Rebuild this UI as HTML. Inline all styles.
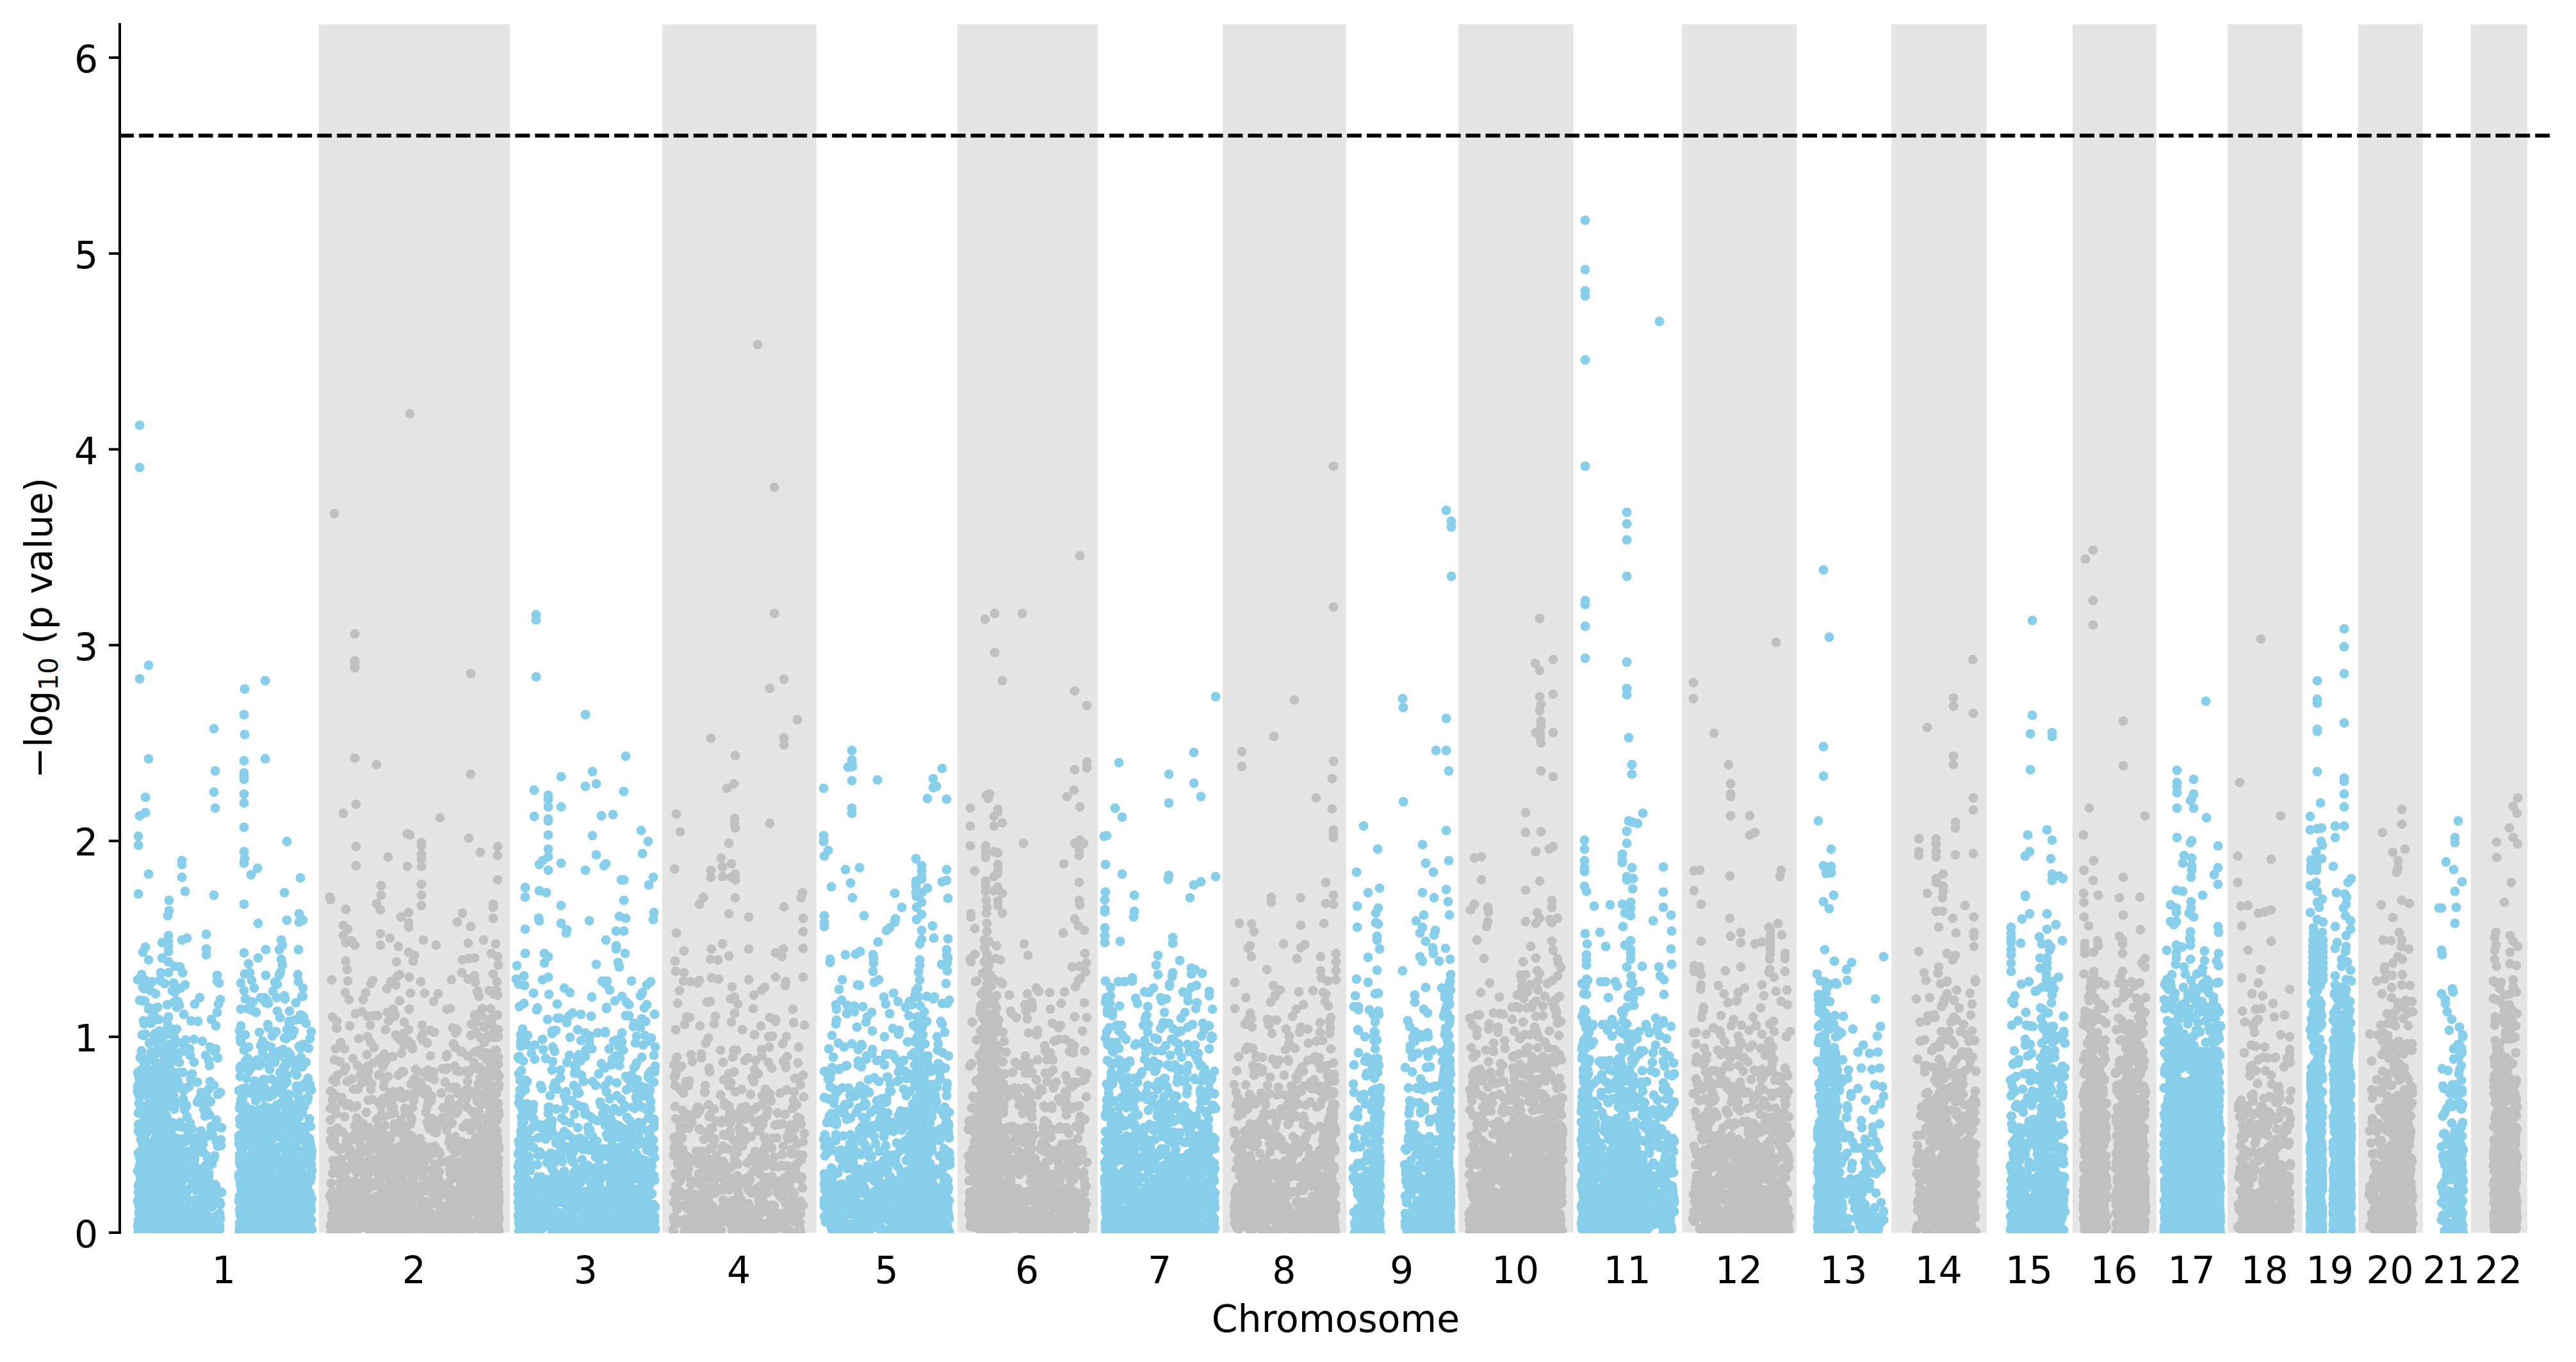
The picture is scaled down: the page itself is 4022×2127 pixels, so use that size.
<!DOCTYPE html><html><head><meta charset="utf-8"><style>html,body{margin:0;padding:0;background:#fff}svg{display:block}</style></head><body><svg width="4022" height="2127" viewBox="0 0 4022 2127"><rect width="4022" height="2127" fill="#fff"/><defs><clipPath id="c"><rect x="187.0" y="38.0" width="3794.0" height="1888.0"/></clipPath></defs><rect x="498" y="38.0" width="298.0" height="1887.0" fill="#e5e5e5"/><rect x="1034" y="38.0" width="240.8" height="1887.0" fill="#e5e5e5"/><rect x="1495" y="38.0" width="218.8" height="1887.0" fill="#e5e5e5"/><rect x="1909" y="38.0" width="192.9" height="1887.0" fill="#e5e5e5"/><rect x="2277" y="38.0" width="179.7" height="1887.0" fill="#e5e5e5"/><rect x="2626.1" y="38.0" width="178.9" height="1887.0" fill="#e5e5e5"/><rect x="2953.1" y="38.0" width="148.8" height="1887.0" fill="#e5e5e5"/><rect x="3236" y="38.0" width="130.9" height="1887.0" fill="#e5e5e5"/><rect x="3478" y="38.0" width="117.0" height="1887.0" fill="#e5e5e5"/><rect x="3682" y="38.0" width="100.9" height="1887.0" fill="#e5e5e5"/><rect x="3858" y="38.0" width="87.9" height="1887.0" fill="#e5e5e5"/><g clip-path="url(#c)"><path d="M215 1530h0m0 145h0m0 21h0m0 6h0m0 4h0m0 123h0m0 46h0m0 39h0m1-608h0m0 14h0m0 76h0m0 342h0m0 18h0m0 10h0m0 35h0m0 26h0m0 2h0m0 23h0m0 10h0m0 15h0m0 29h0m0 6h0m0 2h0m0 9h0m1-241h0m0 19h0m0 22h0m0 126h0m0 24h0m0 10h0m0 10h0m0 2h0m1-1231h0m0 66h0m0 330h0m0 214h0m0 288h0m0 126h0m0 25h0m0 56h0m0 0h0m0 39h0m0 12h0m0 3h0m0 26h0m0 14h0m0 5h0m0 41h0m1-258h0m0 1h0m0 20h0m0 32h0m0 30h0m0 21h0m0 14h0m0 69h0m0 19h0m0 43h0m1-120h0m0 17h0m0 17h0m0 2h0m0 21h0m0 3h0m0 49h0m1-367h0m0 119h0m0 131h0m1-156h0m0 34h0m0 80h0m0 68h0m0 32h0m0 12h0m1-355h0m0 54h0m0 22h0m0 166h0m0 58h0m0 3h0m0 25h0m1-221h0m0 23h0m0 73h0m0 52h0m0 10h0m0 122h0m1-335h0m0 5h0m0 55h0m0 62h0m0 19h0m0 184h0m1-301h0m0 141h0m0 61h0m0 8h0m0 138h0m1-666h0m0 24h0m0 210h0m0 52h0m0 84h0m0 44h0m0 238h0m0 24h0m1-263h0m0 2h0m0 49h0m0 100h0m0 32h0m0 43h0m1-190h0m0 49h0m0 26h0m0 15h0m0 124h0m1-182h0m0 70h0m0 29h0m0 27h0m1-157h0m0 11h0m0 7h0m0 160h0m0 49h0m1-883h0m0 146h0m0 180h0m0 134h0m0 77h0m0 0h0m0 95h0m0 83h0m0 10h0m1-226h0m0 36h0m0 55h0m0 187h0m0 21h0m1-103h0m0 30h0m0 21h0m0 1h0m1-239h0m0 136h0m0 178h0m0 28h0m1-298h0m0 7h0m0 45h0m0 2h0m0 35h0m0 61h0m0 58h0m0 49h0m0 71h0m1-268h0m0 48h0m0 20h0m0 182h0m1-368h0m0 163h0m0 67h0m1-174h0m0 65h0m0 30h0m0 133h0m0 62h0m1-304h0m0 9h0m0 67h0m0 33h0m0 68h0m0 31h0m0 23h0m0 39h0m1-227h0m0 171h0m0 39h0m0 39h0m0 45h0m1-298h0m0 9h0m0 46h0m0 42h0m0 17h0m0 7h0m0 43h0m0 113h0m1-339h0m0 107h0m0 107h0m0 42h0m0 30h0m0 19h0m0 65h0m1-202h0m1-91h0m1-56h0m0 63h0m0 35h0m0 29h0m0 47h0m0 34h0m0 97h0m1-236h0m0 2h0m0 224h0m1-276h0m0 162h0m0 42h0m0 21h0m0 84h0m1-291h0m0 72h0m0 10h0m0 155h0m1-317h0m0 184h0m0 23h0m0 122h0m0 30h0m1-370h0m0 13h0m0 129h0m0 110h0m0 148h0m1-187h0m0 54h0m0 42h0m0 80h0m1-436h0m0 24h0m0 123h0m0 3h0m0 177h0m0 38h0m1-134h0m0 7h0m0 4h0m0 11h0m0 38h0m0 44h0m1-134h0m1-41h0m0 49h0m0 70h0m0 29h0m0 39h0m0 39h0m0 20h0m0 42h0m1-384h0m0 118h0m0 10h0m0 76h0m0 130h0m1-71h0m0 32h0m0 15h0m1-201h0m0 38h0m0 47h0m0 52h0m0 115h0m1-197h0m0 43h0m0 51h0m0 91h0m1-316h0m0 24h0m0 22h0m0 18h0m0 75h0m0 200h0m1-478h0m0 171h0m0 5h0m0 29h0m0 26h0m0 157h0m1-357h0m0 9h0m0 7h0m0 9h0m0 16h0m0 17h0m0 69h0m0 104h0m0 59h0m0 18h0m0 93h0m0 58h0m1-514h0m0 16h0m0 213h0m0 14h0m0 161h0m0 28h0m0 37h0m0 13h0m0 21h0m1-278h0m0 52h0m0 37h0m0 37h0m0 99h0m1-250h0m0 83h0m0 1h0m0 82h0m1-114h0m0 13h0m0 82h0m0 17h0m0 56h0m0 24h0m0 49h0m1-205h0m0 70h0m0 10h0m0 2h0m1-229h0m0 206h0m0 34h0m0 13h0m1-76h0m0 83h0m0 113h0m1-385h0m0 143h0m0 24h0m0 9h0m0 17h0m0 139h0m1-302h0m0 54h0m0 23h0m0 15h0m0 75h0m0 25h0m0 122h0m1-370h0m0 41h0m0 269h0m0 35h0m0 54h0m1-73h0m1 7h0m0 47h0m1-316h0m0 34h0m0 22h0m0 149h0m0 77h0m1-206h0m0 141h0m0 11h0m0 68h0m1-305h0m0 64h0m0 61h0m0 94h0m0 28h0m0 88h0m0 23h0m1-247h0m0 23h0m0 24h0m0 37h0m0 68h0m0 25h0m0 62h0m1-344h0m0 89h0m0 96h0m1-245h0m0 186h0m0 57h0m0 85h0m0 20h0m1-315h0m0 277h0m0 61h0m1-182h0m0 114h0m0 39h0m0 2h0m0 14h0m0 20h0m1-544h0m0 6h0m0 20h0m0 98h0m0 311h0m0 18h0m0 72h0m0 12h0m1-362h0m0 123h0m0 118h0m1-85h0m0 41h0m0 93h0m0 26h0m0 71h0m1-322h0m0 119h0m0 139h0m1-109h0m0 163h0m0 27h0m1-531h0m0 146h0m0 99h0m0 146h0m0 104h0m1-263h0m0 203h0m0 88h0m1-189h0m0 2h0m0 134h0m0 6h0m0 19h0m1-422h0m0 279h0m0 31h0m1-77h0m0 100h0m0 14h0m0 78h0m1-119h0m0 150h0m1-224h0m0 78h0m0 82h0m0 44h0m1-263h0m1 10h0m0 106h0m0 122h0m1-282h0m0 91h0m0 116h0m0 39h0m0 65h0m1-124h0m0 43h0m0 52h0m1-199h0m0 86h0m0 87h0m0 57h0m0 11h0m2-99h0m0 10h0m0 8h0m0 54h0m0 0h0m0 6h0m0 1h0m0 11h0m1-286h0m0 36h0m0 133h0m0 45h0m0 54h0m1-323h0m0 243h0m0 63h0m1-71h0m0 20h0m0 78h0m0 22h0m1-146h0m0 46h0m0 36h0m0 20h0m1-40h0m0 19h0m1-168h0m0 31h0m0 60h0m0 125h0m1-311h0m0 181h0m0 50h0m1-27h0m0 82h0m1-165h0m0 72h0m0 86h0m0 42h0m1-358h0m0 218h0m0 72h0m0 40h0m1-14h0m1-168h0m0 15h0m0 45h0m0 74h0m0 8h0m0 12h0m0 12h0m1-9h0m1-237h0m0 147h0m1 14h0m0 38h0m0 73h0m0 12h0m0 0h0m0 12h0m1-190h0m0 68h0m1 78h0m0 9h0m0 10h0m1-154h0m0 78h0m0 71h0m0 22h0m1-266h0m0 128h0m0 99h0m1-416h0m0 23h0m0 9h0m0 221h0m0 123h0m0 22h0m0 14h0m1-136h0m0 136h0m1-65h0m0 3h0m0 9h0m1 48h0m0 43h0m0 14h0m1-267h0m0 45h0m0 131h0m0 6h0m1-174h0m0 77h0m0 107h0m0 52h0m0 0h0m1-265h0m0 54h0m0 32h0m0 181h0m1-182h0m0 48h0m1-176h0m0 167h0m0 143h0m0 14h0m1-151h0m0 1h0m0 50h0m0 2h0m0 67h0m1-111h0m0 88h0m2-724h0m0 99h0m0 161h0m0 297h0m0 114h0m0 44h0m1-211h0m0 163h0m0 69h0m1-670h0m0 58h0m0 588h0m0 23h0m1-271h0m0 36h0m0 214h0m0 7h0m0 63h0m1-173h0m0 34h0m0 73h0m0 43h0m0 12h0m1-388h0m0 9h0m0 49h0m1 71h0m0 57h0m0 81h0m1-222h0m0 348h0m1-381h0m1 225h0m0 117h0m0 18h0m0 19h0m0 6h0m1-359h0m0 145h0m0 81h0m0 94h0m0 22h0m1-123h0m0 9h0m1-28h0m0 101h0m27-159h0m0 71h0m0 3h0m0 9h0m0 48h0m0 4h0m0 38h0m1-266h0m0 121h0m0 17h0m0 25h0m0 30h0m0 6h0m0 7h0m0 52h0m0 21h0m0 21h0m0 8h0m0 0h0m0 3h0m0 1h0m0 2h0m0 0h0m1-302h0m0 44h0m0 2h0m0 1h0m0 12h0m0 44h0m0 31h0m0 62h0m0 24h0m0 7h0m0 43h0m0 5h0m0 21h0m0 4h0m1-387h0m0 41h0m0 26h0m0 23h0m0 2h0m0 38h0m0 53h0m0 14h0m0 16h0m0 45h0m0 14h0m0 14h0m0 11h0m0 9h0m0 12h0m0 33h0m0 13h0m1-198h0m0 70h0m0 5h0m0 70h0m0 13h0m1-149h0m0 23h0m0 11h0m0 62h0m0 23h0m0 2h0m0 29h0m0 1h0m0 40h0m1-187h0m0 31h0m0 55h0m1-100h0m0 37h0m0 21h0m0 32h0m1-674h0m0 72h0m0 19h0m0 5h0m0 5h0m0 23h0m0 14h0m0 38h0m0 38h0m0 18h0m0 64h0m0 76h0m0 59h0m0 93h0m0 266h0m0 13h0m1-843h0m0 71h0m0 194h0m0 180h0m0 187h0m0 169h0m0 14h0m1-331h0m0 56h0m0 41h0m0 70h0m0 31h0m0 79h0m0 17h0m1-294h0m0 139h0m0 111h0m0 9h0m0 47h0m1-182h0m0 100h0m0 5h0m1-127h0m0 112h0m1-199h0m0 78h0m0 88h0m0 69h0m0 111h0m1-416h0m0 130h0m0 38h0m0 71h0m0 7h0m0 84h0m0 30h0m0 46h0m1-174h0m0 27h0m0 1h0m0 82h0m0 37h0m0 15h0m1-380h0m0 151h0m0 66h0m0 86h0m0 4h0m1-169h0m0 128h0m0 91h0m1-510h0m0 199h0m0 12h0m0 130h0m0 26h0m0 25h0m1-227h0m0 283h0m0 18h0m1-39h0m0 9h0m0 57h0m0 36h0m0 27h0m1-357h0m0 100h0m0 35h0m0 87h0m1 114h0m0 8h0m1-366h0m0 116h0m0 29h0m0 5h0m0 69h0m0 12h0m0 64h0m0 30h0m1-288h0m0 129h0m0 125h0m0 54h0m0 32h0m1-216h0m0 9h0m0 6h0m0 79h0m0 52h0m1-269h0m0 167h0m0 14h0m1-17h0m0 89h0m0 43h0m1-521h0m0 299h0m0 84h0m0 69h0m0 12h0m0 53h0m0 36h0m1-467h0m0 54h0m0 250h0m0 87h0m0 19h0m1-119h0m0 50h0m0 35h0m0 63h0m1-269h0m0 52h0m0 107h0m0 38h0m0 111h0m1-91h0m0 11h0m0 23h0m0 35h0m1-340h0m0 75h0m0 26h0m0 120h0m1-76h0m0 58h0m1-13h0m0 25h0m0 14h0m0 9h0m0 92h0m0 26h0m0 6h0m1-294h0m0 17h0m0 90h0m0 70h0m1-117h0m0 7h0m0 21h0m0 112h0m0 73h0m0 7h0m1-344h0m0 143h0m0 49h0m0 19h0m0 74h0m1-289h0m0 141h0m0 29h0m0 9h0m0 63h0m0 54h0m0 16h0m0 9h0m1-816h0m0 122h0m0 501h0m0 128h0m1-331h0m0 40h0m0 43h0m0 66h0m0 206h0m1-102h0m0 50h0m0 75h0m1-299h0m0 90h0m1-52h0m0 145h0m0 28h0m0 144h0m1-350h0m0 38h0m0 125h0m0 57h0m0 14h0m0 15h0m0 88h0m0 18h0m1-256h0m0 47h0m0 62h0m0 25h0m0 29h0m1-159h0m0 83h0m0 10h0m0 40h0m0 46h0m0 36h0m0 4h0m0 1h0m1-63h0m0 64h0m0 1h0m1-257h0m0 17h0m0 93h0m0 66h0m0 48h0m1-174h0m0 153h0m1-220h0m0 93h0m0 54h0m0 102h0m0 8h0m0 27h0m0 12h0m1-366h0m0 99h0m0 131h0m0 113h0m1-189h0m0 31h0m0 32h0m0 27h0m1-149h0m0 64h0m0 116h0m0 32h0m0 22h0m1-343h0m0 125h0m0 70h0m0 72h0m0 124h0m1-125h0m0 39h0m1-228h0m0 80h0m0 82h0m1-215h0m0 168h0m0 4h0m0 94h0m0 15h0m0 4h0m0 23h0m0 41h0m1-370h0m0 42h0m0 165h0m0 10h0m0 58h0m0 106h0m1-228h0m0 102h0m0 31h0m0 60h0m1-92h0m0 106h0m1-414h0m0 40h0m0 119h0m0 7h0m0 143h0m0 17h0m1-220h0m0 86h0m0 18h0m0 49h0m0 28h0m0 2h0m0 3h0m0 98h0m1-355h0m0 205h0m0 40h0m0 2h0m0 11h0m0 76h0m0 35h0m1-419h0m0 30h0m0 183h0m0 151h0m0 3h0m0 25h0m1-157h0m0 5h0m0 42h0m0 43h0m0 72h0m0 44h0m1-433h0m0 31h0m0 237h0m0 130h0m0 48h0m1-283h0m0 29h0m0 109h0m0 64h0m1-123h0m1-324h0m0 161h0m0 66h0m0 73h0m0 91h0m0 34h0m0 67h0m1-326h0m0 184h0m0 85h0m0 69h0m0 13h0m1-251h0m0 5h0m0 134h0m0 13h0m0 2h0m0 35h0m1-227h0m0 23h0m0 78h0m0 8h0m0 29h0m0 27h0m1-473h0m0 123h0m0 171h0m0 71h0m0 11h0m0 116h0m0 13h0m0 19h0m1 3h0m0 19h0m0 6h0m1-223h0m0 0h0m0 70h0m0 53h0m0 84h0m1-255h0m0 114h0m0 34h0m0 79h0m0 53h0m0 20h0m0 14h0m1-330h0m0 21h0m0 322h0m1-275h0m1 159h0m0 15h0m1-162h0m0 92h0m0 0h0m0 29h0m0 16h0m0 110h0m1-289h0m0 108h0m0 13h0m0 11h0m0 37h0m0 85h0m0 13h0m0 35h0m1-98h0m0 12h0m0 14h0m0 47h0m1-34h0m1-250h0m0 148h0m0 51h0m1-216h0m0 68h0m0 116h0m1-106h0m0 2h0m0 90h0m0 11h0m0 9h0m0 20h0m0 33h0m0 22h0m1-292h0m0 90h0m0 14h0m0 100h0m0 22h0m0 75h0m0 32h0m1-220h0m0 17h0m0 2h0m0 53h0m0 42h0m0 116h0m0 11h0m1-218h0m0 1h0m0 30h0m0 93h0m0 53h0m1-357h0m0 188h0m1-227h0m0 50h0m0 247h0m0 37h0m0 33h0m0 43h0m1-466h0m0 13h0m0 152h0m0 42h0m0 84h0m0 12h0m0 0h0m0 15h0m0 24h0m0 8h0m0 62h0m0 44h0m0 39h0m1-221h0m0 79h0m1-409h0m0 214h0m0 52h0m0 59h0m0 111h0m0 23h0m1-245h0m0 49h0m0 17h0m0 109h0m0 98h0m1-302h0m0 356h0m1-246h0m0 72h0m0 132h0m1-433h0m0 106h0m0 13h0m0 75h0m0 260h0m0 12h0m1-315h0m0 132h0m0 41h0m0 44h0m0 14h0m0 14h0m0 11h0m1-116h0m0 156h0m1-192h0m0 77h0m0 27h0m0 22h0m0 57h0m1-116h0m0 25h0m1-186h0m0 61h0m0 57h0m0 101h0m0 104h0m1-128h0m0 59h0m1-133h0m0 71h0m0 62h0m0 3h0m1-171h0m0 16h0m0 14h0m0 149h0m0 37h0m0 8h0m1-271h0m0 226h0m1-116h0m0 31h0m0 4h0m0 29h0m0 3h0m0 28h0m0 36h0m0 16h0m0 8h0m1-280h0m0 72h0m0 89h0m0 38h0m0 13h0m0 11h0m0 18h0m0 3h0m0 48h0m1-155h0m0 30h0m0 17h0m0 69h0m0 0h0m0 6h0m0 4h0m1-274h0m0 91h0m0 100h0m0 4h0m0 1h0m0 11h0m0 20h0m0 52h0m0 15h0m1-108h0m0 31h0m0 44h0m0 48h0m319-391h0m1-21h0m2 143h0m0 151h0m0 19h0m0 18h0m0 13h0m0 2h0m0 0h0m0 11h0m0 12h0m0 21h0m1-361h0m0 116h0m0 24h0m0 45h0m0 60h0m0 79h0m0 15h0m0 10h0m0 17h0m0 7h0m0 13h0m1-351h0m0 78h0m0 62h0m0 12h0m0 63h0m0 11h0m0 17h0m0 15h0m0 27h0m0 12h0m0 23h0m0 11h0m0 6h0m0 1h0m0 3h0m0 9h0m1-235h0m0 15h0m0 21h0m0 66h0m0 36h0m0 4h0m0 11h0m0 41h0m0 9h0m1-274h0m0 12h0m0 6h0m0 89h0m0 44h0m0 75h0m1-225h0m0 7h0m0 48h0m0 57h0m0 15h0m0 29h0m0 74h0m1-141h0m0 47h0m0 4h0m0 48h0m0 6h0m1-204h0m0 126h0m0 48h0m0 57h0m0 75h0m1-256h0m0 96h0m0 63h0m0 12h0m1-304h0m0 43h0m0 184h0m0 51h0m0 2h0m0 66h0m0 22h0m1-353h0m0 84h0m0 74h0m0 68h0m0 74h0m0 0h0m1-453h0m0 15h0m0 50h0m0 38h0m0 198h0m0 15h0m0 91h0m0 0h0m0 109h0m1-45h0m1-132h0m0 45h0m0 96h0m1-177h0m0 35h0m0 119h0m0 23h0m0 15h0m0 42h0m1-306h0m0 15h0m0 211h0m0 10h0m0 4h0m0 18h0m0 27h0m1-174h0m0 54h0m0 32h0m0 10h0m0 90h0m1-186h0m0 13h0m0 65h0m0 1h0m0 14h0m0 68h0m1-124h0m0 55h0m0 49h0m1-89h0m0 9h0m0 27h0m0 12h0m1-88h0m1-95h0m1 268h0m1-179h0m0 26h0m0 134h0m0 27h0m1-370h0m0 174h0m0 22h0m0 45h0m0 57h0m0 22h0m1-637h0m0 41h0m0 573h0m1-216h0m0 22h0m0 196h0m0 29h0m0 26h0m1-57h0m0 16h0m0 23h0m1-927h0m0 8h0m0 89h0m0 863h0m1-343h0m0 276h0m1-279h0m0 245h0m1-42h0m0 27h0m0 34h0m0 40h0m0 13h0m0 18h0m1-475h0m0 322h0m0 147h0m1-553h0m0 41h0m0 47h0m0 366h0m1-5h0m0 62h0m1-166h0m1 67h0m0 76h0m0 18h0m0 20h0m0 18h0m1-194h0m0 57h0m0 84h0m0 36h0m0 42h0m1-575h0m0 186h0m0 93h0m0 218h0m1-202h0m0 206h0m0 37h0m2-393h0m0 15h0m0 269h0m0 122h0m0 12h0m1-141h0m0 7h0m1-120h0m0 126h0m1-385h0m0 448h0m0 24h0m0 48h0m1-156h0m0 47h0m0 11h0m0 65h0m1-289h0m0 281h0m0 19h0m0 15h0m1-665h0m0 7h0m0 11h0m0 19h0m0 3h0m0 22h0m0 22h0m0 12h0m0 21h0m0 135h0m0 32h0m0 203h0m0 10h0m0 15h0m1-201h0m1 176h0m0 81h0m1-99h0m0 39h0m0 23h0m0 80h0m0 8h0m1-60h0m0 97h0m1-141h0m0 66h0m0 18h0m0 20h0m0 5h0m0 5h0m0 32h0m0 13h0m1-306h0m0 4h0m0 57h0m0 79h0m0 17h0m0 155h0m0 2h0m1-289h0m0 23h0m0 169h0m1-129h0m0 188h0m0 10h0m1-7h0m1-247h0m0 50h0m0 111h0m0 12h0m0 65h0m1-189h0m0 144h0m0 67h0m1-293h0m0 176h0m0 27h0m1-80h0m0 102h0m1-266h0m0 22h0m0 111h0m0 147h0m0 60h0m2-53h0m0 14h0m0 42h0m1-136h0m0 148h0m1-333h0m0 94h0m0 194h0m1-207h0m0 12h0m0 104h0m0 20h0m0 48h0m0 39h0m1-681h0m0 47h0m0 88h0m0 66h0m0 28h0m0 335h0m0 17h0m0 10h0m0 41h0m1-99h0m0 31h0m0 118h0m1-81h0m0 45h0m0 47h0m1-72h0m0 40h0m1-84h0m0 1h0m0 69h0m1-317h0m0 168h0m0 21h0m0 18h0m0 17h0m0 62h0m0 3h0m0 85h0m2-209h0m0 4h0m0 60h0m0 147h0m1-462h0m0 248h0m0 14h0m0 51h0m0 21h0m0 72h0m0 39h0m1-450h0m0 145h0m0 62h0m0 192h0m0 32h0m0 10h0m2-102h0m0 97h0m1-301h0m0 186h0m0 69h0m0 52h0m1-246h0m0 265h0m1-363h0m0 70h0m0 133h0m0 47h0m1 6h0m0 62h0m0 18h0m1-26h0m0 13h0m0 48h0m1-202h0m0 90h0m0 4h0m0 61h0m1-292h0m0 262h0m0 59h0m1-124h0m0 12h0m0 8h0m0 16h0m1-120h0m0 136h0m0 5h0m1-172h0m0 12h0m0 64h0m0 91h0m0 62h0m1 18h0m1-242h0m0 184h0m0 53h0m0 1h0m0 13h0m1-221h0m1 8h0m0 19h0m0 99h0m0 40h0m1-257h0m0 45h0m0 108h0m0 97h0m0 21h0m0 1h0m0 39h0m1-130h0m0 39h0m1-181h0m0 60h0m0 71h0m0 1h0m0 59h0m0 35h0m1 9h0m0 39h0m1-264h0m0 121h0m0 14h0m0 55h0m0 43h0m1-306h0m0 41h0m0 103h0m0 133h0m1-182h0m0 146h0m1-14h0m0 30h0m1-46h0m0 47h0m0 60h0m0 19h0m1-232h0m0 41h0m0 107h0m0 70h0m1-178h0m0 53h0m0 111h0m1-156h0m0 3h0m0 85h0m0 36h0m0 49h0m1-794h0m0 112h0m0 131h0m0 254h0m0 37h0m0 86h0m0 54h0m0 90h0m1-241h0m0 230h0m0 40h0m0 6h0m1-175h0m0 165h0m1-14h0m0 24h0m0 5h0m1-160h0m0 60h0m1-51h0m0 27h0m1-358h0m0 190h0m0 210h0m1-220h0m0 146h0m0 68h0m1-88h0m0 102h0m0 19h0m0 37h0m1-315h0m0 267h0m0 2h0m1-299h0m0 81h0m0 238h0m0 6h0m0 10h0m1-687h0m0 100h0m0 384h0m0 85h0m0 13h0m0 135h0m1-174h0m1 120h0m1-80h0m0 46h0m0 88h0m1-98h0m0 18h0m0 67h0m1-214h0m0 106h0m0 2h0m0 4h0m0 48h0m0 54h0m1-685h0m0 111h0m0 171h0m0 358h0m0 47h0m1-129h0m1-169h0m0 137h0m0 138h0m0 11h0m2-222h0m0 143h0m0 11h0m0 40h0m0 14h0m1-75h0m0 34h0m0 8h0m0 69h0m1-200h0m1 4h0m0 153h0m0 20h0m1-624h0m0 387h0m0 230h0m1-359h0m0 307h0m0 70h0m1-170h0m0 55h0m1 7h0m0 59h0m1-508h0m0 389h0m0 86h0m0 95h0m1-254h0m0 28h0m0 56h0m0 109h0m1-250h0m0 2h0m0 118h0m0 26h0m0 47h0m0 32h0m0 24h0m0 12h0m1-523h0m0 119h0m0 69h0m0 209h0m1-173h0m0 2h0m0 130h0m0 67h0m0 22h0m0 30h0m0 80h0m0 12h0m1-384h0m0 354h0m1-110h0m0 115h0m0 3h0m1-87h0m0 65h0m0 22h0m1-256h0m0 49h0m0 1h0m0 63h0m0 43h0m0 33h0m0 47h0m0 48h0m1-376h0m0 170h0m0 53h0m0 68h0m0 27h0m0 47h0m1-74h0m0 11h0m0 1h0m1-186h0m0 85h0m0 50h0m0 61h0m0 24h0m1-64h0m1-165h0m0 109h0m0 25h0m0 47h0m1-563h0m0 461h0m0 2h0m0 40h0m0 126h0m0 1h0m1-276h0m0 149h0m0 34h0m0 16h0m1-94h0m0 115h0m1-283h0m0 170h0m0 90h0m1-174h0m0 107h0m0 121h0m0 44h0m1-467h0m0 23h0m0 5h0m0 167h0m0 218h0m1-243h0m0 67h0m0 20h0m0 110h0m0 66h0m0 28h0m1-107h0m0 98h0m1-403h0m0 273h0m0 18h0m0 10h0m0 16h0m0 32h0m0 10h0m0 34h0m1-262h0m0 124h0m0 7h0m0 137h0m1-471h0m0 79h0m0 154h0m0 72h0m0 56h0m0 42h0m0 3h0m1-184h0m0 122h0m0 81h0m0 18h0m1 11h0m0 36h0m1-547h0m0 343h0m1-161h0m0 57h0m0 14h0m0 135h0m0 84h0m1-70h0m0 42h0m1-178h0m0 129h0m0 27h0m0 28h0m1-588h0m0 138h0m0 32h0m0 48h0m0 277h0m0 56h0m0 22h0m0 115h0m1-198h0m0 138h0m0 37h0m1-412h0m0 407h0m1-715h0m0 253h0m0 152h0m0 95h0m0 122h0m0 26h0m0 55h0m0 28h0m1-347h0m0 137h0m0 136h0m0 14h0m0 21h0m0 12h0m0 21h0m1-161h0m0 19h0m1-80h0m0 106h0m0 11h0m0 61h0m1-91h0m0 109h0m0 23h0m0 17h0m1-351h0m0 17h0m0 163h0m0 53h0m0 17h0m0 25h0m0 4h0m1-98h0m0 98h0m1-165h0m0 79h0m0 7h0m0 99h0m1-175h0m0 85h0m0 10h0m0 34h0m0 31h0m1-321h0m0 147h0m0 216h0m1-60h0m0 22h0m1-161h0m0 33h0m0 81h0m0 69h0m1-276h0m0 157h0m0 151h0m0 9h0m1-322h0m0 69h0m0 164h0m1-131h0m0 31h0m0 97h0m0 29h0m0 23h0m1-251h0m0 36h0m0 201h0m0 1h0m0 14h0m0 8h0m0 0h0m1-176h0m0 2h0m0 74h0m0 30h0m0 83h0m1-284h0m0 42h0m0 31h0m0 84h0m0 27h0m0 39h0m0 21h0m0 29h0m1-205h0m0 98h0m0 137h0m1-202h0m0 156h0m1-122h0m0 22h0m0 43h0m1-38h0m0 95h0m1-112h0m0 144h0m1-352h0m0 49h0m0 97h0m0 123h0m0 36h0m0 19h0m0 34h0m1-616h0m0 489h0m0 24h0m1-219h0m0 60h0m0 103h0m0 81h0m0 18h0m1-520h0m0 217h0m0 147h0m0 32h0m0 113h0m0 2h0m0 51h0m1-263h0m0 214h0m0 76h0m1-211h0m0 73h0m0 79h0m0 22h0m1-311h0m0 300h0m1-257h0m0 93h0m0 102h0m1-217h0m0 137h0m0 55h0m0 115h0m1-85h0m1-279h0m0 31h0m0 130h0m0 67h0m0 28h0m0 2h0m0 116h0m1-83h0m0 12h0m0 35h0m1-562h0m0 312h0m0 56h0m0 64h0m0 34h0m0 36h0m0 37h0m0 8h0m0 27h0m1-506h0m0 295h0m0 36h0m0 150h0m0 59h0m1-238h0m0 48h0m0 11h0m0 29h0m0 4h0m1-73h0m0 146h0m0 48h0m0 12h0m1-376h0m0 140h0m0 47h0m0 1h0m0 11h0m0 56h0m0 41h0m1-208h0m0 244h0m1-103h0m0 59h0m0 43h0m0 27h0m1-130h0m0 41h0m0 92h0m1-524h0m0 66h0m0 344h0m0 60h0m0 41h0m0 22h0m1-478h0m0 223h0m0 0h0m0 42h0m0 58h0m0 5h0m0 7h0m0 34h0m0 42h0m1-252h0m0 90h0m0 134h0m0 35h0m0 42h0m0 14h0m0 8h0m0 11h0m1-283h0m0 30h0m0 220h0m0 33h0m0 2h0m263-689h0m0 74h0m0 9h0m0 465h0m1-442h0m0 93h0m0 11h0m0 6h0m0 226h0m0 41h0m0 119h0m0 16h0m0 24h0m0 4h0m0 7h0m0 16h0m1-128h0m0 19h0m0 14h0m0 35h0m0 19h0m0 0h0m0 18h0m0 0h0m1-23h0m0 1h0m0 53h0m1-117h0m0 96h0m0 20h0m1-154h0m1 29h0m0 18h0m0 75h0m1-547h0m0 357h0m0 31h0m0 34h0m0 101h0m0 39h0m0 6h0m1-258h0m0 195h0m1-90h0m0 168h0m1-413h0m0 5h0m0 181h0m0 13h0m1 154h0m0 30h0m1-496h0m0 290h0m0 64h0m0 44h0m0 41h0m0 22h0m0 19h0m0 1h0m0 1h0m0 32h0m0 14h0m0 4h0m1-300h0m0 50h0m0 86h0m0 92h0m0 71h0m0 4h0m1-94h0m0 43h0m1-218h0m0 145h0m1-95h0m0 22h0m0 189h0m1-198h0m0 190h0m0 8h0m1-167h0m0 89h0m0 17h0m0 8h0m0 28h0m1-318h0m0 30h0m0 173h0m0 9h0m1-205h0m0 17h0m0 158h0m0 5h0m0 141h0m0 23h0m1-215h0m1 95h0m0 32h0m0 45h0m1-248h0m1-84h0m0 125h0m0 63h0m0 118h0m0 14h0m1-196h0m0 140h0m0 43h0m0 3h0m1 30h0m0 7h0m1-96h0m1-234h0m0 287h0m0 74h0m1-393h0m0 169h0m0 123h0m0 94h0m2-142h0m0 92h0m0 10h0m0 30h0m0 3h0m1-274h0m0 95h0m0 9h0m1-14h0m0 85h0m0 12h0m0 85h0m1-549h0m0 133h0m0 174h0m2-82h0m0 81h0m0 84h0m0 107h0m0 8h0m0 21h0m1-314h0m0 228h0m0 27h0m0 27h0m1-654h0m0 605h0m0 15h0m0 76h0m0 19h0m1-214h0m0 96h0m0 126h0m1-197h0m0 76h0m1-89h0m0 75h0m0 56h0m0 31h0m0 3h0m0 0h0m1-497h0m0 367h0m0 26h0m0 26h0m0 98h0m0 0h0m0 17h0m1-31h0m1-710h0m0 15h0m0 5h0m0 27h0m0 43h0m0 8h0m0 360h0m0 249h0m1-682h0m0 205h0m0 457h0m0 7h0m0 27h0m0 18h0m0 8h0m1-137h0m0 28h0m0 6h0m0 35h0m1-61h0m0 91h0m0 11h0m1-321h0m0 9h0m1 132h0m0 112h0m0 6h0m0 51h0m1-391h0m0 393h0m0 27h0m1-173h0m0 168h0m0 15h0m1-316h0m1-66h0m0 165h0m0 136h0m0 8h0m0 31h0m0 2h0m1-241h0m0 18h0m0 6h0m0 111h0m0 26h0m0 59h0m0 5h0m1-134h0m1-375h0m0 184h0m0 225h0m0 11h0m0 51h0m1-340h0m0 210h0m1 107h0m0 92h0m0 15h0m1-279h0m0 35h0m0 225h0m1-258h0m0 126h0m0 20h0m0 49h0m0 11h0m0 63h0m0 20h0m1-350h0m0 173h0m0 39h0m0 60h0m1-134h0m0 119h0m1-399h0m0 297h0m0 153h0m1-158h0m0 65h0m0 68h0m0 50h0m1-204h0m0 70h0m0 94h0m1-269h0m0 128h0m0 22h0m0 8h0m0 37h0m1-142h0m0 5h0m1-66h0m0 178h0m0 60h0m0 56h0m1-61h0m0 45h0m0 48h0m1-228h0m0 83h0m0 26h0m0 82h0m0 20h0m1-191h0m0 100h0m0 70h0m0 34h0m0 14h0m1-95h0m0 10h0m0 45h0m2-147h0m0 31h0m0 96h0m0 25h0m1-308h0m0 64h0m0 161h0m0 24h0m0 5h0m0 67h0m1-292h0m0 29h0m0 202h0m0 32h0m1-382h0m0 26h0m0 241h0m0 129h0m1-391h0m0 8h0m0 393h0m1-363h0m0 149h0m0 92h0m0 86h0m1-41h0m0 25h0m1-114h0m0 55h0m0 129h0m0 1h0m1-183h0m0 183h0m1-260h0m0 63h0m0 41h0m0 123h0m0 23h0m1-688h0m0 510h0m0 5h0m0 87h0m0 28h0m0 63h0m1-440h0m0 351h0m0 27h0m0 68h0m1-387h0m0 159h0m0 64h0m0 67h0m0 16h0m0 9h0m1-85h0m0 38h0m0 64h0m0 8h0m0 49h0m1-172h0m0 82h0m0 65h0m1-238h0m0 76h0m0 86h0m0 86h0m1-188h0m0 30h0m0 171h0m2-98h0m0 84h0m0 19h0m0 2h0m1-43h0m0 11h0m1-335h0m0 215h0m0 3h0m0 37h0m0 10h0m0 8h0m0 37h0m0 34h0m1-282h0m0 44h0m0 89h0m0 97h0m0 8h0m0 42h0m1-144h0m0 124h0m1-311h0m0 78h0m0 143h0m0 136h0m1-472h0m0 261h0m0 7h0m0 46h0m1-85h0m0 84h0m1-84h0m0 56h0m0 65h0m0 6h0m0 15h0m0 1h0m0 22h0m1 28h0m0 30h0m1-148h0m0 86h0m0 46h0m1-440h0m0 134h0m0 120h0m0 49h0m0 85h0m0 16h0m0 53h0m0 13h0m1-273h0m0 46h0m0 11h0m0 135h0m1-134h0m1 111h0m0 47h0m0 9h0m0 40h0m0 11h0m1-26h0m1-290h0m0 41h0m0 196h0m1-292h0m0 216h0m0 37h0m0 81h0m0 17h0m1-44h0m1-463h0m0 45h0m1-5h0m0 318h0m0 51h0m0 9h0m1-159h0m0 152h0m0 114h0m1-135h0m0 61h0m1-157h0m0 61h0m0 110h0m1-296h0m0 258h0m0 48h0m0 23h0m1-278h0m0 59h0m0 13h0m0 55h0m0 17h0m0 122h0m0 28h0m1-300h0m0 283h0m1-230h0m0 77h0m0 50h0m0 8h0m0 61h0m1-123h0m0 60h0m0 46h0m0 82h0m1-252h0m0 161h0m0 26h0m0 43h0m1-484h0m0 348h0m0 22h0m0 43h0m0 81h0m1-159h0m0 93h0m1 25h0m0 2h0m1-216h0m0 45h0m0 130h0m0 89h0m1-176h0m0 48h0m0 43h0m1-162h0m0 109h0m1-209h0m0 163h0m0 57h0m0 0h0m0 62h0m0 31h0m1-202h0m0 27h0m0 44h0m0 57h0m0 60h0m0 26h0m1-69h0m0 64h0m1-266h0m0 228h0m0 27h0m1-124h0m0 39h0m0 12h0m0 21h0m0 39h0m0 13h0m0 27h0m0 11h0m1-334h0m0 91h0m0 67h0m0 33h0m0 65h0m0 5h0m0 23h0m1-306h0m1 140h0m0 69h0m0 33h0m0 29h0m0 50h0m1-99h0m0 79h0m1-217h0m0 89h0m1-168h0m0 116h0m0 0h0m0 135h0m1-96h0m0 7h0m0 33h0m0 108h0m0 26h0m1-297h0m0 130h0m0 34h0m1-139h0m0 18h0m0 109h0m0 22h0m0 40h0m0 14h0m0 24h0m0 38h0m0 29h0m1-294h0m0 37h0m0 14h0m0 6h0m0 198h0m0 29h0m1-357h0m0 3h0m0 139h0m0 95h0m0 7h0m1-456h0m0 35h0m0 7h0m0 11h0m0 153h0m0 57h0m0 23h0m0 97h0m0 42h0m1-366h0m0 17h0m0 19h0m0 224h0m0 19h0m0 18h0m0 18h0m0 30h0m0 59h0m0 37h0m0 18h0m1-271h0m0 59h0m0 185h0m0 14h0m1-303h0m0 75h0m0 79h0m0 18h0m0 65h0m0 90h0m0 51h0m1-403h0m0 39h0m0 38h0m0 36h0m0 40h0m0 83h0m1-20h0m0 156h0m0 21h0m1-437h0m0 25h0m0 9h0m0 22h0m0 82h0m0 10h0m0 17h0m0 62h0m0 9h0m0 112h0m0 79h0m1-330h0m0 80h0m0 14h0m0 26h0m0 91h0m0 73h0m1-169h0m0 126h0m1-460h0m0 8h0m0 8h0m0 5h0m0 21h0m0 15h0m0 19h0m0 25h0m0 14h0m0 196h0m0 76h0m0 8h0m0 23h0m0 28h0m0 81h0m1-290h0m0 15h0m0 152h0m1-140h0m0 13h0m0 90h0m0 11h0m0 10h0m0 23h0m0 45h0m0 37h0m0 22h0m1-76h0m0 84h0m1-295h0m0 70h0m0 30h0m0 65h0m0 8h0m0 13h0m0 71h0m0 66h0m0 18h0m1-291h0m0 73h0m0 124h0m1-136h0m0 77h0m0 16h0m0 61h0m0 46h0m0 11h0m1-200h0m0 25h0m0 47h0m0 47h0m0 36h0m1-301h0m0 39h0m0 211h0m0 107h0m1-666h0m0 140h0m0 272h0m0 8h0m0 50h0m0 168h0m1-236h0m0 130h0m0 23h0m0 66h0m0 56h0m1-219h0m1 111h0m0 77h0m1-140h0m0 64h0m2-144h0m0 21h0m0 44h0m0 28h0m0 6h0m0 21h0m0 40h0m0 11h0m0 10h0m0 22h0m0 35h0m1-243h0m0 51h0m0 16h0m0 9h0m0 50h0m0 3h0m0 47h0m1-398h0m0 383h0m0 45h0m0 30h0m0 17h0m1-705h0m0 14h0m0 330h0m0 137h0m0 69h0m0 112h0m1-413h0m0 317h0m0 78h0m1-303h0m0 139h0m0 190h0m1-175h0m0 124h0m0 18h0m0 11h0m1 48h0m1-684h0m0 492h0m0 10h0m0 49h0m0 47h0m0 69h0m1-276h0m0 73h0m0 6h0m1-58h0m0 136h0m0 1h0m0 57h0m1-204h0m0 31h0m1 11h0m0 202h0m1-199h0m0 106h0m0 24h0m0 118h0m1-259h0m0 20h0m0 79h0m0 14h0m0 55h0m0 27h0m0 25h0m1-289h0m0 139h0m0 170h0m1-398h0m0 301h0m0 22h0m0 66h0m1-695h0m0 177h0m0 190h0m0 32h0m0 228h0m1-183h0m0 118h0m0 43h0m0 83h0m0 25h0m1-94h0m1-77h0m0 52h0m0 51h0m0 4h0m0 11h0m0 8h0m0 54h0m1-310h0m0 117h0m0 71h0m0 38h0m0 40h0m1-210h0m0 100h0m0 145h0m1-377h0m0 209h0m0 8h0m0 86h0m0 9h0m0 16h0m1-616h0m0 110h0m0 17h0m0 108h0m0 9h0m0 208h0m0 11h0m0 109h0m0 93h0m1-409h0m0 12h0m0 51h0m0 125h0m0 159h0m0 63h0m1-511h0m0 63h0m0 30h0m0 276h0m0 71h0m0 17h0m0 25h0m0 6h0m0 10h0m1-252h0m0 106h0m0 4h0m0 9h0m0 37h0m0 13h0m0 37h0m0 41h0m0 26h0m1-360h0m0 175h0m0 40h0m0 23h0m0 3h0m0 7h0m0 2h0m0 63h0m0 28h0m0 20h0m1-112h0m0 8h0m241-513h0m1 99h0m0 15h0m0 4h0m0 25h0m0 12h0m0 11h0m0 344h0m0 23h0m0 7h0m0 1h0m1-497h0m0 43h0m0 139h0m0 33h0m0 56h0m0 119h0m0 3h0m0 24h0m0 16h0m0 14h0m0 28h0m0 25h0m0 9h0m0 3h0m0 5h0m0 8h0m0 10h0m0 3h0m0 20h0m0 6h0m0 1h0m0 3h0m0 4h0m1-364h0m0 268h0m0 31h0m0 1h0m0 11h0m0 6h0m0 2h0m0 2h0m0 5h0m0 5h0m0 1h0m0 6h0m0 16h0m0 12h0m1-619h0m0 306h0m0 82h0m0 25h0m0 11h0m0 84h0m0 41h0m0 24h0m0 2h0m0 9h0m0 8h0m0 7h0m0 1h0m0 5h0m1-333h0m0 5h0m0 47h0m0 27h0m0 88h0m0 38h0m0 28h0m0 3h0m0 21h0m0 59h0m0 5h0m0 1h0m0 2h0m1-269h0m0 105h0m0 4h0m0 27h0m0 13h0m0 52h0m1-134h0m0 9h0m0 61h0m0 4h0m0 2h0m0 23h0m0 16h0m1-209h0m0 53h0m0 59h0m0 56h0m0 12h0m0 8h0m0 2h0m0 115h0m1-343h0m0 63h0m0 104h0m1-192h0m0 13h0m0 183h0m0 119h0m0 19h0m1-201h0m0 7h0m0 38h0m0 36h0m0 18h0m0 59h0m1-205h0m0 35h0m0 28h0m0 96h0m0 39h0m0 19h0m1-265h0m0 6h0m0 56h0m0 35h0m0 16h0m0 27h0m0 145h0m0 57h0m1-279h0m0 244h0m1-168h0m0 85h0m0 12h0m0 12h0m0 74h0m0 8h0m1-146h0m1-502h0m0 499h0m0 35h0m0 39h0m0 20h0m0 0h0m1-110h0m0 87h0m0 44h0m0 20h0m1-295h0m0 27h0m0 32h0m0 116h0m0 38h0m0 19h0m1-44h0m0 71h0m2-327h0m0 149h0m0 83h0m0 28h0m0 51h0m0 39h0m0 37h0m1-729h0m0 419h0m0 27h0m0 18h0m0 75h0m0 13h0m0 20h0m0 109h0m0 10h0m0 3h0m1-314h0m0 112h0m0 227h0m1-440h0m0 280h0m0 170h0m1-165h0m0 4h0m0 99h0m1-257h0m0 71h0m0 42h0m0 39h0m0 26h0m0 1h0m0 26h0m1-530h0m0 89h0m0 322h0m0 114h0m0 62h0m0 26h0m0 13h0m1-285h0m0 109h0m0 86h0m0 85h0m1-228h0m0 81h0m0 90h0m0 9h0m1-152h0m0 22h0m0 38h0m0 72h0m1-296h0m0 178h0m0 78h0m0 121h0m1-250h0m0 41h0m0 57h0m0 26h0m0 61h0m1-222h0m0 45h0m0 30h0m0 137h0m0 0h0m0 21h0m0 17h0m0 48h0m1-204h0m0 13h0m0 44h0m0 41h0m1-121h0m0 17h0m0 67h0m0 47h0m1-142h0m0 143h0m1-26h0m0 10h0m0 43h0m0 24h0m0 9h0m0 8h0m1-10h0m0 21h0m0 10h0m1-258h0m0 2h0m0 207h0m1 59h0m1-108h0m1-100h0m0 28h0m0 4h0m0 45h0m0 111h0m1-378h0m0 5h0m0 243h0m1-53h0m0 64h0m0 48h0m0 8h0m0 53h0m1-463h0m0 267h0m0 10h0m0 11h0m0 34h0m0 129h0m1-485h0m0 25h0m0 261h0m0 22h0m0 25h0m0 28h0m0 27h0m0 14h0m0 57h0m1-225h0m0 125h0m0 37h0m0 34h0m0 20h0m0 23h0m0 44h0m1-356h0m0 341h0m1-270h0m0 133h0m0 19h0m0 25h0m0 20h0m0 13h0m1-131h0m0 53h0m0 55h0m0 44h0m0 64h0m1-358h0m0 123h0m0 157h0m0 64h0m1-170h0m0 31h0m0 53h0m1 53h0m1-97h0m0 110h0m0 32h0m1-59h0m0 35h0m1-221h0m0 35h0m0 126h0m0 66h0m1-94h0m0 10h0m1-147h0m0 194h0m2-267h0m1 160h0m0 6h0m0 25h0m0 47h0m0 50h0m1-340h0m0 76h0m0 8h0m0 21h0m0 123h0m0 9h0m0 15h0m0 115h0m1-326h0m0 197h0m0 8h0m0 10h0m0 50h0m0 29h0m1-240h0m0 176h0m0 71h0m0 17h0m0 13h0m1-335h0m0 120h0m0 170h0m1-242h0m0 83h0m0 89h0m0 61h0m0 36h0m1-331h0m0 40h0m0 83h0m0 66h0m0 46h0m0 1h0m0 44h0m0 36h0m1-288h0m0 35h0m0 30h0m0 69h0m0 95h0m0 89h0m1-368h0m0 85h0m0 224h0m0 36h0m1-139h0m1 34h0m0 25h0m1-16h0m0 0h0m0 46h0m1-64h0m0 68h0m1-50h0m0 75h0m1-149h0m0 100h0m0 85h0m1-367h0m0 114h0m0 55h0m0 53h0m0 76h0m0 40h0m0 40h0m1-163h0m0 57h0m0 89h0m1-283h0m0 20h0m0 32h0m0 139h0m1-116h0m0 83h0m0 62h0m0 49h0m0 2h0m1-385h0m0 164h0m0 187h0m0 10h0m0 2h0m1-112h0m0 67h0m0 27h0m0 40h0m1-269h0m0 120h0m0 80h0m0 44h0m0 13h0m1-388h0m0 30h0m0 179h0m0 36h0m0 69h0m1-144h0m0 27h0m0 50h0m0 66h0m0 22h0m1 11h0m0 66h0m0 10h0m0 9h0m1-197h0m0 33h0m1-201h0m0 48h0m0 90h0m0 27h0m0 9h0m0 20h0m0 14h0m0 110h0m1-82h0m0 39h0m0 25h0m0 34h0m0 23h0m1-352h0m0 78h0m0 156h0m0 3h0m0 104h0m1-83h0m0 27h0m0 32h0m0 13h0m1-296h0m0 178h0m0 107h0m1-169h0m0 31h0m0 25h0m0 119h0m1-307h0m0 103h0m0 40h0m0 98h0m1-223h0m0 85h0m0 90h0m0 46h0m1-187h0m0 161h0m0 43h0m0 30h0m0 23h0m1-330h0m0 174h0m0 109h0m0 18h0m1-164h0m0 70h0m0 38h0m0 12h0m0 107h0m1-261h0m0 191h0m0 21h0m0 28h0m0 10h0m1-540h0m0 382h0m0 12h0m0 123h0m1-681h0m0 45h0m0 113h0m0 231h0m0 108h0m0 42h0m0 34h0m0 24h0m0 4h0m0 19h0m1-292h0m0 3h0m0 342h0m1-234h0m0 18h0m0 60h0m0 11h0m0 135h0m1-98h0m0 134h0m1-285h0m0 126h0m0 33h0m0 66h0m1-323h0m0 198h0m0 59h0m0 23h0m0 8h0m0 52h0m0 34h0m1-435h0m0 9h0m0 46h0m0 213h0m0 93h0m0 14h0m1-232h0m0 60h0m0 44h0m0 142h0m1-102h0m0 17h0m0 124h0m0 28h0m1-294h0m0 37h0m0 61h0m0 61h0m0 2h0m1-56h0m0 42h0m0 31h0m1-9h0m0 0h0m0 113h0m1-196h0m0 16h0m0 20h0m0 82h0m0 46h0m1-186h0m0 80h0m0 96h0m0 17h0m1-271h0m0 71h0m0 6h0m0 119h0m0 35h0m0 13h0m1-226h0m0 11h0m0 33h0m1 58h0m0 48h0m0 30h0m0 12h0m0 67h0m0 9h0m1-398h0m0 169h0m0 100h0m0 144h0m1-165h0m0 71h0m0 84h0m1-313h0m0 20h0m0 131h0m0 184h0m1-274h0m1 37h0m0 146h0m0 34h0m1-319h0m0 286h0m0 5h0m0 12h0m0 28h0m0 20h0m1-92h0m0 22h0m0 27h0m1-130h0m0 23h0m0 34h0m0 35h0m0 68h0m1-306h0m0 171h0m0 70h0m0 99h0m1-235h0m0 98h0m0 41h0m0 24h0m1-39h0m0 1h0m0 49h0m0 9h0m1-195h0m0 34h0m0 29h0m0 1h0m0 114h0m0 1h0m0 57h0m0 3h0m1-359h0m0 77h0m0 68h0m0 63h0m1-199h0m0 41h0m0 60h0m0 138h0m0 66h0m1-128h0m0 155h0m1-253h0m0 130h0m0 82h0m1-452h0m0 478h0m0 27h0m1-145h0m0 48h0m1-298h0m0 9h0m0 21h0m0 209h0m0 101h0m1-67h0m0 48h0m0 34h0m0 54h0m1-321h0m0 212h0m0 2h0m0 25h0m0 48h0m1-99h0m0 7h0m0 62h0m0 23h0m1-705h0m0 48h0m0 159h0m0 440h0m0 25h0m1-163h0m0 102h0m0 15h0m1-287h0m0 118h0m0 54h0m0 213h0m1-324h0m0 75h0m0 124h0m0 150h0m1-385h0m0 204h0m0 80h0m0 10h0m0 21h0m0 14h0m1-302h0m0 188h0m1-98h0m0 257h0m1-268h0m0 143h0m0 75h0m1-107h0m0 45h0m0 14h0m0 29h0m1-30h0m0 59h0m0 17h0m1-226h0m0 38h0m0 5h0m0 25h0m0 25h0m0 165h0m1-678h0m0 133h0m0 343h0m0 35h0m0 41h0m0 41h0m0 45h0m0 24h0m1-288h0m0 46h0m0 24h0m0 24h0m1-192h0m0 255h0m0 79h0m0 46h0m0 1h0m0 0h0m1-303h0m0 164h0m0 2h0m0 49h0m0 19h0m0 74h0m0 6h0m1-234h0m0 144h0m1-213h0m0 192h0m1-131h0m0 37h0m0 143h0m0 24h0m1-155h0m0 75h0m0 97h0m1-155h0m0 43h0m0 86h0m0 45h0m1-171h0m0 143h0m1-170h0m0 72h0m0 37h0m0 52h0m0 48h0m1-161h0m0 3h0m0 24h0m0 72h0m0 32h0m1-143h0m0 40h0m0 11h0m0 8h0m1-259h0m0 7h0m0 47h0m0 36h0m0 52h0m0 11h0m0 72h0m0 71h0m0 63h0m1-78h0m1-150h0m1-57h0m0 110h0m0 81h0m0 27h0m0 9h0m0 4h0m0 53h0m0 4h0m1-292h0m0 67h0m0 162h0m1-271h0m0 44h0m0 215h0m1-109h0m0 5h0m0 45h0m0 56h0m0 28h0m0 40h0m1-111h0m0 52h0m0 30h0m0 38h0m0 14h0m1-250h0m0 35h0m0 109h0m0 27h0m0 21h0m0 10h0m0 2h0m0 6h0m0 3h0m0 17h0m0 1h0m1-125h0m0 15h0m0 31h0m0 38h0m0 23h0m0 31h0m1-829h0m0 281h0m0 362h0m215-38h0m0 83h0m0 49h0m0 14h0m1-267h0m0 91h0m0 43h0m0 36h0m0 50h0m0 51h0m0 50h0m1-68h0m0 85h0m0 15h0m1-370h0m0 230h0m0 129h0m1-68h0m0 49h0m1-533h0m0 167h0m0 311h0m0 0h0m0 64h0m1-489h0m0 33h0m0 341h0m0 50h0m0 19h0m1-250h0m0 125h0m0 11h0m0 19h0m0 54h0m0 48h0m0 22h0m0 23h0m1-338h0m0 5h0m0 32h0m0 35h0m2 260h0m1-113h0m0 79h0m0 16h0m0 1h0m0 17h0m0 17h0m1-210h0m0 4h0m0 106h0m0 50h0m1-20h0m0 5h0m0 18h0m1-109h0m1 118h0m1-593h0m1 419h0m0 9h0m0 50h0m0 46h0m0 22h0m0 2h0m0 8h0m0 45h0m0 10h0m1-282h0m0 38h0m0 121h0m0 145h0m1-199h0m0 58h0m0 79h0m0 32h0m0 20h0m1-233h0m0 194h0m0 29h0m1-252h0m0 25h0m0 134h0m0 106h0m1-258h0m0 145h0m1-409h0m0 101h0m0 39h0m0 225h0m0 42h0m0 28h0m0 12h0m1-72h0m0 82h0m1-274h0m0 225h0m0 60h0m0 23h0m1-207h0m0 108h0m2-28h0m1-24h0m0 108h0m0 25h0m1-198h0m0 34h0m0 54h0m0 56h0m0 80h0m0 9h0m0 10h0m1-328h0m0 123h0m0 50h0m0 60h0m0 64h0m0 42h0m1-305h0m0 36h0m0 51h0m0 13h0m0 84h0m0 19h0m0 9h0m0 9h0m1-228h0m0 15h0m0 58h0m0 0h0m0 42h0m0 21h0m0 15h0m0 91h0m0 23h0m1-324h0m0 44h0m0 16h0m0 10h0m0 16h0m0 21h0m0 56h0m0 5h0m0 59h0m0 10h0m0 8h0m1-371h0m0 15h0m0 225h0m0 35h0m0 94h0m1-56h0m0 4h0m0 29h0m1-310h0m0 6h0m0 47h0m0 109h0m0 87h0m1-385h0m0 327h0m0 22h0m0 54h0m0 130h0m0 24h0m1-465h0m0 25h0m0 108h0m0 28h0m0 220h0m0 3h0m0 42h0m0 3h0m0 10h0m0 29h0m0 1h0m0 19h0m1-322h0m0 80h0m0 99h0m0 5h0m0 26h0m0 15h0m0 3h0m0 14h0m0 13h0m0 7h0m0 0h0m0 16h0m0 15h0m0 1h0m0 2h0m0 10h0m0 13h0m0 2h0m0 3h0m1-521h0m0 95h0m0 221h0m0 1h0m0 12h0m0 8h0m0 22h0m0 7h0m0 3h0m0 26h0m0 23h0m0 18h0m0 1h0m0 5h0m0 7h0m0 13h0m0 22h0m0 3h0m0 2h0m0 15h0m0 4h0m0 4h0m0 12h0m0 4h0m1-216h0m0 17h0m0 1h0m0 23h0m0 74h0m0 39h0m0 15h0m0 26h0m0 28h0m0 2h0m35-833h0m0 425h0m1-411h0m0 147h0m2 567h0m1-152h0m0 127h0m0 74h0m0 27h0m0 13h0m0 7h0m1-88h0m0 6h0m0 11h0m0 55h0m1-103h0m0 77h0m0 5h0m1-57h0m0 21h0m0 9h0m0 22h0m0 3h0m0 2h0m0 44h0m1-328h0m0 329h0m1-224h0m0 77h0m0 5h0m1-42h0m0 16h0m0 107h0m1-259h0m0 116h0m0 11h0m0 33h0m0 97h0m1-227h0m0 7h0m0 150h0m0 49h0m1-71h0m0 0h0m0 22h0m0 22h0m0 20h0m0 33h0m0 35h0m0 13h0m1-16h0m1-246h0m0 23h0m0 92h0m0 59h0m0 1h0m1-206h0m0 170h0m0 96h0m0 10h0m1-174h0m0 35h0m0 90h0m0 78h0m1-155h0m0 133h0m0 15h0m1-364h0m0 11h0m0 46h0m0 15h0m0 131h0m0 23h0m0 76h0m0 29h0m1-50h0m0 22h0m0 27h0m1-446h0m0 351h0m0 14h0m1-104h0m0 186h0m0 27h0m1-212h0m0 74h0m0 53h0m0 48h0m1-230h0m0 250h0m1-196h0m0 77h0m0 50h0m1-104h0m0 78h0m0 38h0m1-381h0m0 37h0m0 324h0m0 31h0m0 44h0m1-277h0m0 69h0m0 50h0m0 3h0m0 45h0m0 13h0m0 1h0m0 120h0m1-133h0m0 39h0m0 84h0m0 17h0m1-304h0m0 253h0m1-554h0m0 75h0m0 54h0m0 53h0m0 278h0m0 29h0m0 1h0m0 1h0m0 51h0m0 10h0m0 29h0m1-198h0m1-273h0m0 147h0m0 158h0m0 108h0m0 22h0m0 10h0m1-146h0m0 6h0m0 58h0m0 69h0m0 1h0m0 22h0m1-189h0m0 174h0m0 12h0m1-533h0m0 122h0m0 72h0m0 369h0m1-244h0m0 139h0m0 9h0m0 9h0m0 29h0m0 18h0m1-228h0m0 248h0m0 32h0m1-341h0m0 31h0m0 229h0m0 30h0m1-253h0m0 31h0m0 249h0m1-121h0m0 21h0m0 2h0m0 37h0m0 2h0m1-92h0m0 4h0m0 23h0m0 48h0m0 61h0m1-218h0m0 126h0m0 43h0m0 11h0m0 28h0m1-175h0m0 91h0m0 87h0m0 32h0m2-98h0m0 48h0m0 15h0m1-394h0m0 160h0m0 278h0m1-556h0m0 127h0m0 208h0m1-295h0m0 58h0m0 356h0m1-34h0m0 42h0m0 16h0m0 6h0m1-393h0m0 328h0m0 111h0m0 29h0m1-749h0m0 524h0m0 23h0m0 27h0m0 57h0m0 50h0m0 20h0m0 29h0m1-122h0m0 89h0m2-39h0m0 26h0m0 28h0m1-137h0m0 119h0m0 46h0m1-411h0m0 335h0m1-94h0m0 13h0m0 41h0m0 22h0m0 32h0m1-87h0m0 112h0m1-142h0m0 163h0m1-353h0m0 100h0m0 78h0m0 42h0m0 18h0m0 4h0m0 32h0m0 104h0m1-264h0m0 162h0m1-135h0m0 5h0m0 6h0m0 1h0m0 14h0m0 35h0m0 163h0m1-321h0m0 90h0m0 11h0m0 84h0m0 37h0m0 38h0m0 39h0m1-303h0m0 59h0m0 10h0m0 18h0m0 171h0m0 20h0m1-307h0m0 4h0m0 56h0m0 2h0m0 33h0m0 13h0m0 7h0m0 159h0m1-347h0m0 95h0m0 30h0m0 56h0m0 1h0m0 6h0m0 55h0m0 75h0m0 4h0m0 0h0m0 48h0m0 22h0m1-1076h0m0 325h0m0 50h0m0 125h0m0 92h0m0 229h0m0 58h0m0 38h0m0 74h0m0 108h0m1-326h0m0 40h0m0 5h0m0 22h0m0 62h0m0 3h0m0 32h0m0 21h0m0 164h0m1-336h0m0 43h0m1-218h0m0 145h0m0 141h0m0 84h0m0 8h0m0 0h0m0 1h0m0 10h0m0 1h0m0 23h0m0 1h0m0 2h0m0 0h0m1-620h0m0 140h0m0 213h0m0 60h0m0 16h0m0 9h0m0 18h0m0 49h0m0 1h0m0 16h0m0 5h0m0 22h0m0 14h0m0 22h0m0 2h0m0 12h0m0 4h0m0 9h0m0 1h0m0 0h0m0 7h0m0 67h0m1-462h0m0 107h0m0 31h0m0 2h0m0 20h0m0 6h0m0 4h0m0 63h0m0 26h0m0 27h0m0 2h0m0 5h0m0 17h0m0 2h0m0 34h0m0 51h0m0 0h0m0 12h0m0 4h0m0 0h0m0 28h0m0 12h0m0 10h0m0 11h0m0 8h0m0 2h0m0 3h0m1-418h0m0 34h0m0 58h0m0 42h0m0 7h0m0 16h0m0 15h0m0 64h0m0 10h0m0 19h0m0 1h0m0 28h0m0 41h0m0 6h0m0 24h0m0 2h0m0 2h0m0 3h0m0 1h0m0 2h0m0 0h0m0 3h0m0 3h0m0 4h0m0 1h0m0 2h0m0 2h0m0 1h0m0 7h0m0 1h0m0 1h0m0 3h0m0 2h0m0 2h0m0 6h0m0 4h0m0 0h0m0 2h0m1-395h0m0 24h0m0 131h0m0 25h0m0 34h0m0 21h0m0 21h0m0 3h0m0 64h0m0 9h0m0 8h0m0 1h0m0 12h0m0 2h0m0 2h0m0 6h0m0 1h0m0 22h0m0 1h0m0 14h0m0 2h0m1-1111h0m0 9h0m0 77h0m203 836h0m0 16h0m0 27h0m0 1h0m0 71h0m0 34h0m0 25h0m1-374h0m0 51h0m0 51h0m0 15h0m0 60h0m0 11h0m0 6h0m0 5h0m0 19h0m0 30h0m0 4h0m0 15h0m0 17h0m0 6h0m0 0h0m0 32h0m0 22h0m0 8h0m0 14h0m0 13h0m0 4h0m1-287h0m0 16h0m0 56h0m0 62h0m0 8h0m0 18h0m0 52h0m0 0h0m0 17h0m0 21h0m0 0h0m0 18h0m0 4h0m1-234h0m0 12h0m0 40h0m0 4h0m0 43h0m0 33h0m0 21h0m0 37h0m0 0h0m0 5h0m0 4h0m0 25h0m0 27h0m1-369h0m0 25h0m0 7h0m0 12h0m0 28h0m0 47h0m0 6h0m0 13h0m0 49h0m0 70h0m0 3h0m0 54h0m0 7h0m0 0h0m0 5h0m1-566h0m0 14h0m0 18h0m0 11h0m0 6h0m0 23h0m0 209h0m0 216h0m0 21h0m0 3h0m0 1h0m1-1490h0m0 77h0m0 33h0m0 8h0m0 100h0m0 166h0m0 210h0m0 6h0m0 34h0m0 50h0m0 430h0m0 82h0m0 39h0m0 59h0m0 14h0m0 13h0m0 26h0m0 0h0m0 51h0m0 1h0m1-138h0m0 211h0m1-424h0m0 99h0m0 8h0m0 8h0m0 22h0m0 24h0m0 39h0m0 99h0m0 37h0m0 68h0m0 55h0m0 69h0m1-446h0m0 143h0m0 63h0m0 99h0m0 1h0m1-249h0m0 80h0m0 44h0m0 16h0m0 35h0m0 5h0m0 52h0m0 33h0m0 90h0m1-227h0m0 18h0m0 39h0m0 2h0m0 19h0m0 1h0m0 13h0m0 15h0m0 47h0m1-201h0m0 144h0m0 41h0m0 100h0m0 11h0m1-253h0m0 44h0m0 134h0m0 10h0m0 8h0m0 23h0m1-155h0m0 62h0m0 82h0m0 23h0m1-255h0m0 1h0m0 95h0m0 13h0m0 57h0m0 26h0m0 24h0m0 1h0m1-122h0m0 45h0m0 31h0m0 118h0m1-317h0m0 248h0m0 60h0m1-311h0m0 149h0m0 127h0m1-249h0m0 65h0m0 28h0m1-305h0m0 327h0m0 49h0m0 92h0m1-127h0m0 59h0m1-61h0m0 22h0m0 58h0m0 21h0m0 11h0m0 55h0m1-158h0m0 48h0m0 30h0m0 53h0m0 9h0m2-177h0m0 76h0m0 22h0m1-138h0m0 122h0m0 54h0m1-35h0m0 86h0m1-255h0m1-202h0m0 329h0m0 41h0m0 51h0m0 10h0m1-354h0m0 124h0m0 214h0m1-165h0m0 5h0m0 83h0m0 117h0m1-233h0m0 5h0m0 54h0m0 54h0m1-191h0m0 63h0m0 164h0m0 27h0m0 49h0m0 19h0m1-106h0m0 71h0m1-230h0m0 88h0m0 96h0m0 8h0m0 54h0m1-136h0m0 40h0m1-207h0m0 157h0m0 75h0m0 61h0m1-415h0m0 55h0m1 157h0m0 61h0m0 113h0m0 56h0m1-203h0m0 154h0m0 6h0m0 36h0m1-304h0m0 49h0m0 102h0m0 11h0m0 89h0m1-302h0m0 164h0m0 57h0m0 56h0m0 13h0m0 34h0m0 22h0m1-203h0m0 49h0m0 169h0m1-263h0m0 14h0m0 153h0m1-410h0m0 390h0m0 7h0m0 23h0m0 29h0m0 52h0m1-158h0m0 40h0m1 22h0m0 60h0m1-286h0m0 26h0m0 54h0m0 27h0m0 17h0m0 122h0m0 12h0m0 48h0m1-129h0m0 89h0m0 32h0m0 30h0m1-131h0m0 21h0m0 63h0m1-182h0m0 81h0m0 13h0m0 2h0m0 2h0m1-189h0m0 163h0m1-230h0m0 166h0m0 177h0m0 13h0m0 19h0m1-94h0m1-67h0m0 10h0m0 166h0m1-383h0m0 121h0m0 14h0m0 10h0m0 142h0m1-137h0m0 24h0m0 86h0m0 43h0m0 24h0m0 33h0m1-246h0m0 48h0m0 20h0m0 7h0m0 20h0m0 73h0m0 15h0m1-67h0m0 7h0m0 26h0m0 82h0m0 27h0m1-302h0m0 26h0m0 66h0m0 150h0m1-198h0m0 119h0m0 83h0m1-177h0m0 110h0m0 132h0m1-342h0m0 84h0m0 9h0m0 31h0m0 40h0m0 141h0m0 13h0m1-563h0m0 8h0m0 5h0m0 65h0m0 325h0m0 22h0m0 19h0m1-331h0m0 136h0m0 12h0m0 19h0m0 30h0m0 164h0m0 34h0m0 32h0m0 36h0m1-221h0m0 59h0m0 15h0m0 55h0m1-212h0m0 32h0m0 67h0m0 9h0m0 30h0m0 19h0m0 67h0m1-404h0m0 50h0m0 134h0m0 27h0m0 68h0m0 21h0m0 19h0m0 0h0m0 48h0m0 70h0m1-192h0m0 73h0m0 2h0m0 31h0m0 10h0m0 91h0m1-24h0m1-1054h0m0 18h0m0 25h0m0 57h0m0 134h0m0 41h0m0 10h0m0 213h0m0 19h0m0 52h0m0 5h0m0 136h0m0 63h0m0 26h0m0 17h0m0 115h0m0 26h0m0 41h0m0 13h0m0 80h0m0 12h0m0 18h0m1-239h0m0 154h0m1-279h0m0 66h0m0 11h0m0 71h0m0 10h0m0 109h0m0 42h0m1-714h0m0 130h0m0 333h0m0 10h0m0 156h0m1-227h0m0 86h0m0 32h0m0 87h0m1-30h0m0 118h0m0 63h0m1-501h0m0 10h0m0 11h0m0 39h0m0 14h0m0 6h0m0 9h0m0 38h0m0 232h0m0 0h0m0 19h0m0 23h0m0 76h0m1-362h0m0 105h0m0 88h0m0 55h0m0 50h0m1-628h0m0 15h0m0 146h0m0 299h0m0 8h0m0 21h0m0 9h0m0 8h0m0 9h0m0 49h0m0 37h0m0 39h0m1-550h0m0 104h0m0 147h0m0 24h0m0 56h0m0 80h0m0 108h0m0 2h0m0 54h0m0 16h0m0 24h0m1-527h0m0 187h0m0 122h0m0 126h0m1-237h0m0 47h0m0 32h0m0 8h0m0 32h0m0 40h0m0 39h0m0 77h0m0 76h0m1-372h0m0 172h0m0 41h0m0 21h0m0 70h0m1-200h0m0 60h0m0 40h0m0 58h0m0 83h0m1-135h0m0 19h0m0 92h0m1-99h0m0 23h0m0 23h0m0 12h0m0 76h0m1-283h0m0 214h0m1-550h0m0 495h0m0 101h0m0 31h0m1-55h0m1-247h0m0 271h0m1-236h0m0 207h0m1-305h0m0 93h0m0 76h0m0 64h0m1-91h0m0 181h0m0 52h0m1-228h0m0 110h0m0 19h0m0 39h0m0 27h0m1-381h0m0 163h0m0 21h0m0 38h0m0 11h0m0 62h0m0 38h0m0 4h0m0 51h0m1-627h0m0 434h0m0 106h0m0 2h0m0 7h0m0 90h0m0 2h0m1-270h0m0 214h0m1-99h0m0 26h0m0 115h0m1-175h0m0 38h0m0 72h0m1-97h0m0 87h0m0 53h0m1-275h0m0 135h0m1-131h0m0 85h0m0 74h0m0 100h0m0 20h0m0 39h0m1-82h0m1-91h0m0 4h0m0 26h0m0 45h0m0 26h0m1-88h0m0 109h0m0 35h0m1-293h0m0 180h0m0 8h0m0 92h0m0 24h0m1-305h0m0 128h0m0 27h0m0 6h0m0 15h0m0 47h0m1-60h0m0 111h0m1-214h0m0 119h0m0 98h0m1-119h0m0 90h0m1-201h0m0 128h0m0 50h0m1-399h0m0 206h0m0 89h0m0 6h0m0 77h0m0 2h0m0 36h0m1-144h0m0 78h0m0 112h0m1-130h0m0 142h0m1-71h0m1-251h0m0 42h0m0 43h0m0 81h0m0 64h0m0 43h0m1 14h0m0 32h0m1-300h0m0 278h0m1-284h0m0 115h0m0 68h0m0 50h0m2-326h0m0 234h0m0 28h0m0 2h0m0 60h0m0 58h0m0 17h0m1-1407h0m0 1115h0m0 175h0m0 117h0m1-385h0m0 208h0m0 134h0m0 5h0m1-39h0m0 12h0m0 59h0m1-140h0m0 1h0m0 85h0m0 32h0m1-61h0m1-222h0m0 296h0m0 15h0m0 7h0m1-562h0m0 39h0m0 24h0m0 177h0m0 48h0m0 15h0m0 34h0m0 10h0m0 35h0m0 53h0m0 72h0m0 63h0m1-394h0m0 23h0m0 191h0m0 70h0m0 81h0m1-230h0m1 31h0m0 99h0m0 11h0m0 6h0m0 9h0m0 21h0m1-126h0m0 118h0m0 39h0m0 2h0m1-253h0m0 150h0m0 61h0m0 1h0m0 49h0m1-98h0m1-5h0m0 32h0m1-134h0m0 38h0m0 22h0m0 119h0m1-208h0m0 56h0m0 87h0m0 58h0m0 34h0m0 17h0m1 7h0m0 12h0m1-96h0m0 8h0m0 59h0m0 12h0m1-474h0m0 53h0m0 121h0m0 127h0m0 184h0m0 4h0m0 2h0m1-466h0m0 52h0m0 285h0m0 20h0m0 10h0m0 97h0m0 2h0m1-240h0m0 149h0m0 23h0m0 10h0m1-141h0m0 4h0m0 53h0m0 4h0m0 78h0m0 1h0m1-201h0m0 138h0m0 33h0m0 37h0m0 23h0m1-214h0m0 44h0m0 61h0m0 92h0m0 4h0m0 14h0m223-371h0m1 136h0m0 107h0m0 5h0m0 8h0m0 22h0m0 11h0m0 21h0m0 23h0m0 1h0m0 2h0m0 9h0m0 2h0m0 34h0m0 12h0m0 3h0m1-635h0m0 271h0m0 8h0m0 42h0m0 25h0m0 133h0m0 17h0m0 30h0m0 1h0m0 14h0m0 0h0m0 2h0m0 7h0m0 38h0m0 16h0m0 7h0m0 7h0m0 9h0m0 3h0m0 6h0m0 3h0m0 4h0m1-354h0m0 8h0m0 1h0m0 77h0m0 2h0m0 33h0m0 21h0m0 47h0m0 40h0m0 15h0m0 2h0m0 0h0m0 19h0m0 16h0m0 8h0m0 20h0m0 3h0m0 15h0m0 1h0m0 9h0m0 2h0m1-309h0m0 19h0m0 132h0m0 41h0m0 11h0m0 15h0m0 0h0m0 21h0m0 5h0m0 3h0m0 35h0m0 12h0m0 2h0m1-365h0m0 68h0m0 1h0m0 99h0m0 16h0m0 9h0m0 61h0m0 59h0m0 42h0m1-197h0m0 100h0m0 34h0m0 45h0m1-296h0m0 163h0m0 13h0m0 149h0m1-329h0m0 100h0m0 20h0m0 61h0m1-79h0m0 0h0m0 11h0m0 27h0m0 16h0m0 15h0m0 31h0m0 22h0m1-903h0m0 276h0m0 46h0m0 140h0m0 56h0m0 179h0m0 12h0m0 107h0m0 150h0m0 11h0m0 52h0m1-273h0m0 52h0m1-215h0m0 50h0m0 23h0m0 59h0m0 5h0m0 3h0m0 13h0m0 3h0m0 142h0m0 54h0m1-253h0m0 80h0m0 29h0m0 0h0m0 70h0m1-397h0m0 186h0m0 78h0m0 36h0m0 58h0m0 13h0m0 13h0m0 63h0m0 68h0m0 30h0m0 11h0m1-377h0m0 117h0m0 4h0m0 10h0m0 173h0m0 19h0m0 30h0m1-309h0m0 4h0m0 91h0m0 28h0m0 67h0m0 11h0m0 13h0m0 87h0m1-235h0m0 55h0m0 109h0m0 9h0m0 10h0m1-238h0m0 166h0m1-769h0m0 424h0m0 188h0m0 32h0m0 112h0m0 157h0m1-344h0m0 85h0m0 13h0m1-125h0m0 140h0m0 54h0m0 33h0m0 93h0m0 19h0m1-550h0m0 27h0m0 10h0m0 355h0m0 88h0m0 59h0m0 31h0m1-205h0m0 50h0m0 32h0m0 147h0m1-264h0m0 49h0m0 113h0m1-220h0m0 80h0m0 8h0m0 99h0m0 10h0m0 50h0m0 38h0m1-485h0m0 202h0m0 51h0m0 56h0m0 5h0m0 37h0m1-248h0m0 135h0m0 4h0m0 12h0m0 15h0m0 25h0m0 9h0m0 46h0m0 4h0m0 6h0m0 142h0m1-313h0m0 105h0m0 33h0m0 0h0m0 17h0m0 3h0m0 85h0m0 8h0m1-302h0m0 84h0m0 26h0m0 22h0m0 35h0m0 14h0m0 129h0m0 1h0m0 13h0m0 56h0m0 0h0m1-251h0m0 72h0m0 52h0m0 13h0m0 23h0m0 49h0m0 40h0m0 5h0m1-381h0m0 136h0m0 53h0m0 1h0m0 66h0m0 14h0m0 12h0m0 6h0m0 29h0m0 0h0m0 34h0m0 21h0m1-291h0m0 53h0m0 57h0m0 39h0m0 23h0m0 45h0m0 12h0m1-237h0m0 168h0m0 28h0m1-50h0m0 92h0m0 22h0m0 34h0m0 20h0m1-221h0m0 53h0m0 75h0m0 47h0m0 21h0m1-7h0m1-208h0m0 80h0m0 96h0m1-247h0m0 203h0m0 69h0m1-195h0m0 188h0m0 19h0m1-242h0m0 191h0m0 40h0m1-299h0m0 183h0m1 1h0m0 35h0m0 57h0m0 58h0m1-144h0m0 30h0m2 105h0m1-398h0m0 231h0m0 107h0m0 1h0m0 11h0m1-333h0m0 196h0m0 74h0m0 106h0m1-223h0m0 48h0m1-61h0m0 105h0m0 127h0m2-130h0m1 68h0m0 79h0m1-212h0m0 4h0m1-209h0m0 322h0m1-8h0m1-210h0m0 177h0m0 73h0m0 19h0m3-83h0m0 67h0m0 6h0m0 22h0m1-43h0m1 24h0m0 5h0m0 28h0m1-50h0m0 4h0m2-213h0m0 57h0m0 141h0m0 49h0m1-97h0m0 95h0m0 19h0m1-64h0m1 23h0m0 49h0m2-247h0m0 82h0m0 124h0m0 6h0m0 18h0m0 7h0m1-144h0m1 31h0m0 71h0m0 23h0m0 36h0m0 3h0m1-293h0m0 202h0m1 49h0m2-104h0m0 35h0m0 38h0m0 29h0m1-163h0m0 124h0m0 71h0m0 8h0m1-120h0m0 22h0m1 68h0m1-106h0m0 120h0m1-102h0m1 98h0m1-256h0m0 202h0m0 9h0m2-25h0m1-28h0m1-133h0m0 241h0m1-151h0m0 10h0m0 123h0m1-160h0m0 74h0m0 112h0m2-225h0m0 192h0m0 38h0m1-364h0m0 222h0m0 118h0m1-116h0m0 31h0m0 18h0m0 30h0m0 53h0m2-298h0m0 306h0m1-281h0m0 176h0m1-26h0m0 126h0m1-17h0m1-234h0m0 87h0m1-152h0m0 121h0m1 102h0m0 52h0m0 24h0m0 7h0m2-212h0m2-203h0m0 218h0m0 180h0m0 13h0m198-218h0m0 135h0m0 57h0m0 21h0m0 20h0m1-472h0m0 9h0m0 8h0m0 7h0m0 11h0m0 8h0m0 13h0m0 13h0m0 194h0m0 32h0m0 76h0m0 24h0m0 13h0m0 11h0m0 16h0m0 16h0m1-336h0m0 38h0m0 142h0m0 12h0m0 75h0m0 15h0m0 56h0m0 8h0m0 4h0m0 8h0m0 1h0m1-226h0m0 67h0m0 22h0m0 127h0m0 12h0m1-262h0m0 45h0m0 95h0m0 37h0m0 55h0m1-327h0m0 117h0m0 19h0m0 105h0m0 43h0m0 44h0m1-254h0m0 19h0m0 205h0m0 8h0m0 14h0m1-332h0m0 225h0m0 15h0m0 4h0m0 14h0m1-109h0m0 24h0m0 127h0m0 61h0m1-235h0m0 141h0m0 6h0m1-103h0m0 0h0m0 51h0m0 27h0m0 99h0m1-129h0m0 6h0m0 97h0m1-282h0m0 66h0m0 70h0m0 58h0m0 53h0m0 54h0m1-240h0m0 142h0m1-36h0m0 52h0m0 17h0m0 80h0m1-83h0m0 95h0m1-449h0m0 379h0m0 12h0m0 9h0m1-336h0m0 234h0m0 29h0m0 85h0m1-450h0m1 266h0m0 27h0m0 170h0m1-161h0m0 48h0m0 98h0m0 21h0m1-227h0m0 162h0m0 72h0m1-188h0m0 138h0m1-524h0m0 61h0m0 2h0m0 223h0m0 9h0m0 173h0m0 115h0m1-339h0m0 96h0m0 119h0m0 41h0m0 7h0m0 11h0m1-254h0m0 167h0m0 103h0m0 15h0m1-126h0m0 78h0m1-534h0m0 345h0m0 65h0m0 114h0m0 10h0m0 76h0m1-126h0m0 108h0m1-363h0m0 218h0m0 64h0m0 4h0m0 57h0m1-546h0m0 97h0m0 175h0m0 163h0m1-619h0m0 56h0m0 429h0m0 57h0m0 32h0m0 32h0m0 89h0m0 12h0m0 53h0m0 14h0m1-244h0m0 104h0m0 43h0m0 48h0m0 2h0m1-228h0m0 81h0m1-757h0m0 148h0m0 587h0m0 138h0m1-239h0m0 145h0m0 96h0m0 50h0m0 17h0m1-194h0m0 167h0m2-123h0m0 24h0m0 37h0m1-274h0m0 137h0m0 22h0m0 65h0m0 88h0m1-179h0m0 25h0m0 83h0m0 112h0m0 20h0m1-374h0m0 271h0m0 5h0m0 15h0m0 34h0m1-116h0m0 38h0m0 9h0m1-54h0m0 31h0m0 27h0m0 31h0m0 45h0m1-172h0m0 85h0m0 55h0m0 11h0m1-399h0m0 434h0m0 16h0m1-417h0m0 16h0m0 382h0m0 14h0m1-334h0m0 78h0m0 14h0m0 23h0m1-98h0m0 124h0m0 15h0m0 11h0m0 13h0m0 13h0m0 60h0m1-353h0m0 68h0m0 87h0m0 178h0m0 113h0m1-317h0m0 64h0m0 181h0m0 24h0m0 10h0m1-282h0m0 6h0m0 48h0m0 43h0m0 21h0m0 53h0m0 13h0m0 77h0m0 19h0m0 31h0m1-334h0m0 96h0m0 144h0m0 21h0m1-195h0m0 38h0m0 107h0m0 11h0m0 13h0m1-203h0m0 56h0m0 118h0m1-102h0m0 23h0m0 10h0m0 16h0m0 31h0m0 42h0m0 87h0m0 10h0m0 20h0m1-398h0m0 8h0m0 93h0m0 182h0m0 44h0m1-553h0m0 131h0m0 24h0m0 45h0m0 8h0m0 8h0m0 104h0m0 24h0m0 3h0m0 83h0m0 20h0m0 87h0m0 30h0m1-321h0m0 64h0m1-132h0m0 108h0m0 99h0m0 13h0m0 56h0m0 22h0m0 147h0m1-182h0m0 87h0m0 27h0m0 37h0m1-404h0m0 170h0m0 16h0m0 13h0m0 13h0m0 110h0m0 101h0m1-220h0m0 18h0m0 86h0m0 85h0m1-535h0m0 138h0m0 200h0m0 67h0m0 32h0m0 39h0m0 26h0m0 26h0m1-303h0m0 37h0m0 4h0m0 95h0m0 42h0m0 4h0m0 20h0m0 130h0m1-754h0m0 6h0m0 162h0m0 53h0m0 10h0m0 158h0m0 21h0m0 115h0m0 82h0m0 102h0m0 27h0m1-252h0m0 18h0m0 73h0m0 21h0m0 21h0m0 161h0m1-319h0m0 173h0m0 87h0m0 46h0m1-365h0m0 82h0m0 56h0m0 74h0m0 25h0m0 6h0m0 5h0m0 15h0m0 27h0m1-193h0m0 10h0m1 81h0m0 27h0m0 69h0m0 15h0m0 57h0m1-456h0m0 174h0m1 219h0m0 54h0m1-269h0m0 194h0m0 38h0m0 59h0m2-387h0m0 199h0m0 134h0m0 13h0m0 8h0m1-512h0m0 305h0m0 53h0m0 41h0m0 24h0m0 4h0m1-87h0m0 64h0m0 141h0m1-228h0m0 22h0m0 23h0m0 193h0m1-226h0m0 0h0m0 43h0m0 107h0m0 59h0m0 0h0m0 11h0m1-80h0m0 60h0m1-428h0m0 196h0m0 10h0m0 22h0m0 15h0m0 45h0m0 36h0m0 3h0m0 4h0m0 15h0m0 34h0m0 33h0m0 18h0m1-528h0m0 335h0m0 103h0m0 77h0m1-300h0m0 24h0m0 4h0m0 152h0m0 26h0m0 24h0m0 51h0m0 6h0m0 11h0m0 36h0m1-240h0m0 157h0m0 2h0m1-211h0m0 39h0m0 193h0m0 31h0m155-331h0m0 66h0m0 72h0m0 41h0m0 31h0m0 15h0m0 12h0m0 8h0m0 21h0m0 48h0m0 18h0m0 24h0m0 5h0m0 2h0m0 1h0m1-388h0m0 38h0m0 70h0m0 25h0m0 6h0m0 63h0m0 6h0m0 13h0m0 39h0m0 11h0m0 19h0m0 17h0m0 7h0m0 0h0m0 7h0m0 32h0m0 4h0m0 3h0m0 5h0m0 1h0m0 10h0m1-266h0m0 81h0m0 32h0m0 26h0m0 17h0m0 42h0m0 39h0m0 15h0m0 8h0m0 0h0m0 8h0m1-382h0m0 133h0m0 11h0m0 22h0m0 66h0m0 9h0m0 21h0m0 18h0m0 11h0m0 22h0m0 0h0m0 16h0m0 3h0m0 21h0m0 22h0m0 12h0m1-436h0m0 46h0m0 94h0m0 20h0m0 130h0m0 92h0m1-324h0m0 31h0m0 21h0m0 130h0m0 2h0m0 89h0m0 16h0m0 3h0m0 2h0m0 0h0m0 32h0m0 1h0m0 1h0m1-260h0m0 43h0m0 63h0m0 4h0m0 1h0m0 62h0m0 52h0m0 38h0m1-328h0m0 85h0m0 3h0m0 81h0m0 40h0m0 143h0m1-284h0m0 19h0m0 35h0m0 37h0m0 8h0m0 143h0m1-292h0m0 82h0m0 3h0m0 26h0m0 14h0m0 50h0m1-325h0m0 26h0m0 95h0m0 72h0m0 47h0m0 24h0m0 27h0m0 24h0m0 75h0m0 11h0m0 24h0m0 47h0m1-344h0m0 227h0m0 141h0m1-387h0m0 146h0m0 31h0m0 221h0m1-353h0m0 30h0m0 17h0m0 8h0m0 134h0m0 35h0m0 35h0m1-79h0m0 32h0m0 23h0m0 62h0m1-420h0m0 110h0m0 23h0m0 148h0m0 122h0m0 28h0m0 22h0m1-337h0m0 44h0m0 5h0m0 104h0m1-162h0m0 23h0m0 249h0m0 85h0m1-402h0m0 131h0m0 43h0m0 156h0m1-446h0m0 28h0m0 7h0m0 14h0m0 37h0m0 12h0m0 8h0m0 132h0m0 33h0m0 19h0m0 8h0m0 49h0m0 22h0m0 11h0m0 11h0m0 30h0m0 63h0m0 45h0m1-716h0m0 19h0m0 6h0m0 10h0m0 24h0m0 46h0m0 578h0m0 12h0m1-212h0m0 63h0m0 106h0m1-280h0m0 12h0m0 18h0m0 24h0m0 16h0m0 50h0m0 9h0m1-70h0m0 125h0m0 34h0m1-202h0m0 29h0m0 32h0m0 75h0m0 194h0m1-265h0m0 13h0m0 48h0m0 128h0m0 18h0m1-290h0m0 165h0m0 62h0m0 28h0m1 47h0m0 21h0m0 13h0m1-430h0m0 90h0m0 20h0m0 101h0m0 8h0m0 48h0m0 24h0m0 11h0m0 23h0m0 12h0m1-468h0m0 44h0m0 186h0m0 132h0m0 153h0m1-321h0m0 148h0m0 184h0m1-538h0m0 174h0m0 105h0m0 18h0m0 6h0m0 27h0m0 92h0m0 76h0m0 5h0m0 13h0m0 34h0m0 33h0m1-352h0m0 217h0m0 8h0m1-271h0m0 48h0m0 86h0m0 72h0m0 180h0m1-276h0m0 14h0m0 101h0m0 66h0m0 10h0m0 39h0m1-270h0m0 111h0m0 11h0m0 60h0m1-190h0m0 141h0m0 15h0m1-187h0m0 7h0m0 40h0m0 23h0m0 25h0m0 19h0m0 230h0m0 24h0m1-335h0m0 287h0m1-446h0m0 127h0m0 23h0m0 158h0m0 30h0m0 36h0m0 43h0m0 40h0m1-418h0m0 163h0m0 15h0m0 17h0m0 28h0m0 145h0m0 63h0m1-646h0m0 66h0m0 139h0m0 13h0m0 8h0m0 22h0m0 53h0m0 146h0m0 19h0m0 33h0m0 103h0m0 57h0m1-539h0m0 38h0m0 10h0m0 113h0m0 140h0m0 118h0m1-542h0m0 66h0m0 27h0m0 12h0m0 7h0m0 394h0m0 26h0m0 32h0m0 11h0m0 62h0m1-20h0m0 55h0m1-270h0m0 80h0m1-512h0m0 23h0m0 22h0m0 170h0m0 110h0m0 76h0m0 89h0m0 9h0m1-83h0m0 13h0m0 13h0m0 21h0m0 61h0m0 32h0m0 42h0m0 16h0m1-241h0m0 212h0m0 41h0m0 32h0m0 23h0m0 21h0m1-364h0m0 9h0m0 124h0m0 104h0m0 94h0m1-318h0m0 41h0m0 88h0m0 65h0m0 19h0m1-260h0m0 27h0m1 95h0m0 4h0m0 15h0m0 11h0m0 36h0m0 36h0m0 9h0m0 101h0m0 54h0m1-347h0m0 9h0m0 11h0m0 15h0m0 122h0m0 85h0m0 115h0m1-307h0m0 161h0m0 74h0m0 27h0m0 23h0m1-103h0m0 31h0m0 41h0m1-287h0m0 32h0m0 113h0m0 10h0m1-77h0m0 16h0m0 12h0m0 15h0m0 84h0m0 29h0m0 23h0m0 50h0m1-322h0m0 78h0m0 23h0m0 192h0m1-339h0m0 46h0m0 344h0m0 13h0m1-523h0m0 114h0m0 25h0m0 40h0m0 139h0m0 109h0m0 72h0m1-361h0m0 155h0m0 66h0m0 8h0m1-115h0m0 124h0m0 28h0m0 106h0m0 12h0m1-435h0m0 15h0m0 71h0m0 88h0m0 82h0m0 8h0m0 115h0m1-284h0m0 91h0m0 35h0m0 25h0m0 116h0m0 29h0m1-781h0m0 450h0m0 49h0m0 34h0m0 188h0m1-539h0m0 365h0m0 12h0m0 25h0m0 113h0m0 43h0m0 51h0m0 11h0m1-367h0m0 16h0m0 47h0m0 189h0m0 23h0m1-215h0m0 133h0m0 18h0m0 116h0m0 13h0m1-327h0m0 225h0m0 151h0m1-385h0m0 17h0m0 54h0m0 80h0m0 14h0m0 53h0m0 83h0m0 73h0m1-192h0m0 47h0m0 62h0m1-252h0m0 33h0m0 5h0m0 50h0m0 47h0m0 69h0m1-151h0m0 69h0m0 114h0m0 48h0m0 25h0m1-295h0m0 41h0m0 22h0m0 196h0m0 23h0m0 26h0m0 24h0m1-342h0m0 52h0m0 42h0m0 116h0m0 12h0m1-229h0m0 44h0m0 27h0m0 0h0m0 52h0m0 29h0m0 10h0m0 89h0m1-264h0m0 4h0m0 68h0m0 277h0m0 13h0m1-553h0m0 276h0m0 40h0m0 75h0m0 77h0m0 49h0m1-280h0m0 141h0m0 25h0m0 78h0m0 24h0m1-281h0m0 65h0m0 205h0m0 34h0m0 25h0m1-293h0m0 80h0m0 86h0m0 18h0m1-309h0m0 34h0m0 38h0m0 3h0m0 76h0m0 6h0m0 27h0m0 28h0m1-104h0m0 170h0m0 1h0m1-459h0m0 34h0m0 26h0m0 66h0m0 168h0m0 27h0m0 22h0m0 22h0m0 18h0m0 74h0m0 96h0m1-418h0m0 33h0m0 19h0m0 26h0m0 178h0m0 23h0m0 0h0m0 11h0m0 9h0m0 2h0m0 2h0m0 14h0m0 52h0m0 10h0m0 1h0m0 7h0m0 29h0m0 3h0m0 3h0m0 8h0m0 1h0m1-307h0m0 42h0m0 52h0m0 17h0m0 11h0m0 15h0m0 10h0m0 27h0m0 17h0m0 43h0m0 28h0m0 6h0m0 11h0m0 5h0m0 2h0m0 12h0m0 2h0m0 1h0m0 5h0m0 10h0m0 16h0m0 2h0m0 6h0m0 0h0m0 2h0m1-274h0m0 57h0m0 64h0m0 17h0m0 6h0m0 11h0m0 7h0m0 0h0m0 4h0m0 7h0m0 9h0m0 19h0m0 20h0m0 10h0m0 10h0m0 6h0m0 4h0m0 2h0m0 2h0m0 5h0m0 8h0m0 4h0m1-318h0m0 1h0m0 160h0m0 93h0m0 44h0m0 7h0m0 17h0m140-649h0m0 21h0m0 87h0m0 42h0m0 183h0m0 119h0m0 15h0m0 16h0m0 4h0m0 29h0m0 5h0m0 3h0m0 33h0m0 0h0m0 11h0m0 2h0m0 11h0m0 1h0m0 5h0m0 1h0m0 6h0m0 26h0m0 5h0m0 1h0m0 1h0m0 1h0m0 2h0m0 13h0m0 0h0m0 4h0m1-579h0m0 9h0m0 7h0m0 319h0m0 3h0m0 6h0m0 5h0m0 1h0m0 7h0m0 23h0m0 1h0m0 10h0m0 5h0m0 7h0m0 13h0m0 7h0m0 20h0m0 4h0m0 9h0m0 2h0m0 10h0m0 7h0m0 15h0m0 6h0m0 4h0m0 3h0m0 9h0m0 2h0m0 7h0m0 0h0m0 4h0m0 0h0m0 0h0m0 6h0m0 2h0m0 8h0m0 1h0m0 1h0m0 0h0m0 8h0m0 3h0m0 1h0m0 11h0m0 0h0m0 0h0m0 0h0m0 1h0m0 1h0m0 1h0m0 2h0m0 1h0m0 2h0m0 1h0m0 5h0m1-357h0m0 2h0m0 23h0m0 28h0m0 48h0m0 20h0m0 0h0m0 5h0m0 14h0m0 15h0m0 27h0m0 0h0m0 0h0m0 24h0m0 2h0m0 14h0m0 14h0m0 4h0m0 1h0m0 2h0m0 3h0m0 0h0m0 5h0m0 6h0m0 2h0m0 4h0m0 12h0m0 6h0m0 7h0m0 1h0m0 36h0m0 1h0m0 15h0m0 0h0m0 0h0m0 2h0m0 2h0m0 3h0m1-380h0m0 65h0m0 15h0m0 62h0m0 0h0m0 37h0m0 67h0m0 35h0m0 76h0m0 0h0m0 0h0m1-423h0m0 9h0m0 9h0m0 9h0m0 9h0m0 9h0m0 9h0m0 8h0m0 142h0m0 36h0m0 6h0m1-265h0m0 8h0m0 91h0m0 33h0m0 15h0m0 39h0m1-146h0m0 12h0m0 9h0m0 114h0m0 99h0m0 23h0m0 56h0m0 94h0m1-344h0m0 9h0m0 27h0m0 23h0m0 7h0m0 23h0m0 20h0m0 98h0m0 78h0m0 23h0m1-324h0m0 33h0m0 49h0m0 7h0m0 7h0m0 241h0m1-543h0m0 48h0m0 158h0m0 24h0m0 113h0m0 25h0m0 38h0m1-395h0m0 11h0m0 7h0m0 285h0m0 14h0m0 135h0m0 126h0m1-856h0m0 29h0m0 6h0m0 41h0m0 3h0m0 63h0m0 89h0m0 98h0m0 17h0m0 27h0m0 38h0m0 73h0m0 97h0m0 11h0m0 170h0m0 60h0m1-417h0m0 18h0m0 9h0m0 9h0m0 9h0m0 9h0m0 125h0m0 38h0m0 11h0m0 153h0m1-246h0m0 3h0m0 60h0m0 59h0m0 45h0m0 11h0m0 32h0m0 94h0m1-490h0m0 145h0m0 69h0m0 93h0m1-101h0m0 11h0m0 38h0m0 2h0m0 34h0m0 2h0m0 9h0m0 1h0m0 0h0m0 1h0m0 5h0m0 26h0m0 25h0m0 3h0m0 85h0m0 6h0m0 2h0m1-619h0m0 278h0m0 7h0m0 31h0m0 8h0m0 16h0m0 57h0m0 5h0m0 13h0m0 2h0m0 4h0m0 2h0m0 8h0m0 62h0m0 13h0m0 5h0m0 9h0m0 33h0m0 54h0m0 3h0m0 1h0m0 0h0m0 5h0m0 1h0m0 3h0m0 2h0m0 0h0m0 5h0m1-567h0m0 253h0m0 34h0m0 67h0m0 37h0m0 1h0m0 26h0m0 15h0m0 24h0m0 15h0m0 2h0m0 22h0m0 4h0m0 1h0m0 10h0m0 0h0m0 16h0m0 0h0m0 6h0m0 7h0m0 1h0m0 2h0m0 5h0m0 13h0m0 3h0m0 2h0m0 1h0m0 7h0m0 16h0m0 1h0m0 1h0m0 13h0m0 2h0m1-628h0m0 48h0m0 245h0m0 13h0m0 44h0m0 41h0m0 22h0m0 36h0m0 14h0m0 10h0m0 1h0m0 17h0m0 4h0m0 3h0m0 4h0m0 8h0m0 1h0m0 6h0m0 0h0m0 2h0m0 2h0m0 7h0m0 3h0m0 8h0m0 6h0m0 3h0m0 12h0m0 6h0m0 32h0m0 1h0m0 1h0m0 1h0m0 4h0m0 0h0m0 1h0m0 1h0m0 4h0m0 1h0m0 8h0m0 1h0m0 1h0m0 0h0m0 1h0m0 3h0m0 4h0m1-603h0m0 84h0m0 52h0m0 18h0m0 16h0m0 17h0m0 11h0m0 118h0m0 44h0m0 5h0m0 20h0m0 24h0m0 8h0m0 7h0m0 51h0m0 17h0m0 7h0m0 13h0m0 6h0m0 6h0m0 7h0m0 1h0m0 7h0m0 0h0m0 26h0m0 7h0m0 6h0m0 2h0m0 11h0m0 5h0m0 7h0m0 2h0m1-485h0m0 28h0m0 9h0m0 9h0m0 9h0m0 9h0m0 9h0m0 9h0m0 8h0m16-177h0m0 240h0m0 31h0m0 33h0m0 21h0m0 0h0m0 66h0m0 40h0m0 8h0m0 3h0m0 31h0m0 4h0m0 29h0m0 10h0m0 1h0m0 9h0m0 4h0m0 9h0m0 1h0m0 1h0m0 2h0m0 16h0m0 10h0m1-340h0m0 67h0m0 37h0m0 19h0m0 13h0m0 32h0m0 1h0m0 7h0m0 41h0m0 3h0m0 1h0m0 27h0m0 7h0m0 2h0m0 3h0m0 7h0m0 5h0m0 3h0m0 1h0m0 4h0m0 1h0m0 2h0m0 16h0m0 9h0m0 2h0m0 4h0m0 1h0m0 5h0m0 4h0m0 1h0m0 3h0m0 3h0m0 3h0m0 4h0m0 0h0m1-369h0m0 2h0m0 69h0m0 10h0m0 4h0m0 5h0m0 8h0m0 14h0m0 19h0m0 10h0m0 4h0m0 7h0m0 8h0m0 11h0m0 42h0m0 4h0m0 14h0m0 20h0m0 2h0m0 13h0m0 6h0m0 2h0m0 12h0m0 9h0m0 2h0m0 3h0m0 3h0m0 2h0m0 6h0m0 2h0m0 9h0m0 3h0m0 22h0m0 1h0m0 0h0m0 0h0m0 8h0m0 2h0m0 6h0m0 2h0m0 8h0m1-635h0m0 18h0m0 139h0m0 34h0m0 43h0m0 14h0m0 46h0m0 26h0m0 42h0m0 20h0m0 19h0m0 4h0m0 42h0m0 45h0m0 31h0m0 6h0m1-221h0m0 119h0m0 8h0m0 5h0m0 9h0m0 30h0m0 36h0m1-411h0m0 181h0m0 154h0m0 4h0m0 38h0m0 7h0m1-306h0m0 87h0m0 56h0m0 171h0m1-203h0m0 23h0m0 10h0m1-53h0m0 61h0m0 151h0m0 44h0m0 62h0m1-292h0m0 11h0m0 62h0m0 13h0m0 12h0m0 145h0m0 25h0m0 36h0m1-325h0m0 47h0m0 134h0m0 157h0m0 13h0m1-375h0m0 41h0m0 57h0m0 53h0m0 31h0m0 118h0m1-302h0m0 112h0m0 52h0m0 53h0m0 13h0m0 25h0m1-299h0m0 11h0m0 126h0m0 25h0m0 209h0m1-226h0m0 37h0m0 58h0m0 70h0m0 86h0m0 25h0m1-367h0m0 16h0m0 26h0m0 79h0m0 41h0m0 107h0m0 61h0m1-464h0m0 367h0m0 71h0m0 13h0m0 50h0m1-937h0m0 28h0m0 42h0m0 77h0m0 86h0m0 5h0m0 20h0m0 20h0m0 30h0m0 482h0m0 135h0m1-511h0m0 159h0m0 148h0m0 58h0m0 26h0m0 46h0m0 61h0m1-464h0m0 56h0m0 63h0m0 8h0m0 35h0m0 16h0m0 15h0m0 6h0m0 97h0m0 24h0m0 95h0m1-433h0m0 49h0m0 17h0m0 52h0m0 15h0m0 59h0m0 57h0m0 196h0m0 62h0m1-518h0m0 162h0m0 7h0m0 75h0m0 41h0m0 124h0m1-308h0m0 75h0m0 38h0m0 42h0m0 65h0m0 16h0m0 60h0m0 73h0m1-493h0m0 192h0m0 86h0m0 1h0m0 9h0m0 2h0m0 24h0m0 82h0m1-189h0m0 21h0m0 8h0m0 0h0m0 32h0m0 6h0m0 12h0m0 22h0m0 4h0m0 48h0m0 14h0m0 140h0m0 3h0m1-255h0m0 90h0m0 9h0m0 10h0m0 38h0m0 21h0m0 6h0m0 42h0m1-325h0m0 33h0m0 14h0m0 47h0m0 0h0m0 11h0m0 37h0m0 38h0m0 13h0m0 23h0m0 18h0m0 1h0m0 5h0m0 22h0m0 17h0m0 16h0m0 5h0m0 5h0m0 3h0m0 6h0m0 10h0m0 4h0m0 1h0m0 1h0m0 1h0m0 1h0m0 10h0m0 1h0m0 1h0m0 15h0m0 11h0m0 2h0m1-465h0m0 13h0m0 64h0m0 82h0m0 20h0m0 1h0m0 4h0m0 4h0m0 50h0m0 3h0m0 3h0m0 13h0m0 6h0m0 5h0m0 20h0m0 7h0m0 13h0m0 19h0m0 2h0m0 22h0m0 4h0m0 1h0m0 3h0m0 4h0m0 1h0m0 3h0m0 11h0m0 1h0m0 5h0m0 2h0m0 1h0m0 0h0m0 2h0m0 5h0m0 1h0m0 3h0m0 2h0m0 5h0m0 15h0m0 4h0m0 2h0m0 8h0m0 4h0m0 1h0m0 2h0m0 3h0m0 0h0m0 3h0m0 1h0m0 1h0m0 13h0m0 2h0m0 0h0m0 1h0m0 5h0m0 1h0m0 1h0m0 1h0m0 5h0m0 4h0m0 2h0m0 1h0m1-551h0m0 160h0m0 225h0m0 6h0m0 10h0m0 7h0m0 69h0m0 16h0m0 4h0m0 13h0m0 4h0m0 20h0m0 0h0m0 13h0m0 1h0m137-502h0m4 0h0m0 66h0m0 68h0m0 239h0m0 62h0m0 25h0m0 27h0m1-414h0m0 178h0m0 182h0m1-155h0m0 47h0m0 62h0m0 56h0m0 37h0m1-127h0m0 41h0m0 51h0m1-163h0m0 168h0m1-130h0m0 32h0m0 41h0m0 8h0m0 26h0m0 62h0m0 15h0m1-361h0m0 6h0m0 205h0m0 87h0m0 24h0m0 15h0m0 0h0m1-552h0m0 537h0m0 25h0m0 17h0m1-194h0m0 103h0m0 3h0m1-257h0m0 202h0m0 22h0m0 24h0m0 83h0m1-239h0m0 200h0m0 42h0m0 2h0m1-111h0m0 78h0m1-274h0m0 179h0m0 15h0m0 23h0m0 34h0m1-153h0m0 16h0m0 198h0m2-144h0m0 40h0m0 9h0m0 16h0m0 52h0m1-302h0m0 117h0m0 45h0m1-210h0m0 150h0m0 34h0m0 144h0m0 38h0m1-361h0m1-191h0m0 280h0m0 16h0m0 147h0m0 61h0m1-162h0m0 88h0m0 1h0m0 50h0m0 0h0m0 45h0m1-576h0m0 8h0m0 76h0m0 50h0m0 324h0m0 1h0m1-73h0m0 76h0m0 19h0m0 106h0m1-478h0m0 361h0m0 24h0m0 6h0m0 21h0m0 13h0m0 23h0m0 8h0m0 48h0m1-287h0m0 76h0m0 193h0m0 8h0m1-149h0m0 61h0m1-541h0m0 349h0m0 94h0m0 126h0m1-200h0m0 26h0m0 42h0m0 49h0m0 45h0m1-209h0m0 28h0m0 39h0m0 56h0m1 52h0m0 12h0m0 81h0m1-100h0m0 82h0m0 5h0m0 30h0m1-252h0m0 27h0m0 23h0m0 45h0m0 28h0m0 29h0m0 15h0m0 11h0m0 21h0m0 36h0m0 7h0m0 18h0m0 2h0m0 0h0m0 5h0m1-527h0m0 267h0m0 58h0m0 4h0m0 68h0m0 18h0m0 11h0m0 12h0m0 4h0m0 31h0m0 63h0m1-297h0m0 3h0m0 106h0m0 28h0m0 76h0m0 11h0m0 6h0m0 29h0m0 19h0m0 19h0m0 2h0m1-119h0m0 48h0m0 15h0m0 66h0" stroke="#87ceeb" stroke-width="15" stroke-linecap="round" fill="none"/><path d="M515 1401h0m0 467h0m1-463h0m0 299h0m0 27h0m0 18h0m0 31h0m0 134h0m1-148h0m0 82h0m0 63h0m0 2h0m0 11h0m1-394h0m0 254h0m0 88h0m0 25h0m0 3h0m0 15h0m1-327h0m0 130h0m0 114h0m0 29h0m0 15h0m1-190h0m0 21h0m0 83h0m0 22h0m0 58h0m0 15h0m1-106h0m0 105h0m1-1082h0m0 853h0m0 124h0m0 43h0m0 79h0m1-191h0m0 79h0m1-151h0m0 52h0m0 40h0m0 59h0m0 109h0m1-293h0m0 134h0m0 148h0m1-292h0m0 11h0m0 185h0m0 28h0m0 88h0m0 3h0m1-231h0m0 83h0m1 159h0m1-125h0m0 16h0m0 70h0m1-115h0m0 67h0m0 26h0m1-202h0m0 189h0m0 18h0m1-237h0m0 182h0m0 47h0m0 13h0m0 45h0m1-99h0m0 14h0m0 17h0m0 74h0m1-207h0m0 6h0m0 131h0m0 58h0m1-141h0m0 125h0m1-623h0m0 175h0m0 16h0m0 332h0m0 27h0m1-147h0m1-35h0m0 106h0m0 155h0m1-349h0m0 280h0m1-410h0m0 52h0m0 29h0m0 166h0m0 59h0m0 136h0m0 14h0m0 45h0m1-139h0m0 6h0m0 54h0m0 42h0m1-370h0m0 175h0m1-238h0m0 81h0m0 245h0m1 14h0m0 121h0m1-351h0m0 163h0m0 81h0m0 52h0m0 12h0m1-267h0m0 219h0m0 30h0m0 39h0m1-95h0m0 105h0m1-76h0m0 26h0m0 8h0m0 62h0m1-451h0m0 355h0m1-139h0m0 44h0m0 82h0m0 12h0m0 65h0m1-235h0m0 121h0m0 75h0m0 45h0m1-193h0m0 78h0m0 97h0m0 2h0m0 30h0m0 9h0m2-927h0m0 42h0m0 4h0m0 7h0m0 141h0m0 292h0m0 253h0m0 29h0m0 87h0m1-262h0m0 220h0m0 98h0m1-645h0m0 66h0m0 30h0m0 410h0m1-35h0m0 19h0m0 57h0m0 28h0m0 34h0m1-201h0m0 95h0m1-58h0m0 48h0m0 127h0m0 6h0m0 38h0m1-298h0m0 190h0m0 42h0m0 41h0m1-126h0m0 13h0m0 127h0m0 9h0m1-145h0m0 12h0m0 20h0m0 8h0m1-135h0m0 114h0m0 95h0m1-65h0m1-242h0m0 103h0m0 8h0m0 207h0m1-104h0m0 76h0m1-309h0m0 129h0m0 65h0m0 19h0m0 50h0m0 22h0m0 13h0m1-89h0m0 111h0m1-210h0m0 171h0m1-6h0m1-286h0m0 340h0m0 13h0m0 14h0m1-180h0m0 60h0m0 32h0m0 1h0m0 2h0m0 14h0m0 21h0m0 45h0m1-265h0m0 211h0m1-271h0m0 32h0m0 46h0m0 19h0m0 114h0m0 73h0m1-203h0m0 6h0m0 44h0m0 58h0m0 58h0m0 79h0m1-152h0m0 29h0m0 22h0m0 44h0m1-31h0m0 98h0m1-322h0m0 164h0m0 32h0m0 56h0m0 29h0m1-346h0m0 92h0m0 73h0m0 194h0m1-203h0m1 25h0m0 96h0m0 4h0m0 57h0m1-343h0m0 240h0m0 76h0m1-261h0m0 74h0m0 135h0m0 109h0m1-268h0m0 175h0m0 15h0m0 93h0m1-150h0m0 22h0m0 101h0m1-40h0m0 17h0m0 33h0m1-112h0m0 4h0m0 27h0m1-627h0m0 217h0m0 337h0m0 35h0m0 86h0m0 41h0m2-324h0m0 194h0m0 36h0m0 14h0m0 16h0m0 37h0m1-204h0m0 43h0m0 24h0m0 13h0m0 6h0m0 70h0m0 69h0m1-250h0m0 197h0m0 24h0m1-221h0m0 3h0m0 22h0m0 244h0m1-502h0m0 37h0m0 18h0m0 326h0m1-419h0m0 15h0m0 323h0m0 7h0m0 64h0m0 60h0m0 40h0m1-152h0m0 119h0m1-142h0m0 24h0m0 27h0m0 6h0m0 51h0m0 13h0m0 3h0m0 14h0m0 60h0m1-249h0m0 228h0m1-197h0m0 18h0m0 28h0m1-97h0m0 42h0m0 125h0m0 52h0m0 6h0m1-128h0m0 15h0m0 67h0m0 57h0m0 22h0m0 18h0m1-314h0m0 50h0m0 127h0m0 7h0m1-8h0m0 20h0m1-260h0m0 176h0m0 54h0m0 82h0m1-275h0m0 134h0m0 98h0m0 47h0m0 39h0m1-561h0m0 343h0m0 151h0m0 87h0m1-325h0m0 193h0m0 107h0m0 15h0m1-327h0m0 210h0m1-327h0m0 241h0m0 74h0m0 52h0m0 53h0m1-352h0m0 183h0m0 24h0m0 103h0m0 3h0m0 26h0m1-149h0m0 8h0m1 73h0m0 16h0m1-170h0m0 150h0m0 61h0m0 15h0m0 45h0m1-345h0m0 129h0m0 24h0m0 165h0m1-125h0m0 41h0m0 47h0m0 49h0m1-319h0m0 151h0m0 17h0m0 5h0m0 155h0m1-330h0m0 216h0m0 86h0m1-349h0m0 78h0m0 213h0m0 39h0m1-366h0m0 266h0m0 67h0m0 9h0m1-319h0m0 94h0m0 94h0m0 107h0m1 82h0m0 19h0m1-443h0m0 201h0m0 112h0m0 61h0m1-45h0m0 82h0m1-367h0m0 41h0m0 272h0m0 33h0m1-244h0m0 80h0m0 174h0m0 34h0m1-480h0m0 317h0m0 72h0m1-176h0m0 159h0m0 56h0m1-187h0m0 151h0m1-113h0m0 4h0m0 57h0m0 41h0m0 22h0m1-221h0m0 60h0m0 85h0m0 31h0m0 107h0m1-301h0m0 36h0m0 128h0m0 20h0m0 7h0m0 59h0m0 55h0m0 21h0m1-191h0m0 38h0m0 105h0m0 13h0m1-148h0m0 25h0m0 28h0m0 17h0m0 103h0m1-98h0m0 73h0m1-153h0m0 126h0m0 4h0m1-562h0m0 51h0m0 382h0m0 165h0m1-275h0m0 84h0m0 25h0m0 135h0m1-444h0m0 16h0m0 7h0m0 39h0m0 121h0m0 103h0m0 136h0m1-321h0m0 50h0m0 198h0m0 29h0m0 91h0m1-1248h0m0 658h0m0 506h0m0 19h0m0 81h0m0 11h0m1-370h0m0 204h0m0 18h0m0 58h0m0 18h0m0 10h0m0 20h0m1-249h0m0 63h0m0 52h0m0 82h0m0 6h0m1-85h0m0 27h0m0 4h0m0 15h0m0 81h0m1-238h0m0 1h0m0 92h0m0 47h0m0 5h0m0 55h0m0 6h0m1-342h0m0 311h0m0 33h0m1-126h0m0 82h0m0 14h0m0 15h0m0 9h0m0 47h0m0 5h0m1-399h0m0 193h0m0 27h0m0 151h0m1-64h0m0 105h0m0 12h0m1-246h0m0 36h0m0 216h0m1-102h0m0 8h0m0 76h0m1-119h0m0 102h0m0 13h0m1-47h0m0 16h0m1-195h0m1 22h0m0 121h0m1-35h0m0 79h0m1-171h0m0 88h0m1-245h0m0 265h0m0 8h0m0 23h0m1-513h0m0 5h0m0 13h0m0 7h0m0 12h0m0 28h0m0 17h0m0 16h0m0 206h0m0 74h0m0 93h0m0 89h0m0 28h0m0 8h0m1-311h0m0 205h0m0 55h0m1-246h0m0 9h0m0 164h0m0 38h0m0 24h0m0 43h0m1-425h0m0 363h0m0 9h0m0 74h0m1-239h0m0 33h0m0 169h0m0 42h0m0 1h0m1-369h0m0 337h0m1-75h0m0 109h0m0 0h0m1-185h0m0 139h0m0 17h0m0 1h0m0 8h0m1-110h0m0 2h0m1-165h0m0 73h0m0 26h0m0 25h0m0 40h0m1-122h0m0 139h0m1-128h0m0 36h0m0 109h0m1-68h0m0 86h0m0 9h0m0 27h0m0 1h0m1-134h0m0 15h0m0 98h0m1-252h0m0 40h0m0 143h0m0 7h0m0 98h0m0 12h0m0 10h0m1-200h0m1-7h0m0 89h0m0 94h0m1-93h0m0 39h0m0 22h0m1-116h0m0 91h0m0 40h0m1-314h0m0 110h0m0 93h0m1-155h0m0 74h0m0 139h0m0 39h0m0 9h0m0 41h0m1-124h0m0 28h0m0 47h0m0 36h0m1-51h0m0 71h0m1-445h0m0 275h0m0 18h0m0 61h0m0 49h0m1-128h0m0 10h0m0 94h0m0 52h0m1-76h0m1-279h0m0 292h0m0 0h0m0 29h0m1-75h0m0 44h0m1-12h0m1-553h0m0 525h0m0 62h0m0 22h0m0 1h0m0 31h0m1-103h0m0 34h0m0 46h0m1-188h0m0 178h0m0 26h0m2-242h0m0 76h0m1-15h0m0 133h0m0 36h0m0 24h0m1-171h0m1 108h0m0 31h0m0 16h0m1-217h0m0 200h0m1-3h0m0 7h0m1-244h0m0 20h0m0 95h0m0 85h0m0 33h0m1-307h0m0 71h0m0 21h0m0 93h0m0 53h0m1 54h0m0 32h0m0 19h0m1-69h0m1-129h0m0 23h0m0 39h0m0 121h0m1-205h0m0 17h0m0 19h0m0 90h0m0 45h0m0 14h0m1-309h0m0 202h0m0 55h0m1-41h0m0 20h0m0 31h0m0 71h0m1-383h0m0 197h0m0 132h0m0 62h0m1-195h0m0 28h0m0 70h0m0 95h0m1-314h0m0 93h0m0 169h0m1-237h0m0 182h0m1-15h0m0 97h0m0 9h0m1-238h0m0 214h0m0 35h0m1-301h0m0 23h0m0 139h0m0 85h0m1-253h0m0 91h0m0 41h0m0 44h0m0 14h0m0 0h0m0 30h0m1-155h0m0 160h0m0 50h0m1-442h0m0 169h0m0 98h0m0 92h0m0 96h0m0 11h0m1-171h0m0 48h0m1-58h0m0 115h0m0 1h0m0 30h0m1-53h0m0 40h0m0 0h0m0 45h0m1-230h0m0 142h0m0 107h0m1-71h0m1-208h0m0 240h0m1-364h0m0 123h0m0 71h0m0 70h0m1-357h0m0 73h0m0 291h0m0 1h0m0 102h0m0 27h0m1-160h0m0 61h0m0 29h0m0 9h0m0 9h0m0 45h0m1-81h0m1-9h0m0 55h0m1-175h0m0 103h0m1-133h0m0 127h0m0 1h0m0 100h0m1-185h0m0 98h0m0 22h0m1-107h0m0 25h0m0 103h0m1-208h0m0 40h0m0 97h0m0 59h0m0 39h0m1-411h0m0 56h0m0 143h0m1-363h0m0 188h0m0 179h0m0 123h0m0 74h0m1-170h0m0 160h0m0 32h0m0 14h0m0 15h0m1-218h0m0 49h0m0 37h0m0 41h0m0 75h0m0 12h0m0 0h0m1-868h0m0 157h0m0 238h0m0 170h0m0 140h0m0 8h0m0 53h0m1-219h0m0 159h0m0 71h0m0 15h0m1-108h0m0 63h0m0 13h0m0 57h0m0 50h0m1-134h0m0 65h0m0 8h0m1-190h0m0 40h0m0 92h0m1-141h0m0 79h0m0 137h0m0 35h0m1-414h0m0 28h0m0 61h0m0 12h0m0 46h0m0 242h0m0 5h0m1-356h0m0 212h0m0 79h0m0 17h0m0 18h0m1-249h0m0 165h0m0 9h0m0 20h0m0 10h0m1-219h0m0 108h0m0 88h0m1-243h0m0 171h0m0 121h0m0 77h0m1-370h0m0 121h0m0 36h0m0 43h0m1-164h0m0 109h0m0 43h0m0 7h0m0 154h0m0 4h0m1-345h0m0 84h0m0 98h0m0 94h0m0 23h0m0 19h0m0 22h0m1-229h0m0 93h0m0 108h0m0 52h0m0 1h0m1-590h0m0 289h0m0 63h0m0 26h0m0 71h0m0 17h0m0 38h0m0 50h0m0 39h0m1-339h0m0 124h0m0 17h0m0 44h0m0 83h0m0 1h0m0 57h0m1-263h0m0 172h0m0 24h0m1-269h0m0 237h0m0 37h0m2-381h0m0 337h0m0 115h0m1-318h0m0 2h0m0 24h0m0 231h0m0 29h0m0 13h0m1-257h0m0 29h0m0 50h0m0 99h0m0 53h0m1-158h0m0 74h0m1-96h0m0 52h0m0 39h0m0 7h0m0 71h0m0 47h0m1-256h0m0 42h0m0 60h0m0 6h0m0 25h0m0 39h0m0 9h0m0 11h0m0 39h0m1-294h0m0 1h0m1 0h0m0 24h0m0 89h0m0 69h0m0 124h0m1-209h0m0 232h0m1-375h0m0 138h0m0 57h0m0 48h0m0 24h0m1-169h0m0 21h0m0 1h0m0 42h0m0 19h0m0 9h0m0 2h0m0 41h0m0 23h0m1-228h0m0 122h0m0 19h0m0 162h0m1-389h0m0 131h0m0 56h0m0 178h0m0 13h0m0 43h0m0 11h0m1-321h0m0 16h0m0 33h0m0 183h0m1-173h0m0 109h0m0 22h0m0 20h0m0 80h0m1-478h0m0 5h0m0 17h0m0 87h0m0 68h0m0 162h0m0 9h0m0 62h0m0 22h0m0 13h0m0 12h0m1-317h0m0 55h0m0 150h0m0 6h0m0 139h0m1-261h0m0 24h0m2-191h0m0 146h0m0 60h0m0 23h0m0 19h0m0 9h0m0 67h0m0 6h0m1-258h0m0 94h0m0 68h0m1-175h0m0 142h0m0 47h0m0 23h0m0 5h0m0 16h0m0 8h0m0 21h0m0 15h0m0 37h0m0 9h0m0 53h0m0 6h0m1-593h0m0 14h0m0 38h0m0 120h0m0 60h0m0 31h0m0 68h0m0 89h0m0 34h0m0 6h0m0 6h0m0 42h0m0 8h0m0 0h0m0 14h0m0 5h0m0 25h0m0 30h0m0 12h0m1-417h0m0 101h0m0 11h0m0 32h0m0 11h0m0 32h0m0 2h0m0 3h0m0 24h0m0 11h0m0 5h0m0 50h0m0 3h0m0 17h0m0 10h0m0 25h0m0 8h0m0 28h0m0 0h0m0 3h0m0 9h0m0 12h0m0 0h0m0 13h0m0 4h0m1-241h0m0 14h0m0 47h0m0 53h0m0 69h0m0 7h0m0 6h0m0 25h0m0 4h0m0 16h0m0 1h0m272-2h0m1-257h0m0 141h0m0 59h0m0 15h0m0 23h0m0 24h0m1-568h0m0 325h0m0 94h0m0 15h0m0 2h0m0 84h0m0 24h0m0 6h0m1-406h0m0 180h0m0 14h0m0 33h0m0 52h0m0 53h0m0 77h0m1-393h0m0 91h0m0 68h0m0 71h0m0 105h0m1-581h0m0 186h0m0 195h0m0 184h0m1-185h0m0 125h0m0 113h0m1-322h0m0 226h0m0 24h0m0 40h0m2-72h0m0 100h0m1-338h0m0 120h0m0 167h0m0 48h0m0 24h0m1-607h0m0 402h0m0 58h0m0 7h0m0 38h0m0 25h0m0 15h0m0 66h0m1-95h0m0 52h0m1-202h0m0 100h0m0 98h0m0 1h0m1-87h0m1-43h0m0 61h0m0 22h0m1-285h0m0 175h0m0 38h0m1-260h0m0 34h0m0 284h0m1-203h0m0 323h0m1-89h0m0 70h0m1-215h0m0 1h0m0 178h0m0 0h0m0 13h0m0 40h0m1-333h0m0 156h0m0 62h0m1 0h0m0 14h0m0 11h0m0 5h0m0 51h0m0 23h0m0 9h0m1-178h0m0 124h0m0 9h0m1-179h0m0 62h0m0 5h0m0 62h0m1-136h0m0 121h0m0 107h0m1-327h0m0 274h0m1-330h0m0 356h0m0 1h0m0 12h0m1-255h0m0 103h0m0 96h0m0 4h0m1-96h0m0 136h0m0 15h0m1-247h0m0 207h0m0 56h0m1-109h0m0 70h0m1-37h0m0 29h0m1-9h0m1 31h0m2-162h0m0 64h0m0 113h0m0 2h0m1-173h0m0 126h0m1-331h0m0 194h0m0 191h0m1-103h0m0 74h0m0 4h0m1-62h0m0 15h0m0 73h0m1-509h0m0 119h0m0 204h0m0 28h0m0 79h0m0 41h0m0 20h0m0 4h0m1-305h0m0 130h0m0 32h0m0 86h0m1-40h0m1-164h0m0 6h0m0 0h0m0 146h0m2 4h0m0 62h0m0 7h0m0 50h0m1-520h0m0 1h0m0 419h0m1-42h0m0 140h0m1-214h0m1-10h0m0 11h0m0 134h0m0 46h0m1-257h0m0 177h0m0 78h0m0 16h0m1-123h0m0 83h0m1-295h0m0 203h0m0 61h0m0 4h0m0 22h0m2-234h0m0 104h0m0 150h0m1-207h0m0 76h0m0 165h0m0 12h0m1-247h0m0 101h0m0 19h0m0 25h0m0 47h0m1-368h0m0 66h0m0 177h0m0 70h0m0 70h0m1-728h0m0 206h0m0 11h0m0 392h0m0 79h0m0 47h0m1-406h0m0 45h0m0 293h0m0 77h0m1-135h0m0 15h0m0 138h0m1-31h0m0 19h0m1-114h0m1-190h0m0 133h0m0 101h0m0 16h0m0 73h0m1-143h0m0 33h0m1-225h0m0 274h0m0 2h0m0 30h0m1-142h0m0 156h0m1-103h0m0 35h0m2-340h0m0 323h0m0 11h0m0 81h0m1-385h0m1 308h0m0 21h0m0 42h0m1-81h0m1-179h0m0 70h0m1-370h0m0 560h0m0 21h0m1-171h0m0 3h0m0 134h0m1-533h0m0 15h0m0 105h0m0 320h0m0 64h0m1-199h0m0 131h0m0 24h0m0 3h0m0 57h0m1-188h0m0 86h0m1-50h0m0 4h0m0 100h0m0 17h0m0 10h0m0 23h0m0 3h0m0 5h0m0 23h0m1-58h0m0 49h0m1-125h0m1 62h0m0 22h0m1-626h0m0 590h0m0 69h0m0 17h0m1-113h0m0 113h0m2-590h0m0 110h0m0 66h0m0 184h0m0 19h0m0 31h0m0 131h0m0 20h0m1-145h0m0 9h0m0 98h0m0 70h0m1-156h0m0 13h0m0 143h0m1-350h0m0 131h0m0 132h0m0 66h0m1-540h0m0 21h0m0 226h0m1-55h0m0 338h0m0 40h0m1-268h0m0 224h0m0 20h0m0 4h0m0 25h0m1-144h0m0 102h0m1-658h0m0 416h0m0 34h0m0 127h0m0 49h0m1-572h0m0 8h0m0 271h0m0 25h0m0 229h0m0 28h0m1-659h0m0 113h0m0 72h0m0 9h0m0 28h0m0 303h0m0 35h0m1 53h0m1-153h0m1 160h0m0 36h0m0 50h0m0 17h0m0 10h0m1-345h0m0 250h0m0 40h0m0 60h0m1-170h0m0 43h0m0 60h0m0 13h0m0 33h0m1-136h0m1 86h0m1-78h0m0 142h0m1-181h0m0 48h0m0 95h0m0 2h0m1-174h0m0 44h0m0 142h0m1-279h0m0 182h0m1-44h0m0 157h0m1-24h0m0 43h0m1-174h0m0 19h0m0 147h0m1-258h0m0 125h0m0 118h0m0 25h0m1-196h0m1 112h0m0 76h0m1-180h0m0 157h0m1-77h0m0 38h0m0 40h0m1-242h0m1-220h0m0 50h0m0 48h0m0 329h0m0 21h0m0 22h0m1-65h0m1-91h0m0 97h0m0 73h0m0 3h0m1-210h0m0 181h0m1-115h0m0 88h0m1-180h0m0 51h0m0 73h0m1 103h0m1-335h0m0 254h0m0 63h0m1-338h0m0 135h0m0 44h0m0 188h0m1-305h0m0 54h0m0 83h0m0 58h0m0 102h0m1-115h0m0 64h0m1-206h0m0 159h0m0 74h0m0 14h0m1-47h0m0 35h0m1-162h0m0 136h0m1-1327h0m0 1228h0m0 131h0m1-220h0m0 144h0m0 8h0m0 87h0m1-166h0m0 53h0m0 5h0m0 68h0m1-112h0m0 69h0m0 20h0m0 44h0m0 23h0m2-318h0m0 291h0m1-347h0m0 93h0m0 236h0m1-226h0m0 62h0m0 14h0m0 165h0m0 3h0m1-137h0m0 94h0m0 13h0m0 12h0m0 36h0m0 10h0m1-174h0m0 144h0m1-115h0m0 20h0m0 7h0m0 37h0m0 6h0m0 42h0m1-346h0m0 234h0m0 16h0m0 29h0m0 90h0m1-210h0m0 106h0m1-26h0m0 137h0m1-175h0m0 118h0m0 21h0m0 9h0m1-155h0m0 74h0m0 1h0m0 52h0m1-145h0m0 16h0m0 105h0m0 10h0m1-230h0m0 40h0m1-24h0m0 275h0m1-835h0m0 211h0m0 303h0m0 119h0m0 82h0m0 93h0m1 10h0m0 3h0m0 9h0m1-186h0m0 182h0m1-233h0m0 125h0m0 44h0m0 45h0m1-264h0m0 160h0m0 147h0m1-74h0m1-31h0m0 2h0m0 20h0m1-1081h0m0 197h0m0 849h0m0 76h0m0 36h0m1-162h0m1-269h0m0 38h0m0 66h0m0 3h0m0 313h0m2-131h0m0 85h0m0 55h0m1-179h0m0 180h0m1-23h0m1-139h0m0 66h0m0 81h0m0 15h0m1-73h0m0 22h0m1-160h0m0 141h0m2 21h0m0 45h0m1-420h0m0 309h0m0 17h0m1-190h0m0 125h0m0 113h0m0 4h0m0 23h0m1-413h0m0 175h0m0 133h0m1-729h0m0 91h0m0 11h0m0 253h0m0 442h0m1-37h0m0 18h0m0 4h0m0 53h0m0 8h0m0 7h0m1-372h0m0 122h0m0 79h0m1-207h0m0 134h0m0 213h0m1-261h0m0 83h0m0 222h0m1-274h0m0 125h0m1 122h0m0 8h0m0 15h0m1-141h0m0 42h0m0 14h0m0 24h0m1-7h0m0 25h0m0 9h0m0 1h0m1-122h0m0 96h0m1-104h0m0 17h0m0 149h0m2-128h0m0 7h0m0 41h0m0 31h0m0 0h0m0 5h0m0 22h0m1-170h0m0 132h0m1-287h0m0 260h0m0 25h0m0 28h0m1-292h0m0 122h0m0 58h0m0 129h0m1-201h0m0 159h0m0 44h0m1-224h0m0 73h0m0 6h0m0 140h0m1-75h0m0 77h0m1-85h0m0 87h0m1-182h0m0 93h0m0 75h0m1-769h0m0 621h0m0 42h0m0 137h0m0 1h0m1-265h0m0 156h0m0 62h0m1-243h0m0 50h0m0 118h0m0 109h0m1-27h0m1-138h0m0 162h0m0 10h0m1-225h0m0 117h0m0 31h0m0 34h0m0 10h0m0 9h0m0 29h0m1-522h0m0 354h0m0 55h0m1 27h0m1-444h0m0 410h0m0 51h0m1-421h0m0 21h0m0 26h0m0 45h0m0 153h0m0 104h0m0 99h0m1-169h0m1-112h0m0 169h0m256-6h0m0 41h0m1-54h0m0 70h0m0 23h0m0 36h0m0 16h0m1-231h0m0 152h0m0 4h0m0 5h0m0 36h0m0 20h0m0 9h0m0 6h0m1-635h0m0 28h0m0 31h0m0 176h0m0 374h0m0 7h0m0 37h0m1-488h0m0 5h0m0 70h0m0 248h0m0 58h0m0 62h0m0 15h0m0 18h0m0 6h0m1-248h0m0 69h0m1-134h0m0 230h0m0 15h0m0 54h0m1-183h0m0 82h0m0 2h0m0 65h0m1 55h0m1-201h0m0 49h0m0 4h0m0 53h0m0 10h0m1-471h0m0 90h0m0 40h0m0 266h0m0 25h0m0 5h0m0 131h0m1-384h0m0 260h0m0 15h0m0 4h0m1-124h0m0 163h0m0 22h0m1-341h0m0 92h0m0 107h0m0 47h0m0 30h0m0 98h0m1-219h0m0 54h0m0 13h0m0 129h0m0 10h0m0 25h0m1 0h0m1-205h0m1-65h0m0 67h0m0 101h0m0 24h0m1-259h0m0 176h0m0 12h0m0 59h0m0 37h0m1-291h0m0 36h0m0 87h0m0 24h0m0 1h0m0 24h0m0 50h0m0 60h0m0 65h0m1-369h0m0 18h0m0 4h0m0 36h0m0 35h0m0 1h0m0 13h0m0 22h0m0 27h0m0 89h0m0 9h0m0 102h0m0 13h0m1-311h0m0 2h0m0 39h0m0 19h0m0 128h0m0 18h0m0 30h0m0 52h0m1-378h0m0 69h0m0 68h0m0 13h0m0 1h0m0 32h0m0 22h0m0 56h0m0 8h0m0 12h0m1-253h0m0 59h0m0 96h0m0 1h0m0 39h0m0 22h0m0 110h0m0 11h0m1-339h0m0 90h0m0 192h0m0 29h0m1-390h0m0 12h0m0 22h0m0 52h0m0 30h0m0 6h0m0 29h0m0 116h0m0 173h0m1-941h0m0 593h0m0 34h0m0 32h0m0 46h0m0 20h0m0 19h0m0 93h0m0 13h0m1-496h0m0 9h0m0 9h0m0 37h0m0 7h0m0 9h0m0 166h0m0 79h0m0 117h0m1-512h0m0 164h0m0 20h0m0 207h0m0 1h0m0 85h0m0 56h0m0 95h0m0 49h0m1-502h0m0 25h0m0 13h0m0 34h0m0 8h0m0 17h0m0 23h0m0 32h0m0 31h0m0 18h0m0 40h0m0 6h0m0 173h0m0 58h0m1-367h0m0 319h0m1-600h0m0 290h0m0 16h0m0 155h0m0 34h0m0 140h0m0 37h0m1-449h0m0 38h0m0 139h0m0 36h0m0 101h0m0 9h0m0 31h0m0 82h0m1-666h0m0 344h0m0 23h0m0 91h0m0 160h0m1-336h0m0 69h0m0 70h0m0 58h0m0 11h0m0 34h0m0 47h0m1-272h0m0 18h0m0 1h0m0 193h0m0 47h0m1-258h0m0 133h0m0 22h0m0 224h0m1-298h0m0 7h0m0 199h0m0 42h0m0 11h0m0 13h0m0 13h0m1-131h0m1-246h0m0 32h0m0 6h0m0 43h0m0 19h0m0 9h0m0 40h0m0 123h0m0 37h0m1-563h0m0 15h0m0 40h0m0 39h0m0 22h0m0 176h0m0 101h0m0 71h0m0 20h0m0 56h0m0 33h0m1-890h0m0 61h0m0 589h0m0 6h0m0 43h0m0 34h0m0 170h0m0 33h0m0 25h0m1-422h0m0 75h0m0 13h0m0 4h0m0 9h0m0 5h0m0 41h0m0 5h0m0 10h0m0 121h0m0 10h0m0 119h0m1-353h0m0 47h0m0 43h0m0 59h0m0 8h0m1-236h0m0 78h0m0 19h0m0 105h0m0 43h0m0 29h0m0 62h0m0 76h0m1-288h0m0 32h0m0 16h0m0 23h0m0 60h0m0 17h0m0 2h0m0 20h0m0 10h0m0 62h0m0 1h0m0 29h0m1-609h0m0 4h0m0 64h0m0 18h0m0 9h0m0 5h0m0 21h0m0 22h0m0 7h0m0 182h0m0 37h0m0 1h0m0 42h0m0 26h0m0 0h0m0 13h0m0 28h0m0 58h0m0 36h0m0 84h0m1-328h0m0 44h0m0 80h0m0 106h0m0 17h0m0 16h0m0 27h0m1-34h0m0 51h0m1-107h0m0 39h0m0 1h0m1-334h0m0 34h0m0 158h0m0 15h0m0 55h0m1-77h0m0 123h0m0 60h0m1-16h0m1-788h0m0 222h0m0 110h0m0 31h0m0 110h0m0 376h0m0 8h0m1-308h0m0 46h0m0 48h0m0 84h0m0 63h0m1-160h0m0 31h0m0 4h0m0 10h0m0 36h0m0 41h0m0 51h0m0 37h0m1-277h0m0 154h0m0 73h0m0 26h0m0 12h0m1-214h0m0 122h0m0 24h0m1-45h0m0 120h0m1-255h0m0 146h0m0 6h0m0 52h0m1-15h0m0 38h0m1 52h0m1-211h0m0 1h0m0 48h0m0 4h0m0 26h0m0 95h0m1-176h0m0 99h0m0 27h0m0 76h0m1-357h0m0 210h0m0 85h0m0 6h0m0 4h0m0 10h0m0 19h0m0 14h0m1-200h0m0 117h0m0 15h0m1-255h0m0 265h0m0 3h0m0 1h0m1-266h0m1 212h0m0 34h0m1-153h0m0 32h0m0 52h0m0 111h0m1 9h0m0 14h0m1-194h0m0 131h0m0 45h0m0 3h0m0 39h0m1-136h0m0 29h0m0 108h0m1-259h0m0 111h0m0 62h0m0 30h0m0 48h0m1-128h0m1-193h0m0 183h0m1 45h0m0 15h0m0 38h0m0 32h0m1-137h0m0 91h0m0 31h0m1-187h0m0 14h0m0 83h0m1-133h0m0 62h0m0 37h0m0 49h0m0 4h0m0 77h0m1-229h0m0 118h0m0 18h0m0 29h0m0 5h0m0 71h0m1-22h0m0 35h0m1-42h0m1-14h0m0 60h0m1-964h0m0 814h0m1-111h0m0 78h0m0 176h0m1-598h0m0 402h0m0 105h0m0 3h0m0 72h0m1-425h0m0 305h0m0 5h0m0 44h0m1-259h0m0 163h0m0 76h0m0 57h0m0 3h0m1-219h0m0 27h0m0 23h0m0 177h0m1-297h0m0 86h0m0 95h0m0 43h0m0 70h0m1-171h0m0 159h0m0 29h0m0 20h0m1-358h0m0 39h0m0 169h0m0 132h0m1-400h0m0 215h0m0 63h0m0 58h0m0 47h0m1-262h0m0 119h0m0 62h0m0 18h0m0 49h0m0 31h0m0 32h0m1-248h0m0 29h0m0 30h0m0 166h0m1-240h0m0 55h0m0 83h0m1 34h0m0 12h0m1-63h0m0 33h0m0 94h0m1-344h0m0 109h0m0 51h0m0 10h0m0 10h0m0 49h0m0 30h0m1-250h0m0 187h0m0 59h0m0 37h0m1-7h0m0 13h0m0 12h0m0 28h0m0 19h0m1-65h0m0 15h0m1-100h0m0 73h0m0 11h0m1-47h0m0 22h0m0 1h0m1 41h0m0 11h0m1-341h0m0 143h0m0 216h0m1-286h0m0 237h0m0 36h0m1-280h0m0 46h0m0 55h0m0 138h0m1-28h0m0 71h0m1-343h0m0 343h0m0 21h0m1-59h0m0 64h0m1-217h0m0 94h0m0 38h0m0 36h0m1 55h0m2-220h0m0 82h0m0 94h0m0 23h0m1-132h0m0 67h0m1-76h0m0 150h0m1-184h0m0 71h0m0 29h0m0 55h0m1-249h0m0 117h0m0 4h0m0 31h0m0 66h0m0 43h0m1-253h0m0 35h0m0 54h0m0 36h0m0 59h0m1 36h0m1-107h0m0 22h0m0 38h0m1-159h0m0 34h0m0 65h0m0 83h0m0 35h0m1-195h0m0 116h0m0 40h0m0 87h0m0 5h0m1-19h0m1-18h0m0 10h0m1-348h0m0 126h0m0 136h0m1-236h0m0 68h0m0 118h0m0 45h0m0 92h0m1-123h0m0 21h0m0 60h0m1-130h0m0 4h0m0 33h0m0 116h0m0 35h0m1-317h0m1 57h0m0 16h0m0 128h0m0 45h0m0 23h0m1-168h0m0 135h0m0 12h0m0 31h0m1-251h0m0 277h0m1-106h0m0 56h0m1 34h0m0 29h0m1-226h0m0 117h0m0 46h0m0 34h0m1-15h0m0 36h0m1-76h0m0 23h0m0 16h0m0 53h0m1-161h0m0 47h0m1-205h0m0 18h0m0 92h0m0 80h0m0 9h0m0 12h0m0 7h0m1-20h0m0 36h0m1-79h0m0 84h0m1-243h0m0 119h0m0 43h0m0 94h0m0 37h0m0 27h0m1-354h0m0 311h0m0 43h0m1-134h0m0 129h0m0 8h0m1-92h0m1-375h0m0 334h0m0 106h0m1-548h0m0 555h0m1-355h0m0 318h0m0 20h0m1-264h0m0 82h0m0 58h0m0 107h0m1-190h0m0 39h0m0 12h0m0 56h0m0 19h0m0 51h0m1-149h0m0 3h0m0 30h0m0 20h0m0 62h0m1-579h0m0 553h0m0 24h0m0 4h0m1-137h0m0 168h0m0 13h0m0 14h0m1-155h0m0 92h0m0 6h0m0 32h0m1-88h0m0 42h0m0 101h0m1-271h0m0 50h0m0 148h0m0 13h0m0 25h0m0 40h0m1-25h0m0 11h0m0 14h0m0 2h0m1-291h0m0 170h0m1-13h0m1-276h0m0 187h0m0 34h0m1 170h0m1-257h0m0 149h0m0 40h0m0 9h0m0 25h0m1-633h0m0 399h0m0 161h0m0 8h0m1-723h0m0 123h0m0 115h0m0 118h0m0 153h0m0 102h0m0 103h0m0 33h0m0 35h0m1-320h0m0 187h0m0 81h0m0 75h0m1-192h0m0 67h0m0 57h0m0 73h0m2-14h0m1-97h0m0 36h0m0 62h0m0 30h0m1-460h0m0 85h0m0 377h0m0 5h0m1-586h0m0 9h0m0 42h0m0 28h0m0 103h0m0 218h0m0 191h0m0 1h0m1-1051h0m0 392h0m0 52h0m0 101h0m0 260h0m0 73h0m0 17h0m0 1h0m0 134h0m0 22h0m1-392h0m0 215h0m0 11h0m0 42h0m1 88h0m1-88h0m0 40h0m0 38h0m1-264h0m0 78h0m0 114h0m0 34h0m0 36h0m1-10h0m1-545h0m0 513h0m0 9h0m0 58h0m0 15h0m0 11h0m1-470h0m0 113h0m0 276h0m0 0h0m0 21h0m0 50h0m1-424h0m0 152h0m0 45h0m0 62h0m0 102h0m0 39h0m0 29h0m1-400h0m0 158h0m0 202h0m0 30h0m1-404h0m0 209h0m0 140h0m0 27h0m1-778h0m0 88h0m0 9h0m0 390h0m0 88h0m0 138h0m230-121h0m0 72h0m0 118h0m0 11h0m0 4h0m1-365h0m0 41h0m0 196h0m0 22h0m0 72h0m0 13h0m0 1h0m0 31h0m1-141h0m0 94h0m0 11h0m0 13h0m0 13h0m0 1h0m1-195h0m0 19h0m0 100h0m0 34h0m0 43h0m1-230h0m0 245h0m1-132h0m0 26h0m0 43h0m1-139h0m0 28h0m0 138h0m1-231h0m0 148h0m0 16h0m0 106h0m1-478h0m0 425h0m0 51h0m1-183h0m0 47h0m0 5h0m0 40h0m0 10h0m1-5h0m0 61h0m1-55h0m0 15h0m0 59h0m1-738h0m0 23h0m0 595h0m0 8h0m0 5h0m0 62h0m1-128h0m0 42h0m0 26h0m0 12h0m0 24h0m0 72h0m1-191h0m0 160h0m1-27h0m0 46h0m1-136h0m1-168h0m1-41h0m0 81h0m0 55h0m0 27h0m0 158h0m2-53h0m1-191h0m0 97h0m0 37h0m0 74h0m0 24h0m0 11h0m0 16h0m0 8h0m0 10h0m1-431h0m0 110h0m0 172h0m0 60h0m0 29h0m0 29h0m1-48h0m0 86h0m1-210h0m0 102h0m0 57h0m1-391h0m0 105h0m0 173h0m0 33h0m0 17h0m0 31h0m1-115h0m0 57h0m0 1h0m0 31h0m0 72h0m1-439h0m0 51h0m0 97h0m0 123h0m0 153h0m1-263h0m0 166h0m0 125h0m0 27h0m1-285h0m0 27h0m1 127h0m0 52h0m0 25h0m0 17h0m0 26h0m1-456h0m0 214h0m0 0h0m0 10h0m0 197h0m1-18h0m0 49h0m1-183h0m0 63h0m0 34h0m0 8h0m1-180h0m0 2h0m0 116h0m0 99h0m1-4h0m0 33h0m1-222h0m0 82h0m0 31h0m1 58h0m0 72h0m1-249h0m0 170h0m1-120h0m0 103h0m0 5h0m0 54h0m0 16h0m1-126h0m0 3h0m0 29h0m0 49h0m0 1h0m1-34h0m0 21h0m0 27h0m1-158h0m0 160h0m0 36h0m1-229h0m0 74h0m0 19h0m0 51h0m0 58h0m0 44h0m0 1h0m1-270h0m0 19h0m1 77h0m0 107h0m0 37h0m0 16h0m1-80h0m1-89h0m0 3h0m1-21h0m0 38h0m0 85h0m1-118h0m0 85h0m0 57h0m0 44h0m0 1h0m1-100h0m0 38h0m0 49h0m1-385h0m1 78h0m0 103h0m0 79h0m0 0h0m0 53h0m0 79h0m1-50h0m0 26h0m0 41h0m1-322h0m0 140h0m0 23h0m0 119h0m1-175h0m0 78h0m0 52h0m1-156h0m0 117h0m0 79h0m0 12h0m1-325h0m0 29h0m0 181h0m0 83h0m1-457h0m0 8h0m0 379h0m0 81h0m1-255h0m0 239h0m1-199h0m0 85h0m0 79h0m0 63h0m1-342h0m0 354h0m1-743h0m0 638h0m0 33h0m0 45h0m0 37h0m1-74h0m0 55h0m0 36h0m1-366h0m0 2h0m0 204h0m0 147h0m1-135h0m0 17h0m0 27h0m1-223h0m0 69h0m0 89h0m0 27h0m0 88h0m0 52h0m1-208h0m0 77h0m0 49h0m1-61h0m0 77h0m0 10h0m0 41h0m1-205h0m0 142h0m1-184h0m0 121h0m0 91h0m0 8h0m1 5h0m0 11h0m1-346h0m1 186h0m0 48h0m0 45h0m0 22h0m0 17h0m0 46h0m0 13h0m2-181h0m0 113h0m0 65h0m1-97h0m0 6h0m0 11h0m0 53h0m1-419h0m0 321h0m0 77h0m0 22h0m1-215h0m0 238h0m1-207h0m0 103h0m0 34h0m0 30h0m1-238h0m0 151h0m0 60h0m0 56h0m1-299h0m0 275h0m1-42h0m1-115h0m0 18h0m0 81h0m1-169h0m0 101h0m0 39h0m0 72h0m0 35h0m1-245h0m0 98h0m0 62h0m0 44h0m0 26h0m1-269h0m0 11h0m0 92h0m0 8h0m0 22h0m0 46h0m0 93h0m0 2h0m1-59h0m0 5h0m0 0h0m1-98h0m0 172h0m1-216h0m0 18h0m0 87h0m0 3h0m0 17h0m0 101h0m0 2h0m1-131h0m1-206h0m0 115h0m0 30h0m0 76h0m0 12h0m1-45h0m0 86h0m0 38h0m2-806h0m0 802h0m1-258h0m1 106h0m0 43h0m1-210h0m0 105h0m0 20h0m0 9h0m0 34h0m0 35h0m0 98h0m0 31h0m1-411h0m0 188h0m0 102h0m0 42h0m0 32h0m0 59h0m1-83h0m0 39h0m0 3h0m0 16h0m1-171h0m0 76h0m0 61h0m0 20h0m0 27h0m1-359h0m1 63h0m0 61h0m0 3h0m1 146h0m0 14h0m0 61h0m1-495h0m0 43h0m0 35h0m0 124h0m0 235h0m0 13h0m1-148h0m0 83h0m0 4h0m1-125h0m0 126h0m0 131h0m1-140h0m1-214h0m0 104h0m0 70h0m0 13h0m0 71h0m0 32h0m0 24h0m0 14h0m0 19h0m1-220h0m0 52h0m0 129h0m1-402h0m0 344h0m0 86h0m1-126h0m0 100h0m1-153h0m0 88h0m0 78h0m1-119h0m0 73h0m0 44h0m1-76h0m0 103h0m1-310h0m0 49h0m0 137h0m0 45h0m1-209h0m0 130h0m0 53h0m0 38h0m0 33h0m1 6h0m1-87h0m0 27h0m1-139h0m0 31h0m0 128h0m0 34h0m1-31h0m1-152h0m0 120h0m0 78h0m0 10h0m0 16h0m1-56h0m1-321h0m0 217h0m0 41h0m0 76h0m1-226h0m0 157h0m1-126h0m0 152h0m1-188h0m0 268h0m1-111h0m0 73h0m1-634h0m0 380h0m0 201h0m0 41h0m0 25h0m0 16h0m1-180h0m0 80h0m0 14h0m0 31h0m0 15h0m1-60h0m1-107h0m0 142h0m0 53h0m2-245h0m0 10h0m0 34h0m0 101h0m0 51h0m0 8h0m0 5h0m0 11h0m1-275h0m0 15h0m0 114h0m0 33h0m0 60h0m0 17h0m0 87h0m1-429h0m0 22h0m0 150h0m0 3h0m0 146h0m1-288h0m0 193h0m1 123h0m0 39h0m0 5h0m1-262h0m0 42h0m0 40h0m0 73h0m0 126h0m0 10h0m1-366h0m0 239h0m0 85h0m1-432h0m0 226h0m0 102h0m0 14h0m0 7h0m0 73h0m1 29h0m1-329h0m0 236h0m0 54h0m1-476h0m0 33h0m0 141h0m0 234h0m0 115h0m1-206h0m0 17h0m0 93h0m0 9h0m0 9h0m0 15h0m1-174h0m0 36h0m0 112h0m0 10h0m0 3h0m0 62h0m0 33h0m1-388h0m0 149h0m0 0h0m0 79h0m0 85h0m1-274h0m0 136h0m0 44h0m0 45h0m0 17h0m1-123h0m0 77h0m0 142h0m1-315h0m0 1h0m0 19h0m0 74h0m0 56h0m0 31h0m0 90h0m0 17h0m1-277h0m0 178h0m0 27h0m0 43h0m1-264h0m0 49h0m0 40h0m0 55h0m0 102h0m0 38h0m1-96h0m1-561h0m0 47h0m0 468h0m0 112h0m1-120h0m0 30h0m0 35h0m0 106h0m0 13h0m0 14h0m1-1193h0m0 220h0m0 241h0m0 107h0m0 5h0m0 7h0m0 90h0m0 14h0m0 248h0m0 45h0m0 3h0m0 23h0m0 9h0m0 5h0m0 54h0m0 29h0m0 40h0m0 10h0m1-200h0m0 144h0m0 4h0m0 76h0m0 16h0m1-230h0m0 37h0m0 36h0m0 32h0m0 5h0m0 54h0m0 12h0m0 47h0m0 4h0m1-151h0m0 5h0m0 0h0m0 85h0m0 3h0m0 24h0m0 3h0m0 6h0m0 0h0m0 32h0m1-433h0m0 13h0m0 14h0m0 14h0m208 304h0m0 61h0m0 10h0m1-315h0m0 112h0m0 31h0m0 79h0m0 6h0m0 15h0m0 80h0m0 10h0m1-502h0m0 430h0m1-215h0m0 75h0m0 63h0m0 45h0m0 35h0m0 37h0m1-172h0m0 100h0m0 29h0m1-247h0m0 79h0m0 168h0m0 11h0m0 8h0m1-216h0m0 40h0m0 51h0m0 46h0m0 17h0m0 49h0m1 17h0m0 13h0m0 36h0m1-580h0m0 72h0m0 262h0m0 121h0m0 15h0m0 73h0m0 12h0m1-196h0m0 139h0m0 30h0m0 38h0m2-260h0m0 122h0m0 12h0m1-312h0m0 117h0m0 23h0m0 9h0m0 55h0m0 84h0m0 26h0m0 131h0m1-168h0m0 29h0m0 114h0m1-69h0m0 37h0m1 66h0m1-337h0m0 99h0m0 68h0m1-82h0m0 40h0m0 36h0m0 14h0m0 40h0m0 79h0m0 16h0m1-345h0m0 247h0m0 14h0m0 6h0m0 18h0m0 24h0m1-521h0m0 36h0m0 497h0m0 48h0m1-231h0m0 54h0m0 39h0m0 23h0m0 39h0m0 3h0m0 18h0m0 37h0m0 8h0m1-231h0m0 51h0m1-45h0m0 29h0m0 48h0m0 0h0m0 22h0m1-286h0m0 391h0m1-173h0m1 39h0m1-114h0m0 95h0m0 93h0m1-381h0m0 372h0m0 72h0m0 30h0m1-94h0m0 25h0m0 3h0m0 21h0m1-459h0m0 22h0m0 259h0m0 110h0m0 50h0m0 12h0m0 42h0m1-488h0m0 183h0m0 51h0m0 158h0m0 19h0m0 21h0m0 47h0m1-304h0m0 190h0m1-254h0m0 192h0m0 70h0m0 45h0m0 11h0m0 32h0m0 5h0m1-216h0m1 61h0m0 178h0m1-230h0m0 109h0m0 54h0m0 55h0m1-214h0m0 36h0m0 113h0m1-124h0m0 59h0m0 39h0m1-228h0m0 47h0m0 13h0m0 114h0m0 65h0m0 48h0m0 54h0m1-234h0m1 190h0m1-52h0m0 35h0m1-170h0m0 196h0m0 24h0m1-42h0m0 27h0m2-293h0m0 8h0m0 187h0m1-48h0m0 66h0m0 26h0m1-286h0m0 152h0m0 52h0m0 27h0m0 25h0m0 90h0m0 10h0m1-330h0m0 92h0m0 80h0m0 38h0m1-132h0m0 114h0m0 3h0m0 52h0m0 48h0m0 15h0m0 29h0m1-119h0m0 42h0m1-156h0m0 47h0m0 98h0m1-170h0m0 173h0m0 24h0m1-277h0m0 145h0m0 33h0m1-73h0m0 48h0m0 25h0m0 62h0m0 24h0m0 13h0m0 25h0m1-261h0m0 91h0m0 53h0m0 99h0m0 42h0m1-273h0m0 99h0m0 25h0m0 17h0m0 29h0m0 50h0m1-38h0m0 21h0m1-53h0m0 9h0m0 61h0m0 23h0m0 19h0m1-12h0m1 29h0m1-198h0m0 56h0m0 56h0m0 17h0m0 76h0m1-162h0m0 61h0m0 101h0m1-223h0m0 11h0m0 24h0m0 135h0m1-112h0m0 36h0m1-76h0m0 187h0m1-112h0m1-220h0m0 19h0m0 181h0m0 13h0m0 55h0m0 24h0m1-214h0m0 17h0m0 87h0m0 59h0m0 68h0m0 11h0m1-244h0m0 49h0m0 86h0m0 72h0m0 55h0m1-301h0m0 64h0m0 11h0m0 63h0m0 74h0m0 25h0m1-168h0m0 134h0m0 18h0m1-124h0m0 103h0m0 113h0m1-351h0m0 145h0m0 48h0m0 41h0m0 93h0m0 16h0m1-220h0m0 35h0m0 49h0m0 7h0m0 70h0m0 17h0m1-319h0m0 244h0m0 83h0m1-156h0m0 31h0m0 26h0m0 55h0m1-171h0m0 39h0m0 36h0m0 114h0m0 0h0m1-281h0m0 72h0m1-27h0m0 3h0m0 40h0m0 1h0m0 59h0m0 1h0m0 16h0m0 45h0m0 31h0m0 44h0m0 6h0m0 25h0m0 19h0m1-386h0m0 211h0m0 30h0m0 82h0m1-97h0m0 71h0m0 100h0m1-390h0m0 11h0m0 4h0m0 204h0m0 18h0m0 57h0m0 38h0m0 0h0m1-169h0m0 97h0m0 36h0m0 73h0m1-397h0m0 94h0m0 81h0m0 197h0m1-315h0m0 114h0m0 33h0m0 129h0m0 51h0m1-270h0m0 52h0m0 30h0m0 49h0m0 41h0m0 14h0m1-158h0m0 254h0m1-629h0m0 31h0m0 90h0m0 49h0m0 83h0m0 255h0m0 71h0m0 71h0m1-281h0m0 32h0m0 106h0m0 98h0m1-300h0m0 238h0m0 11h0m0 86h0m1-360h0m0 120h0m0 9h0m0 79h0m1-121h0m0 160h0m0 43h0m0 8h0m0 10h0m0 1h0m0 6h0m1-144h0m0 36h0m0 97h0m0 68h0m1-239h0m0 33h0m0 35h0m0 7h0m0 24h0m1-243h0m0 78h0m0 86h0m0 67h0m1-291h0m0 193h0m0 160h0m0 48h0m0 11h0m1-230h0m0 33h0m0 19h0m0 75h0m0 17h0m1-231h0m0 77h0m0 218h0m0 45h0m0 2h0m1-347h0m0 147h0m0 19h0m0 83h0m0 42h0m0 42h0m1-168h0m0 43h0m1-56h0m0 108h0m0 55h0m0 39h0m1-318h0m0 105h0m1-673h0m0 693h0m0 4h0m0 55h0m0 11h0m0 42h0m0 1h0m0 10h0m1-708h0m0 186h0m0 112h0m0 54h0m0 67h0m0 24h0m0 77h0m0 68h0m0 46h0m0 33h0m0 82h0m1-282h0m0 75h0m0 9h0m1-270h0m0 91h0m0 178h0m0 57h0m0 9h0m0 66h0m0 12h0m0 66h0m1-372h0m0 14h0m0 90h0m0 132h0m0 107h0m1-256h0m0 90h0m0 51h0m0 22h0m0 41h0m0 32h0m1-187h0m0 120h0m0 96h0m1-918h0m0 81h0m0 41h0m0 22h0m0 266h0m0 58h0m0 86h0m0 168h0m0 43h0m0 125h0m0 8h0m0 47h0m1-765h0m0 7h0m0 501h0m0 78h0m0 63h0m0 9h0m0 112h0m0 8h0m1-824h0m0 26h0m0 8h0m0 26h0m0 44h0m0 95h0m0 359h0m0 92h0m1-65h0m0 23h0m0 40h0m0 9h0m1-70h0m0 63h0m0 69h0m0 77h0m1-325h0m0 15h0m0 64h0m0 131h0m0 28h0m0 24h0m0 51h0m1-174h0m0 8h0m0 127h0m0 6h0m0 0h0m0 2h0m0 19h0m1-220h0m0 121h0m1-217h0m0 71h0m0 87h0m0 117h0m0 70h0m1-234h0m0 9h0m0 12h0m0 74h0m0 22h0m0 129h0m1-198h0m0 58h0m0 70h0m0 16h0m0 13h0m0 47h0m1-189h0m0 137h0m0 22h0m1-353h0m0 127h0m0 11h0m1-38h0m0 104h0m0 42h0m0 13h0m2-469h0m0 284h0m0 68h0m0 43h0m0 5h0m0 98h0m0 83h0m1-471h0m0 312h0m0 6h0m0 62h0m0 49h0m0 14h0m1-201h0m0 128h0m1-153h0m0 106h0m0 77h0m0 64h0m0 19h0m0 4h0m1-517h0m0 11h0m0 24h0m0 29h0m0 95h0m0 284h0m0 3h0m0 22h0m1-343h0m0 240h0m1-741h0m0 54h0m0 60h0m0 69h0m0 109h0m0 162h0m0 304h0m0 133h0m1-164h0m0 108h0m0 21h0m1-311h0m0 64h0m0 158h0m0 62h0m0 32h0m1-317h0m0 84h0m0 1h0m0 30h0m0 47h0m0 157h0m1-332h0m0 156h0m0 13h0m0 12h0m0 42h0m0 26h0m0 22h0m0 11h0m0 68h0m1-331h0m0 7h0m0 134h0m0 51h0m0 49h0m0 77h0m1-198h0m1-266h0m0 63h0m0 27h0m0 74h0m0 176h0m0 100h0m1-370h0m0 142h0m0 46h0m0 84h0m0 143h0m1-302h0m0 185h0m0 22h0m0 32h0m1-300h0m0 91h0m0 37h0m0 49h0m0 23h0m0 65h0m0 15h0m0 44h0m0 15h0m0 5h0m0 6h0m1-180h0m0 125h0m0 48h0m0 14h0m1-402h0m0 84h0m0 119h0m0 48h0m0 27h0m0 5h0m0 4h0m0 30h0m0 25h0m0 52h0m0 12h0m1-262h0m0 42h0m0 19h0m0 25h0m0 19h0m0 0h0m0 19h0m0 4h0m0 1h0m0 27h0m0 28h0m0 10h0m0 7h0m0 11h0m0 8h0m0 4h0m0 43h0m1-129h0m0 18h0m0 30h0m0 36h0m0 44h0m1-206h0m0 50h0m0 6h0m0 41h0m203 91h0m1-837h0m0 25h0m0 522h0m0 95h0m0 157h0m1-505h0m0 31h0m0 117h0m0 9h0m0 273h0m0 102h0m0 15h0m1-31h0m0 20h0m1-189h0m0 29h0m0 61h0m0 22h0m0 35h0m0 52h0m1-294h0m0 18h0m0 29h0m0 26h0m0 160h0m0 18h0m0 9h0m1-221h0m0 94h0m0 59h0m0 32h0m0 46h0m1-189h0m0 52h0m0 97h0m2-150h0m0 56h0m1-52h0m0 23h0m0 85h0m1-445h0m0 151h0m0 243h0m0 7h0m0 159h0m1-374h0m0 269h0m0 7h0m1-409h0m0 58h0m0 52h0m0 16h0m0 117h0m0 183h0m0 4h0m0 36h0m0 20h0m1-309h0m0 189h0m0 113h0m1-190h0m0 73h0m0 1h0m0 5h0m0 74h0m0 14h0m1-289h0m0 250h0m0 88h0m0 0h0m1-344h0m0 90h0m0 90h0m0 44h0m0 64h0m1-224h0m0 287h0m1-208h0m0 26h0m0 54h0m0 109h0m1-231h0m0 131h0m0 14h0m0 47h0m1-251h0m0 40h0m0 143h0m0 41h0m0 44h0m1-236h0m0 72h0m0 44h0m0 64h0m0 19h0m0 50h0m1-202h0m0 140h0m0 74h0m1-223h0m0 71h0m0 13h0m0 118h0m1-154h0m0 78h0m0 62h0m1-23h0m0 22h0m0 47h0m1-175h0m0 61h0m0 40h0m0 13h0m1-107h0m0 31h0m0 9h0m1 15h0m0 91h0m1-225h0m0 32h0m0 2h0m0 68h0m0 76h0m1-130h0m0 19h0m0 84h0m0 22h0m0 36h0m1-276h0m0 104h0m0 105h0m0 40h0m0 69h0m1-778h0m0 548h0m0 97h0m0 115h0m1-14h0m0 23h0m1-242h0m0 1h0m0 43h0m0 21h0m0 126h0m1-60h0m0 18h0m1-28h0m0 78h0m0 12h0m1-140h0m0 99h0m0 69h0m1-271h0m0 158h0m0 11h0m0 48h0m0 19h0m1-337h0m0 253h0m0 29h0m0 67h0m0 15h0m1-293h0m0 162h0m0 9h0m1-171h0m0 82h0m0 144h0m0 32h0m0 32h0m0 21h0m2-335h0m0 30h0m0 31h0m0 35h0m0 178h0m1-187h0m0 100h0m0 24h0m0 10h0m0 19h0m0 20h0m1-71h0m0 71h0m1-85h0m0 23h0m0 40h0m0 23h0m0 16h0m0 1h0m0 49h0m1-225h0m0 209h0m1-345h0m0 261h0m1-186h0m0 190h0m0 103h0m1-404h0m0 386h0m1-238h0m0 25h0m0 45h0m0 53h0m0 48h0m0 38h0m0 0h0m1-53h0m0 55h0m1-234h0m0 58h0m0 179h0m0 2h0m1-314h0m0 173h0m0 63h0m0 33h0m0 52h0m0 36h0m1-729h0m0 560h0m0 81h0m0 14h0m0 1h0m0 38h0m1-109h0m0 113h0m0 19h0m1-543h0m0 66h0m0 219h0m0 13h0m0 37h0m0 89h0m0 49h0m0 23h0m1-640h0m0 16h0m0 4h0m0 30h0m0 188h0m0 336h0m1-196h0m0 119h0m0 53h0m1 57h0m0 30h0m0 7h0m1-226h0m0 68h0m0 10h0m0 39h0m0 67h0m0 33h0m0 20h0m0 45h0m1-227h0m0 149h0m0 55h0m0 8h0m1-317h0m0 198h0m1-36h0m0 35h0m0 21h0m0 77h0m0 32h0m1-119h0m0 20h0m1-111h0m1-146h0m0 192h0m0 42h0m0 37h0m1-272h0m0 168h0m0 165h0m1-247h0m0 82h0m0 52h0m1-232h0m0 68h0m0 103h0m0 58h0m0 26h0m0 50h0m0 53h0m1-271h0m0 27h0m0 41h0m0 3h0m0 140h0m0 16h0m0 11h0m0 41h0m1-291h0m0 269h0m1-204h0m0 45h0m0 107h0m1-386h0m0 16h0m0 38h0m0 318h0m0 53h0m1-280h0m0 28h0m0 71h0m0 1h0m0 84h0m0 30h0m0 107h0m1-32h0m0 15h0m1-153h0m0 38h0m0 9h0m0 18h0m0 88h0m1-254h0m0 22h0m0 78h0m0 79h0m0 26h0m0 50h0m2-363h0m0 164h0m0 146h0m0 21h0m1-61h0m0 19h0m1 35h0m0 28h0m1-91h0m0 84h0m1-137h0m0 45h0m0 24h0m0 18h0m1-180h0m0 73h0m0 133h0m0 47h0m0 9h0m1-214h0m0 51h0m0 6h0m0 7h0m0 148h0m1-309h0m0 27h0m0 145h0m0 94h0m0 26h0m1-627h0m0 30h0m0 480h0m0 101h0m1-80h0m0 4h0m0 41h0m1-164h0m1 43h0m0 34h0m1-131h0m0 163h0m0 32h0m0 7h0m0 32h0m0 43h0m0 13h0m1-334h0m0 166h0m0 30h0m0 110h0m1-177h0m0 99h0m0 30h0m0 36h0m1-211h0m0 104h0m0 83h0m0 2h0m1-560h0m0 174h0m0 283h0m0 44h0m1-89h0m0 188h0m1-299h0m0 1h0m0 72h0m0 113h0m1 88h0m0 39h0m1-204h0m0 181h0m0 29h0m1-101h0m0 19h0m0 9h0m1 37h0m1-123h0m0 44h0m0 64h0m0 10h0m0 19h0m1-198h0m0 29h0m0 11h0m0 52h0m0 3h0m0 27h0m0 2h0m0 7h0m0 72h0m1-329h0m0 63h0m0 195h0m0 87h0m1-233h0m0 82h0m0 40h0m0 65h0m1-402h0m0 67h0m0 77h0m0 55h0m0 190h0m1-177h0m0 218h0m1-200h0m0 21h0m0 112h0m0 24h0m0 49h0m1-352h0m0 164h0m0 45h0m0 155h0m1-195h0m1-76h0m0 77h0m0 19h0m0 7h0m0 90h0m1-165h0m0 83h0m0 54h0m0 28h0m0 18h0m0 32h0m0 16h0m1-119h0m0 15h0m0 67h0m0 4h0m1 16h0m0 3h0m1-257h0m0 185h0m1-194h0m0 102h0m0 99h0m0 8h0m0 43h0m1-431h0m0 70h0m0 273h0m0 38h0m0 54h0m0 22h0m0 17h0m1-424h0m0 16h0m0 85h0m0 27h0m0 156h0m0 11h0m0 1h0m1-342h0m0 10h0m0 8h0m0 7h0m0 4h0m0 9h0m0 305h0m0 69h0m1-219h0m0 24h0m0 38h0m0 38h0m0 22h0m0 78h0m0 9h0m0 17h0m0 45h0m1-108h0m0 44h0m1-195h0m0 5h0m0 11h0m0 39h0m0 95h0m0 90h0m1-262h0m0 126h0m0 1h0m0 7h0m0 73h0m0 20h0m0 59h0m1-326h0m0 59h0m0 168h0m1-296h0m0 85h0m0 142h0m0 62h0m0 12h0m0 60h0m1-200h0m0 191h0m1-147h0m0 77h0m1-805h0m0 545h0m0 136h0m0 167h0m1 31h0m0 26h0m1-57h0m1-409h0m0 264h0m0 35h0m0 12h0m0 29h0m0 27h0m0 109h0m1-237h0m0 215h0m1-108h0m0 43h0m0 32h0m1-494h0m0 338h0m0 159h0m1-178h0m0 197h0m1-526h0m0 205h0m0 208h0m0 152h0m1-464h0m0 424h0m0 28h0m1-148h0m0 34h0m0 37h0m0 9h0m0 40h0m0 20h0m1-158h0m0 34h0m0 15h0m0 29h0m1-128h0m0 40h0m0 56h0m0 45h0m0 19h0m0 37h0m1-98h0m0 6h0m0 55h0m0 2h0m0 16h0m1-385h0m0 8h0m0 20h0m0 151h0m0 50h0m0 162h0m1-155h0m0 84h0m0 15h0m0 15h0m0 45h0m0 0h0m1-265h0m0 93h0m0 86h0m0 28h0m0 1h0m1-281h0m0 131h0m0 82h0m0 18h0m1-208h0m0 111h0m0 183h0m0 53h0m1-212h0m0 63h0m0 37h0m0 84h0m0 19h0m0 1h0m0 5h0m1-169h0m0 68h0m0 10h0m0 78h0m0 22h0m1-22h0m1-289h0m0 159h0m197-210h0m0 361h0m1-148h0m0 36h0m0 8h0m0 16h0m1-179h0m0 135h0m0 89h0m0 12h0m0 24h0m1-39h0m1-565h0m0 20h0m0 6h0m0 150h0m0 316h0m0 86h0m1-87h0m0 38h0m0 12h0m0 11h0m1-266h0m0 30h0m0 190h0m0 101h0m1-175h0m0 117h0m1-130h0m0 44h0m0 96h0m0 12h0m0 15h0m1 6h0m1-93h0m1 86h0m0 12h0m1-388h0m0 345h0m0 45h0m1-285h0m0 40h0m0 10h0m0 129h0m0 24h0m0 44h0m0 14h0m0 34h0m1-90h0m0 12h0m1-310h0m0 177h0m0 37h0m0 17h0m0 65h0m0 33h0m0 45h0m1-182h0m0 116h0m1-703h0m0 259h0m0 199h0m0 71h0m0 70h0m0 11h0m0 69h0m1-229h0m0 120h0m0 0h0m0 54h0m0 7h0m0 111h0m0 9h0m1-63h0m1-27h0m0 26h0m0 98h0m1-363h0m0 224h0m1-64h0m0 82h0m0 48h0m1 50h0m0 7h0m1-264h0m0 137h0m0 30h0m0 61h0m0 17h0m1-63h0m0 7h0m0 21h0m1-212h0m0 92h0m0 35h0m0 91h0m1-190h0m0 74h0m0 120h0m0 53h0m0 3h0m1-332h0m0 164h0m0 5h0m0 29h0m0 52h0m0 8h0m0 37h0m1-291h0m0 46h0m0 51h0m0 38h0m1-37h0m0 53h0m0 50h0m0 121h0m1-601h0m0 8h0m0 12h0m0 8h0m0 34h0m0 6h0m0 45h0m0 330h0m0 115h0m0 53h0m1-244h0m0 14h0m0 85h0m0 43h0m0 73h0m1-201h0m0 22h0m1-193h0m0 245h0m1-317h0m0 62h0m0 170h0m0 10h0m0 45h0m0 88h0m0 31h0m0 48h0m0 17h0m1-265h0m0 53h0m0 135h0m0 38h0m1-245h0m0 116h0m0 79h0m0 27h0m1-321h0m0 90h0m0 157h0m1-211h0m0 39h0m0 91h0m0 21h0m0 85h0m0 4h0m1-150h0m0 5h0m0 201h0m0 51h0m1-517h0m0 21h0m0 145h0m0 237h0m0 36h0m0 24h0m0 27h0m1-527h0m0 19h0m0 8h0m0 332h0m0 1h0m0 31h0m0 66h0m0 24h0m0 65h0m1-345h0m0 118h0m0 48h0m0 11h0m0 29h0m0 26h0m0 72h0m1-310h0m0 234h0m0 5h0m1-116h0m0 22h0m0 129h0m0 20h0m1-154h0m0 17h0m0 50h0m0 20h0m0 94h0m0 19h0m1-153h0m0 34h0m0 17h0m1-309h0m0 43h0m0 1h0m0 19h0m0 62h0m0 5h0m0 55h0m0 251h0m1-301h0m0 147h0m0 40h0m0 77h0m1-214h0m0 83h0m1-146h0m0 263h0m1-38h0m0 84h0m1-222h0m0 36h0m0 75h0m0 12h0m0 26h0m0 15h0m0 49h0m1-315h0m0 201h0m0 35h0m1-207h0m0 72h0m0 144h0m0 1h0m0 6h0m0 6h0m0 30h0m1-173h0m0 57h0m0 74h0m0 30h0m0 20h0m0 9h0m1-467h0m0 65h0m0 164h0m0 151h0m0 47h0m1-771h0m0 13h0m0 78h0m0 13h0m0 587h0m0 17h0m0 46h0m0 55h0m1-337h0m0 26h0m0 43h0m0 152h0m1-102h0m0 97h0m0 142h0m1-636h0m0 9h0m0 42h0m0 157h0m0 186h0m0 43h0m0 70h0m1-334h0m0 198h0m0 30h0m0 29h0m0 25h0m0 48h0m0 32h0m0 91h0m1-364h0m0 47h0m0 143h0m0 6h0m0 67h0m0 18h0m0 47h0m1-169h0m0 151h0m0 31h0m1-211h0m0 85h0m0 9h0m0 23h0m0 46h0m1-145h0m0 170h0m0 16h0m1-306h0m0 145h0m0 175h0m0 25h0m1-128h0m0 14h0m0 11h0m1-205h0m0 91h0m0 47h0m0 10h0m0 8h0m0 84h0m0 52h0m1-225h0m0 112h0m1-147h0m0 4h0m0 107h0m0 87h0m1-158h0m0 63h0m0 82h0m0 34h0m0 9h0m0 0h0m0 18h0m0 26h0m1-222h0m0 16h0m0 75h0m0 139h0m1-323h0m0 163h0m1-38h0m0 18h0m0 77h0m0 68h0m1-474h0m0 234h0m0 24h0m0 115h0m0 75h0m0 25h0m0 7h0m1-95h0m0 63h0m1-247h0m0 135h0m0 33h0m1 27h0m0 22h0m0 74h0m0 14h0m1-77h0m0 33h0m0 4h0m1-237h0m0 136h0m0 116h0m1-269h0m0 202h0m0 58h0m1-219h0m0 57h0m0 4h0m0 54h0m0 68h0m1-299h0m0 72h0m0 34h0m0 148h0m0 55h0m0 5h0m0 44h0m1-324h0m0 151h0m0 32h0m0 23h0m0 119h0m0 4h0m1-77h0m0 81h0m1-350h0m0 42h0m0 137h0m0 11h0m0 60h0m0 45h0m0 41h0m0 14h0m1-888h0m0 621h0m0 113h0m0 48h0m0 32h0m0 12h0m1-742h0m0 132h0m0 19h0m0 68h0m0 462h0m0 79h0m0 4h0m0 4h0m0 2h0m0 37h0m1-489h0m0 24h0m0 6h0m0 16h0m0 238h0m0 4h0m0 66h0m0 18h0m1-179h0m0 112h0m0 49h0m0 100h0m0 10h0m1-366h0m0 3h0m0 171h0m0 15h0m0 32h0m0 74h0m0 8h0m0 68h0m1-228h0m0 51h0m0 64h0m0 61h0m0 17h0m0 58h0m168-620h0m0 91h0m0 205h0m0 55h0m0 54h0m0 4h0m0 145h0m0 10h0m0 12h0m0 3h0m0 6h0m0 1h0m0 13h0m0 0h0m1-544h0m0 50h0m0 23h0m0 89h0m0 155h0m0 47h0m0 18h0m0 11h0m0 4h0m0 8h0m0 16h0m0 16h0m0 23h0m0 5h0m0 21h0m0 34h0m0 2h0m0 4h0m0 2h0m0 0h0m0 2h0m0 16h0m1-432h0m0 8h0m0 8h0m0 90h0m0 10h0m0 88h0m0 25h0m0 40h0m0 5h0m0 2h0m0 21h0m0 34h0m0 22h0m0 14h0m0 2h0m0 0h0m0 3h0m0 4h0m0 7h0m0 11h0m0 44h0m0 7h0m0 3h0m0 0h0m1-1048h0m0 773h0m0 7h0m0 18h0m0 55h0m0 40h0m0 4h0m0 0h0m0 21h0m0 106h0m0 1h0m0 1h0m0 8h0m0 7h0m0 2h0m0 1h0m1-216h0m0 80h0m0 36h0m0 35h0m0 44h0m1-228h0m0 26h0m0 17h0m0 17h0m0 2h0m0 5h0m0 51h0m0 1h0m1-158h0m0 23h0m0 45h0m0 17h0m0 18h0m0 76h0m0 6h0m0 15h0m0 7h0m1-232h0m0 204h0m0 23h0m1-385h0m0 110h0m0 26h0m0 23h0m0 24h0m0 168h0m0 99h0m1-634h0m0 301h0m0 27h0m0 69h0m0 34h0m0 53h0m0 32h0m0 39h0m0 36h0m1-311h0m0 41h0m0 15h0m0 24h0m0 57h0m0 1h0m0 10h0m0 69h0m0 117h0m0 11h0m0 32h0m1-367h0m0 9h0m0 47h0m0 33h0m0 27h0m0 17h0m0 82h0m0 21h0m0 77h0m0 44h0m1-377h0m0 110h0m0 92h0m0 107h0m1-294h0m0 38h0m0 28h0m0 203h0m1-219h0m0 46h0m0 42h0m0 36h0m0 79h0m0 97h0m1-1038h0m0 79h0m0 38h0m0 399h0m0 328h0m0 25h0m0 19h0m0 81h0m0 93h0m1-577h0m0 143h0m0 30h0m0 8h0m0 197h0m0 91h0m0 71h0m1-229h0m0 184h0m1-281h0m0 113h0m0 25h0m0 15h0m0 138h0m0 11h0m1-235h0m0 33h0m0 251h0m1-288h0m0 14h0m0 123h0m0 17h0m0 4h0m0 18h0m0 75h0m1-335h0m0 42h0m0 38h0m0 123h0m0 27h0m0 20h0m0 37h0m0 72h0m0 25h0m1-452h0m0 109h0m0 35h0m0 73h0m0 46h0m0 44h0m0 34h0m1-412h0m0 79h0m0 114h0m0 34h0m0 152h0m0 6h0m1-216h0m0 59h0m0 50h0m0 87h0m0 121h0m1-351h0m0 135h0m0 12h0m0 38h0m0 33h0m0 85h0m0 13h0m0 10h0m0 39h0m1-263h0m0 68h0m0 168h0m1-303h0m0 110h0m0 15h0m0 19h0m1-33h0m0 36h0m0 18h0m0 68h0m0 18h0m0 91h0m1-337h0m0 20h0m0 49h0m0 120h0m0 163h0m1-265h0m0 40h0m0 62h0m0 81h0m0 78h0m1-265h0m0 51h0m0 83h0m0 14h0m0 78h0m0 1h0m0 5h0m1-250h0m0 109h0m0 2h0m0 39h0m0 16h0m0 27h0m0 27h0m0 24h0m0 38h0m1-345h0m0 74h0m0 37h0m0 53h0m0 13h0m0 56h0m0 57h0m0 26h0m0 19h0m0 9h0m1-381h0m0 86h0m0 30h0m0 152h0m0 1h0m0 57h0m0 42h0m0 11h0m1-319h0m0 161h0m0 3h0m0 10h0m0 8h0m0 25h0m0 13h0m0 5h0m0 15h0m0 3h0m1-118h0m0 19h0m0 36h0m0 65h0m0 24h0m0 4h0m0 1h0m0 44h0m1-63h0m0 46h0m13-224h0m0 1h0m0 149h0m0 42h0m1-259h0m0 68h0m0 69h0m0 7h0m0 50h0m0 13h0m0 60h0m0 6h0m0 13h0m0 17h0m0 12h0m1-357h0m0 129h0m0 8h0m0 71h0m0 0h0m0 86h0m1-130h0m0 42h0m0 26h0m0 42h0m0 5h0m0 47h0m0 5h0m0 12h0m0 13h0m1-218h0m0 30h0m0 26h0m0 13h0m0 14h0m0 18h0m0 51h0m0 30h0m0 13h0m0 16h0m1-380h0m0 55h0m0 116h0m0 104h0m1-408h0m0 60h0m0 201h0m0 77h0m0 46h0m0 4h0m0 2h0m0 35h0m0 22h0m0 56h0m1-280h0m0 31h0m0 55h0m0 37h0m0 19h0m0 14h0m0 52h0m0 3h0m1-310h0m0 167h0m0 72h0m0 84h0m0 13h0m1-34h0m0 66h0m0 26h0m1-326h0m0 12h0m0 18h0m0 88h0m1-244h0m0 6h0m0 15h0m0 28h0m0 365h0m0 25h0m1-781h0m0 70h0m0 174h0m0 59h0m0 129h0m0 68h0m0 32h0m0 63h0m0 9h0m0 12h0m0 29h0m0 28h0m0 19h0m0 23h0m0 16h0m0 15h0m1-324h0m0 59h0m0 59h0m0 5h0m0 21h0m0 9h0m0 53h0m1-217h0m0 9h0m0 55h0m0 117h0m0 51h0m0 150h0m1-181h0m0 45h0m1-146h0m0 230h0m1-182h0m0 122h0m0 6h0m1-56h0m0 52h0m0 78h0m0 13h0m1-251h0m0 14h0m0 19h0m0 19h0m0 89h0m0 19h0m0 27h0m1-228h0m0 4h0m0 236h0m1-297h0m0 158h0m0 117h0m0 39h0m1-192h0m0 18h0m0 221h0m1-313h0m0 18h0m0 14h0m0 42h0m0 54h0m0 15h0m0 3h0m0 33h0m0 100h0m0 45h0m1-310h0m0 71h0m0 36h0m0 133h0m1-320h0m0 124h0m0 108h0m0 34h0m0 17h0m0 11h0m0 32h0m1-86h0m0 70h0m1-308h0m0 170h0m0 10h0m0 74h0m0 103h0m0 13h0m1-332h0m0 66h0m0 12h0m0 40h0m0 76h0m0 116h0m1-343h0m0 66h0m0 23h0m0 111h0m0 11h0m0 15h0m0 48h0m0 53h0m1-148h0m0 1h0m0 16h0m0 42h0m1-158h0m0 37h0m0 158h0m0 10h0m1-201h0m0 6h0m0 100h0m0 35h0m0 71h0m0 57h0m0 20h0m1-354h0m0 141h0m0 17h0m0 52h0m0 152h0m1-245h0m0 24h0m0 102h0m0 5h0m0 49h0m0 17h0m1-225h0m0 38h0m0 46h0m0 61h0m0 13h0m1-217h0m0 147h0m0 99h0m0 13h0m1-232h0m0 20h0m0 32h0m0 81h0m0 8h0m0 25h0m0 18h0m0 103h0m1-502h0m0 134h0m0 31h0m0 20h0m0 14h0m0 33h0m0 64h0m0 51h0m0 64h0m0 73h0m1-433h0m0 124h0m0 101h0m0 185h0m0 53h0m1-332h0m0 165h0m0 125h0m1-369h0m0 86h0m0 111h0m0 30h0m0 46h0m1-62h0m0 15h0m0 37h0m0 3h0m0 3h0m0 4h0m0 44h0m0 6h0m0 70h0m0 1h0m0 3h0m1-302h0m0 14h0m0 30h0m0 11h0m0 13h0m0 115h0m0 36h0m0 4h0m0 3h0m0 0h0m0 4h0m0 65h0m0 29h0m0 2h0m1-229h0m0 129h0m0 13h0m0 30h0m0 27h0m1-238h0m0 48h0m0 37h0m0 20h0m0 3h0m0 25h0m0 13h0m0 8h0m0 27h0m0 22h0m0 7h0m0 38h0m0 15h0m0 1h0m1-647h0m0 223h0m0 13h0m0 71h0m0 121h0m0 0h0m0 7h0m0 13h0m0 11h0m0 72h0m0 34h0m0 4h0m0 9h0m0 6h0m0 0h0m0 6h0m0 9h0m0 6h0m0 0h0m0 27h0m0 6h0m1-354h0m0 148h0m0 139h0m0 37h0m0 3h0m0 7h0m144-555h0m0 41h0m0 539h0m1-192h0m0 6h0m0 107h0m0 43h0m1 8h0m0 26h0m1-693h0m0 522h0m0 86h0m0 89h0m1-186h0m0 56h0m0 21h0m0 14h0m0 36h0m0 26h0m1-471h0m0 303h0m0 14h0m0 44h0m1-330h0m0 81h0m0 284h0m0 10h0m0 1h0m1-243h0m0 179h0m0 15h0m0 97h0m0 36h0m1-162h0m0 77h0m0 15h0m0 49h0m0 12h0m1-119h0m0 0h0m0 20h0m0 12h0m0 36h0m0 11h0m0 4h0m0 13h0m0 30h0m0 19h0m1-279h0m0 121h0m0 149h0m1-318h0m0 176h0m0 91h0m1-66h0m1 85h0m1-155h0m0 34h0m0 111h0m1-66h0m0 26h0m0 87h0m1-505h0m0 70h0m0 360h0m0 55h0m1-134h0m0 101h0m0 26h0m1-156h0m0 87h0m0 26h0m1-180h0m0 11h0m0 89h0m1-104h0m0 5h0m0 83h0m0 154h0m1-275h0m0 79h0m0 152h0m0 7h0m1-318h0m0 112h0m0 75h0m1 60h0m0 22h0m0 13h0m0 41h0m0 10h0m1-285h0m0 2h0m0 107h0m0 10h0m0 120h0m0 84h0m1-183h0m0 157h0m0 17h0m1-302h0m0 205h0m0 9h0m1-41h0m1-209h0m0 58h0m0 38h0m0 93h0m0 0h0m1-171h0m0 166h0m0 18h0m0 97h0m0 30h0m1-18h0m1-195h0m0 46h0m1-312h0m0 109h0m0 57h0m0 63h0m0 152h0m0 6h0m0 50h0m0 40h0m1-147h0m1 54h0m0 110h0m1-37h0m0 8h0m1-893h0m0 516h0m0 214h0m0 71h0m0 64h0m1-288h0m0 165h0m0 29h0m1 61h0m0 42h0m0 39h0m1-356h0m0 174h0m0 117h0m0 66h0m1-261h0m0 90h0m0 2h0m0 27h0m0 59h0m0 10h0m0 18h0m0 40h0m0 23h0m1-205h0m0 37h0m0 48h0m0 52h0m0 28h0m1-456h0m0 211h0m0 195h0m1-158h0m1 91h0m0 128h0m1 15h0m1-254h0m0 105h0m0 54h0m1-65h0m0 27h0m0 20h0m0 20h0m0 12h0m0 39h0m1-128h0m0 58h0m0 49h0m1-130h0m0 126h0m1-100h0m0 113h0m0 20h0m0 39h0m0 10h0m1-132h0m0 29h0m0 79h0m1-555h0m0 79h0m0 49h0m0 209h0m0 34h0m0 115h0m0 94h0m1-229h0m0 94h0m0 20h0m0 36h0m0 42h0m1-93h0m0 88h0m1-313h0m1 290h0m0 45h0m0 10h0m1-324h0m0 64h0m0 97h0m0 58h0m0 20h0m0 19h0m1-101h0m0 46h0m0 76h0m0 25h0m1-241h0m0 70h0m0 175h0m2-133h0m0 16h0m0 14h0m0 25h0m0 22h0m1-139h0m0 89h0m0 117h0m0 13h0m1-199h0m0 147h0m1-171h0m0 49h0m0 92h0m1-132h0m0 151h0m0 27h0m1-168h0m0 186h0m1-628h0m0 342h0m0 119h0m0 84h0m0 16h0m0 89h0m1-99h0m0 22h0m0 6h0m0 29h0m1-95h0m0 103h0m1-111h0m0 53h0m0 44h0m0 5h0m0 32h0m1-176h0m0 34h0m0 96h0m0 8h0m1-209h0m0 238h0m1-319h0m0 150h0m0 118h0m0 38h0m2-133h0m0 78h0m1 29h0m0 2h0m1-214h0m0 112h0m0 87h0m0 70h0m1-9h0m1-175h0m0 50h0m0 32h0m1-36h0m0 53h0m0 8h0m0 54h0m1-354h0m0 74h0m0 20h0m0 9h0m0 70h0m0 38h0m0 107h0m0 14h0m0 11h0m0 29h0m1-258h0m0 88h0m0 70h0m0 3h0m0 73h0m0 13h0m1-202h0m122 161h0m1-250h0m0 151h0m0 87h0m0 8h0m0 54h0m1-49h0m1-81h0m1-128h0m0 45h0m0 169h0m0 24h0m0 16h0m1-196h0m0 32h0m0 6h0m0 49h0m0 102h0m1-29h0m0 32h0m1-68h0m0 5h0m0 18h0m1-45h0m0 71h0m0 34h0m1-23h0m1-98h0m0 36h0m1-11h0m0 9h0m0 11h0m0 70h0m1-384h0m0 154h0m0 81h0m0 111h0m1-175h0m0 152h0m0 17h0m1-256h0m0 222h0m0 51h0m1-134h0m0 26h0m0 40h0m1-90h0m0 32h0m0 112h0m0 26h0m1-195h0m0 79h0m0 127h0m1-311h0m0 134h0m0 52h0m0 36h0m1-410h0m0 368h0m0 18h0m0 4h0m0 28h0m0 91h0m1-370h0m0 95h0m0 85h0m0 145h0m0 34h0m1-611h0m0 312h0m0 14h0m0 47h0m0 25h0m0 63h0m0 97h0m1-390h0m0 327h0m0 95h0m0 11h0m1-212h0m0 1h0m0 118h0m1-298h0m0 5h0m0 14h0m0 97h0m0 106h0m0 116h0m0 12h0m0 6h0m0 0h0m1-229h0m0 106h0m0 85h0m1 13h0m0 27h0m0 13h0m0 1h0m1-160h0m0 2h0m0 93h0m1-234h0m0 94h0m0 34h0m0 99h0m0 6h0m1-218h0m0 19h0m0 70h0m0 55h0m0 3h0m0 22h0m0 153h0m1-165h0m0 146h0m0 10h0m1-258h0m0 96h0m0 11h0m0 41h0m0 56h0m1-230h0m0 8h0m0 60h0m0 199h0m1-254h0m0 101h0m0 48h0m0 44h0m1-364h0m0 167h0m0 122h0m0 32h0m0 88h0m0 23h0m0 19h0m1-378h0m0 16h0m0 40h0m0 97h0m0 150h0m0 22h0m0 22h0m1-366h0m0 235h0m0 63h0m1-490h0m0 102h0m0 71h0m0 218h0m0 8h0m1-139h0m0 124h0m0 19h0m0 41h0m0 30h0m1-223h0m0 82h0m0 7h0m0 185h0m1-104h0m0 33h0m0 30h0m0 11h0m0 7h0m0 10h0m0 76h0m1-317h0m0 38h0m0 14h0m0 22h0m0 97h0m1-14h0m0 12h0m0 24h0m0 75h0m0 39h0m1-547h0m0 273h0m0 106h0m0 19h0m0 122h0m1-306h0m0 83h0m0 52h0m0 97h0m0 51h0m0 40h0m1-555h0m0 11h0m0 139h0m0 72h0m0 111h0m0 46h0m0 166h0m0 31h0m1-294h0m0 37h0m1-207h0m0 174h0m0 4h0m0 10h0m0 17h0m0 26h0m0 63h0m0 33h0m0 35h0m1-57h0m0 35h0m0 39h0m0 13h0m0 54h0m1-29h0m0 36h0m0 12h0m1-443h0m0 253h0m0 41h0m1-508h0m0 23h0m0 119h0m0 62h0m0 70h0m0 178h0m0 26h0m1-244h0m0 24h0m0 239h0m0 64h0m0 41h0m1-297h0m0 21h0m0 132h0m0 2h0m0 114h0m0 43h0m0 13h0m1-248h0m0 100h0m0 38h0m0 7h0m0 65h0m1-189h0m0 35h0m0 53h0m0 48h0m1-477h0m0 248h0m0 104h0m0 37h0m0 44h0m0 54h0m0 106h0m1-357h0m0 239h0m0 70h0m1-67h0m0 104h0m1-278h0m0 106h0m0 42h0m0 20h0m0 46h0m1-205h0m0 74h0m0 187h0m1-318h0m0 20h0m0 83h0m0 70h0m0 15h0m0 38h0m0 21h0m0 35h0m0 18h0m0 3h0m1-403h0m0 99h0m0 236h0m0 18h0m0 7h0m1-431h0m0 370h0m0 7h0m0 97h0m1-346h0m0 188h0m0 49h0m0 57h0m0 21h0m0 5h0m0 44h0m1-267h0m0 60h0m0 47h0m0 22h0m0 3h0m0 58h0m0 20h0m0 29h0m0 18h0m0 15h0m0 10h0m0 6h0m1-218h0m0 103h0m0 5h0m0 1h0m0 40h0m0 2h0m0 7h0m0 23h0m0 21h0m0 4h0m0 11h0m1-359h0m0 66h0m0 10h0m0 58h0m0 25h0m0 91h0m0 60h0m1-294h0m0 127h0m0 161h0m0 29h0m0 14h0m126-379h0m0 27h0m0 200h0m0 44h0m0 17h0m0 30h0m1-197h0m0 33h0m0 2h0m0 9h0m0 11h0m0 72h0m0 15h0m0 14h0m0 20h0m0 16h0m0 1h0m0 5h0m0 1h0m0 13h0m0 2h0m0 9h0m0 2h0m0 16h0m0 4h0m0 5h0m0 10h0m1-449h0m0 20h0m0 14h0m0 36h0m0 67h0m0 62h0m0 16h0m0 67h0m0 40h0m0 59h0m0 17h0m0 4h0m0 26h0m0 4h0m0 20h0m0 4h0m0 0h0m0 4h0m1-336h0m0 4h0m0 33h0m0 74h0m0 4h0m0 8h0m0 1h0m0 10h0m0 57h0m0 11h0m0 20h0m0 5h0m0 28h0m0 1h0m0 18h0m0 1h0m0 6h0m0 2h0m0 12h0m0 25h0m0 7h0m0 8h0m0 0h0m1-467h0m0 20h0m0 85h0m0 99h0m0 5h0m0 12h0m0 38h0m0 24h0m0 1h0m0 17h0m0 86h0m0 14h0m0 2h0m0 30h0m0 19h0m1-593h0m0 24h0m0 170h0m0 125h0m0 1h0m0 3h0m0 152h0m0 47h0m1-194h0m0 102h0m0 21h0m1-99h0m0 3h0m0 20h0m0 38h0m0 71h0m1-68h0m0 52h0m0 38h0m1-181h0m0 4h0m0 17h0m0 19h0m0 25h0m0 62h0m0 14h0m1-237h0m0 19h0m0 67h0m0 67h0m0 60h0m0 86h0m1-33h0m0 23h0m0 22h0m0 17h0m0 26h0m0 23h0m1-387h0m0 193h0m0 155h0m1-230h0m0 80h0m1-83h0m0 81h0m0 50h0m0 45h0m0 42h0m0 42h0m1-259h0m0 113h0m0 9h0m1-202h0m0 19h0m0 6h0m0 74h0m0 18h0m0 26h0m0 29h0m0 4h0m0 47h0m1-384h0m0 145h0m0 26h0m0 123h0m0 116h0m0 71h0m0 30h0m1-235h0m0 33h0m0 35h0m0 46h0m0 38h0m0 12h0m1-250h0m0 13h0m0 2h0m0 8h0m0 51h0m0 107h0m1-128h0m0 9h0m0 98h0m1 12h0m0 107h0m0 24h0m1-239h0m0 8h0m0 24h0m0 24h0m0 84h0m0 56h0m1-270h0m0 147h0m0 21h0m0 33h0m0 21h0m0 37h0m0 42h0m0 19h0m1-339h0m0 178h0m1-455h0m0 276h0m0 1h0m0 6h0m0 81h0m0 2h0m0 2h0m0 75h0m0 94h0m0 38h0m1-407h0m0 26h0m0 18h0m0 47h0m0 54h0m0 17h0m0 37h0m0 24h0m0 52h0m0 88h0m0 13h0m0 84h0m1-213h0m0 61h0m0 110h0m1-501h0m0 237h0m0 102h0m1-129h0m0 98h0m0 16h0m0 16h0m0 42h0m0 20h0m1-202h0m0 18h0m0 65h0m0 39h0m0 101h0m1-542h0m0 49h0m0 162h0m0 60h0m0 11h0m0 80h0m0 115h0m0 78h0m0 47h0m1-316h0m0 37h0m0 210h0m0 3h0m0 103h0m0 11h0m1-362h0m0 148h0m0 13h0m0 37h0m0 33h0m0 78h0m1-236h0m0 88h0m0 3h0m0 16h0m0 48h0m0 3h0m0 2h0m0 1h0m0 18h0m0 1h0m0 23h0m0 1h0m0 5h0m0 53h0m0 10h0m0 26h0m0 2h0m0 2h0m1-320h0m0 42h0m0 47h0m0 69h0m0 12h0m0 14h0m0 1h0m0 27h0m0 7h0m0 3h0m0 9h0m0 3h0m0 2h0m0 6h0m0 4h0m0 18h0m0 1h0m0 6h0m0 10h0m0 5h0m0 10h0m0 2h0m0 7h0m0 2h0m1-401h0m0 41h0m0 138h0m0 29h0m0 2h0m0 24h0m0 68h0m0 22h0m0 11h0m0 3h0m0 32h0m0 0h0m0 8h0m0 9h0m0 1h0m0 1h0m0 0h0m0 3h0m0 1h0m0 2h0m0 4h0m0 2h0m0 8h0m1-647h0m0 313h0m0 146h0m0 34h0m0 42h0m0 2h0m0 69h0m0 26h0m1-656h0m0 72h0m0 160h0" stroke="#c0c0c0" stroke-width="15" stroke-linecap="round" fill="none"/></g><line x1="186" y1="211.8" x2="3981.0" y2="211.8" stroke="#000" stroke-width="6" stroke-dasharray="22.9 8.02"/><line x1="187" y1="36" x2="187" y2="1927" stroke="#000" stroke-width="4"/><line x1="170" y1="1925.0" x2="187" y2="1925.0" stroke="#000" stroke-width="4"/><line x1="170" y1="1619.2" x2="187" y2="1619.2" stroke="#000" stroke-width="4"/><line x1="170" y1="1313.3" x2="187" y2="1313.3" stroke="#000" stroke-width="4"/><line x1="170" y1="1007.5" x2="187" y2="1007.5" stroke="#000" stroke-width="4"/><line x1="170" y1="701.7" x2="187" y2="701.7" stroke="#000" stroke-width="4"/><line x1="170" y1="395.9" x2="187" y2="395.9" stroke="#000" stroke-width="4"/><line x1="170" y1="90.0" x2="187" y2="90.0" stroke="#000" stroke-width="4"/><g font-family="'DejaVu Sans','Liberation Sans',sans-serif" font-size="58.33" fill="#000"><text x="153" y="1948.0" text-anchor="end">0</text><text x="153" y="1642.2" text-anchor="end">1</text><text x="153" y="1336.3" text-anchor="end">2</text><text x="153" y="1030.5" text-anchor="end">3</text><text x="153" y="724.7" text-anchor="end">4</text><text x="153" y="418.9" text-anchor="end">5</text><text x="153" y="113.0" text-anchor="end">6</text><text x="349.2" y="2004" text-anchor="middle">1</text><text x="646.2" y="2004" text-anchor="middle">2</text><text x="914.2" y="2004" text-anchor="middle">3</text><text x="1153.6" y="2004" text-anchor="middle">4</text><text x="1384.1" y="2004" text-anchor="middle">5</text><text x="1603.6" y="2004" text-anchor="middle">6</text><text x="1810.6" y="2004" text-anchor="middle">7</text><text x="2004.7" y="2004" text-anchor="middle">8</text><text x="2188.6" y="2004" text-anchor="middle">9</text><text x="2366.0" y="2004" text-anchor="middle">10</text><text x="2540.6" y="2004" text-anchor="middle">11</text><text x="2714.8" y="2004" text-anchor="middle">12</text><text x="2878.2" y="2004" text-anchor="middle">13</text><text x="3026.7" y="2004" text-anchor="middle">14</text><text x="3168.1" y="2004" text-anchor="middle">15</text><text x="3300.6" y="2004" text-anchor="middle">16</text><text x="3421.6" y="2004" text-anchor="middle">17</text><text x="3535.7" y="2004" text-anchor="middle">18</text><text x="3637.7" y="2004" text-anchor="middle">19</text><text x="3731.6" y="2004" text-anchor="middle">20</text><text x="3819.6" y="2004" text-anchor="middle">21</text><text x="3901.1" y="2004" text-anchor="middle">22</text><text x="2085.4" y="2080" text-anchor="middle">Chromosome</text><text transform="translate(81 980.65) rotate(-90)" text-anchor="middle">−<tspan dx="-0.5">log</tspan><tspan font-size="40.83" dy="9.2">10</tspan><tspan dx="1.8" dy="-9.2"> (p value)</tspan></text></g></svg></body></html>
